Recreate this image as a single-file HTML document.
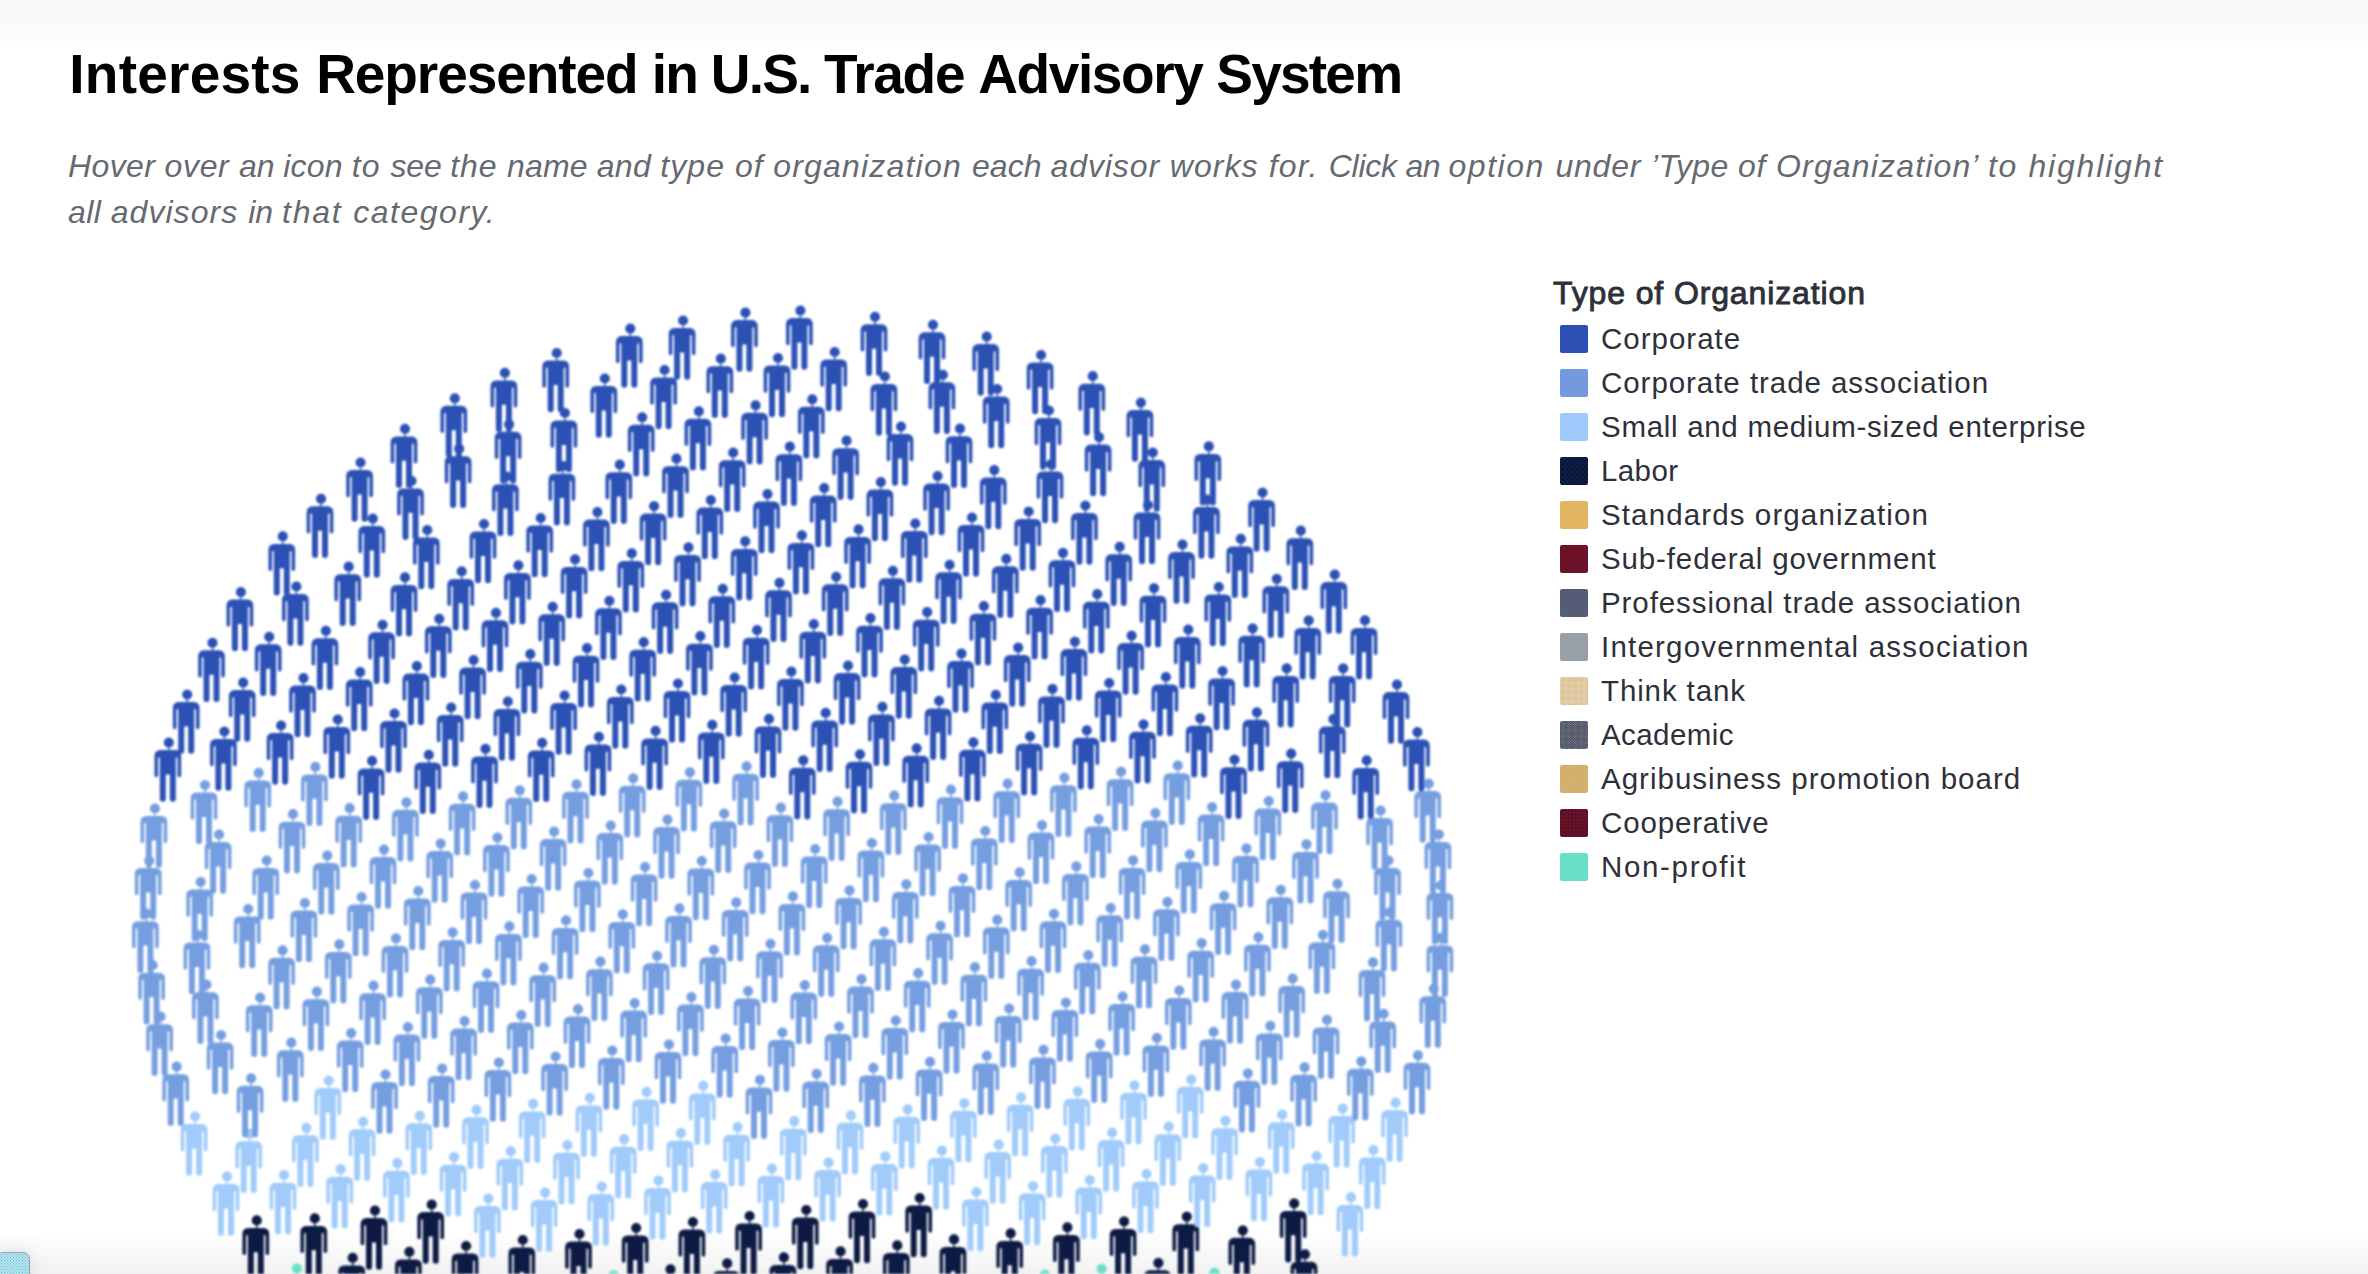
<!DOCTYPE html>
<html><head><meta charset="utf-8"><title>Interests Represented in U.S. Trade Advisory System</title>
<style>
html,body{margin:0;padding:0}
body{width:2368px;height:1274px;overflow:hidden;position:relative;background:#fff;font-family:"Liberation Sans",sans-serif}
.topg{position:absolute;left:0;top:0;width:2368px;height:52px;background:linear-gradient(#f8f8f8 0,#f8f8f8 22%,#fff 100%)}
.botg{position:absolute;left:0;top:1230px;width:2368px;height:44px;background:linear-gradient(#fff,#f2f2f2)}
.corner{position:absolute;left:-4px;top:1252px;width:32px;height:30px;border-radius:7px;background:radial-gradient(circle,#3fd6ae 0.45px,rgba(63,214,174,0) 1px) 0 0/3px 3px,radial-gradient(circle,#3fd6ae 0.45px,rgba(63,214,174,0) 1px) 1.5px 1.5px/3px 3px,#c3defa;border:1px solid #a3a3a3;box-shadow:0 0 16px rgba(150,170,220,0.35)}
h1{position:absolute;left:69.3px;top:39.1px;margin:0;font-size:55px;line-height:70px;font-weight:bold;color:#000;white-space:nowrap}
.sub{position:absolute;left:68px;top:144.2px;margin:0;font-size:32px;line-height:45.6px;font-style:italic;color:#666a70;white-space:nowrap}
.viz{position:absolute;left:0;top:0;filter:blur(0.8px)}
.lt{position:absolute;left:1553px;top:273.5px;font-size:32px;line-height:38px;font-weight:normal;-webkit-text-stroke:0.9px #2e3039;letter-spacing:0.88px;color:#2e3039;white-space:nowrap}
.li{position:absolute;left:1560px;height:28px;white-space:nowrap}
.li i{position:absolute;left:0;top:0;width:28px;height:28px;display:block;border-radius:2px}
.li span{position:absolute;left:41px;top:-5px;font-size:29.5px;line-height:38px;color:#2e3039;letter-spacing:0.9px}
</style></head><body>
<div class="topg"></div><div class="botg"></div>
<h1><span style="letter-spacing:0.23px">Interests </span><span style="letter-spacing:-1.08px">Represented </span><span style="letter-spacing:-1.69px">in </span><span style="letter-spacing:-1.81px">U.S. </span><span style="letter-spacing:-1.30px">Trade </span><span style="letter-spacing:-1.40px">Advisory </span><span style="letter-spacing:-1.77px">System</span></h1>
<p class="sub"><span style="letter-spacing:0.38px">Hover </span><span style="letter-spacing:0.65px">over </span><span style="letter-spacing:-0.09px">an </span><span style="letter-spacing:0.20px">icon </span><span style="letter-spacing:1.04px">to </span><span style="letter-spacing:-0.17px">see </span><span style="letter-spacing:0.86px">the </span><span style="letter-spacing:0.13px">name </span><span style="letter-spacing:0.33px">and </span><span style="letter-spacing:1.08px">type </span><span style="letter-spacing:0.84px">of </span><span style="letter-spacing:1.20px">organization </span><span style="letter-spacing:0.06px">each </span><span style="letter-spacing:0.89px">advisor </span><span style="letter-spacing:1.07px">works </span><span style="letter-spacing:1.21px">for. </span><span style="letter-spacing:-0.25px">Click </span><span style="letter-spacing:-0.46px">an </span><span style="letter-spacing:1.55px">option </span><span style="letter-spacing:0.79px">under </span><span style="letter-spacing:0.37px">’Type </span><span style="letter-spacing:0.84px">of </span><span style="letter-spacing:1.16px">Organization’ </span><span style="letter-spacing:1.64px">to </span><span style="letter-spacing:1.82px">highlight</span><br><span style="letter-spacing:0.45px">all </span><span style="letter-spacing:1.05px">advisors </span><span style="letter-spacing:0.03px">in </span><span style="letter-spacing:1.75px">that </span><span style="letter-spacing:1.53px">category.</span></p>
<svg class="viz" width="2368" height="1274" viewBox="0 0 2368 1274">
<path fill="#6adfc8" d="M297.9,1268.5m-6.1,0a5.1,5.1 0 1,1 10.2,0a5.1,5.1 0 1,1 -10.2,0zm4.4,4h1.4v5h-1.4zm-13.65,9a5.5,5.5 0 0,1 5.5,-5.5h15.7a5.5,5.5 0 0,1 5.5,5.5v19.9a1.8,1.8 0 0,1 -3.6,0v-18.1h-1.75v41.4a3,3 0 0,1 -6,0v-24.3h-4v24.3a3,3 0 0,1 -6,0v-41.4h-1.75v18.1a1.8,1.8 0 0,1 -3.6,0zM614.8,1275.3m-6.1,0a5.1,5.1 0 1,1 10.2,0a5.1,5.1 0 1,1 -10.2,0zm4.4,4h1.4v5h-1.4zm-13.65,9a5.5,5.5 0 0,1 5.5,-5.5h15.7a5.5,5.5 0 0,1 5.5,5.5v19.9a1.8,1.8 0 0,1 -3.6,0v-18.1h-1.75v41.4a3,3 0 0,1 -6,0v-24.3h-4v24.3a3,3 0 0,1 -6,0v-41.4h-1.75v18.1a1.8,1.8 0 0,1 -3.6,0zM1046.0,1274.8m-6.1,0a5.1,5.1 0 1,1 10.2,0a5.1,5.1 0 1,1 -10.2,0zm4.4,4h1.4v5h-1.4zm-13.65,9a5.5,5.5 0 0,1 5.5,-5.5h15.7a5.5,5.5 0 0,1 5.5,5.5v19.9a1.8,1.8 0 0,1 -3.6,0v-18.1h-1.75v41.4a3,3 0 0,1 -6,0v-24.3h-4v24.3a3,3 0 0,1 -6,0v-41.4h-1.75v18.1a1.8,1.8 0 0,1 -3.6,0zM1102.7,1268.8m-6.1,0a5.1,5.1 0 1,1 10.2,0a5.1,5.1 0 1,1 -10.2,0zm4.4,4h1.4v5h-1.4zm-13.65,9a5.5,5.5 0 0,1 5.5,-5.5h15.7a5.5,5.5 0 0,1 5.5,5.5v19.9a1.8,1.8 0 0,1 -3.6,0v-18.1h-1.75v41.4a3,3 0 0,1 -6,0v-24.3h-4v24.3a3,3 0 0,1 -6,0v-41.4h-1.75v18.1a1.8,1.8 0 0,1 -3.6,0zM1215.5,1272.7m-6.1,0a5.1,5.1 0 1,1 10.2,0a5.1,5.1 0 1,1 -10.2,0zm4.4,4h1.4v5h-1.4zm-13.65,9a5.5,5.5 0 0,1 5.5,-5.5h15.7a5.5,5.5 0 0,1 5.5,5.5v19.9a1.8,1.8 0 0,1 -3.6,0v-18.1h-1.75v41.4a3,3 0 0,1 -6,0v-24.3h-4v24.3a3,3 0 0,1 -6,0v-41.4h-1.75v18.1a1.8,1.8 0 0,1 -3.6,0z"/>
<path fill="#0d1b44" d="M257.8,1220.4m-6.1,0a5.1,5.1 0 1,1 10.2,0a5.1,5.1 0 1,1 -10.2,0zm4.4,4h1.4v5h-1.4zm-13.65,9a5.5,5.5 0 0,1 5.5,-5.5h15.7a5.5,5.5 0 0,1 5.5,5.5v19.9a1.8,1.8 0 0,1 -3.6,0v-18.1h-1.75v41.4a3,3 0 0,1 -6,0v-24.3h-4v24.3a3,3 0 0,1 -6,0v-41.4h-1.75v18.1a1.8,1.8 0 0,1 -3.6,0zM315.8,1218.4m-6.1,0a5.1,5.1 0 1,1 10.2,0a5.1,5.1 0 1,1 -10.2,0zm4.4,4h1.4v5h-1.4zm-13.65,9a5.5,5.5 0 0,1 5.5,-5.5h15.7a5.5,5.5 0 0,1 5.5,5.5v19.9a1.8,1.8 0 0,1 -3.6,0v-18.1h-1.75v41.4a3,3 0 0,1 -6,0v-24.3h-4v24.3a3,3 0 0,1 -6,0v-41.4h-1.75v18.1a1.8,1.8 0 0,1 -3.6,0zM376.0,1210.6m-6.1,0a5.1,5.1 0 1,1 10.2,0a5.1,5.1 0 1,1 -10.2,0zm4.4,4h1.4v5h-1.4zm-13.65,9a5.5,5.5 0 0,1 5.5,-5.5h15.7a5.5,5.5 0 0,1 5.5,5.5v19.9a1.8,1.8 0 0,1 -3.6,0v-18.1h-1.75v41.4a3,3 0 0,1 -6,0v-24.3h-4v24.3a3,3 0 0,1 -6,0v-41.4h-1.75v18.1a1.8,1.8 0 0,1 -3.6,0zM432.7,1204.6m-6.1,0a5.1,5.1 0 1,1 10.2,0a5.1,5.1 0 1,1 -10.2,0zm4.4,4h1.4v5h-1.4zm-13.65,9a5.5,5.5 0 0,1 5.5,-5.5h15.7a5.5,5.5 0 0,1 5.5,5.5v19.9a1.8,1.8 0 0,1 -3.6,0v-18.1h-1.75v41.4a3,3 0 0,1 -6,0v-24.3h-4v24.3a3,3 0 0,1 -6,0v-41.4h-1.75v18.1a1.8,1.8 0 0,1 -3.6,0zM353.7,1257.9m-6.1,0a5.1,5.1 0 1,1 10.2,0a5.1,5.1 0 1,1 -10.2,0zm4.4,4h1.4v5h-1.4zm-13.65,9a5.5,5.5 0 0,1 5.5,-5.5h15.7a5.5,5.5 0 0,1 5.5,5.5v19.9a1.8,1.8 0 0,1 -3.6,0v-18.1h-1.75v41.4a3,3 0 0,1 -6,0v-24.3h-4v24.3a3,3 0 0,1 -6,0v-41.4h-1.75v18.1a1.8,1.8 0 0,1 -3.6,0zM410.4,1251.9m-6.1,0a5.1,5.1 0 1,1 10.2,0a5.1,5.1 0 1,1 -10.2,0zm4.4,4h1.4v5h-1.4zm-13.65,9a5.5,5.5 0 0,1 5.5,-5.5h15.7a5.5,5.5 0 0,1 5.5,5.5v19.9a1.8,1.8 0 0,1 -3.6,0v-18.1h-1.75v41.4a3,3 0 0,1 -6,0v-24.3h-4v24.3a3,3 0 0,1 -6,0v-41.4h-1.75v18.1a1.8,1.8 0 0,1 -3.6,0zM467.1,1246.0m-6.1,0a5.1,5.1 0 1,1 10.2,0a5.1,5.1 0 1,1 -10.2,0zm4.4,4h1.4v5h-1.4zm-13.65,9a5.5,5.5 0 0,1 5.5,-5.5h15.7a5.5,5.5 0 0,1 5.5,5.5v19.9a1.8,1.8 0 0,1 -3.6,0v-18.1h-1.75v41.4a3,3 0 0,1 -6,0v-24.3h-4v24.3a3,3 0 0,1 -6,0v-41.4h-1.75v18.1a1.8,1.8 0 0,1 -3.6,0zM523.8,1240.0m-6.1,0a5.1,5.1 0 1,1 10.2,0a5.1,5.1 0 1,1 -10.2,0zm4.4,4h1.4v5h-1.4zm-13.65,9a5.5,5.5 0 0,1 5.5,-5.5h15.7a5.5,5.5 0 0,1 5.5,5.5v19.9a1.8,1.8 0 0,1 -3.6,0v-18.1h-1.75v41.4a3,3 0 0,1 -6,0v-24.3h-4v24.3a3,3 0 0,1 -6,0v-41.4h-1.75v18.1a1.8,1.8 0 0,1 -3.6,0zM580.5,1234.0m-6.1,0a5.1,5.1 0 1,1 10.2,0a5.1,5.1 0 1,1 -10.2,0zm4.4,4h1.4v5h-1.4zm-13.65,9a5.5,5.5 0 0,1 5.5,-5.5h15.7a5.5,5.5 0 0,1 5.5,5.5v19.9a1.8,1.8 0 0,1 -3.6,0v-18.1h-1.75v41.4a3,3 0 0,1 -6,0v-24.3h-4v24.3a3,3 0 0,1 -6,0v-41.4h-1.75v18.1a1.8,1.8 0 0,1 -3.6,0zM637.2,1228.0m-6.1,0a5.1,5.1 0 1,1 10.2,0a5.1,5.1 0 1,1 -10.2,0zm4.4,4h1.4v5h-1.4zm-13.65,9a5.5,5.5 0 0,1 5.5,-5.5h15.7a5.5,5.5 0 0,1 5.5,5.5v19.9a1.8,1.8 0 0,1 -3.6,0v-18.1h-1.75v41.4a3,3 0 0,1 -6,0v-24.3h-4v24.3a3,3 0 0,1 -6,0v-41.4h-1.75v18.1a1.8,1.8 0 0,1 -3.6,0zM693.9,1222.0m-6.1,0a5.1,5.1 0 1,1 10.2,0a5.1,5.1 0 1,1 -10.2,0zm4.4,4h1.4v5h-1.4zm-13.65,9a5.5,5.5 0 0,1 5.5,-5.5h15.7a5.5,5.5 0 0,1 5.5,5.5v19.9a1.8,1.8 0 0,1 -3.6,0v-18.1h-1.75v41.4a3,3 0 0,1 -6,0v-24.3h-4v24.3a3,3 0 0,1 -6,0v-41.4h-1.75v18.1a1.8,1.8 0 0,1 -3.6,0zM750.6,1216.0m-6.1,0a5.1,5.1 0 1,1 10.2,0a5.1,5.1 0 1,1 -10.2,0zm4.4,4h1.4v5h-1.4zm-13.65,9a5.5,5.5 0 0,1 5.5,-5.5h15.7a5.5,5.5 0 0,1 5.5,5.5v19.9a1.8,1.8 0 0,1 -3.6,0v-18.1h-1.75v41.4a3,3 0 0,1 -6,0v-24.3h-4v24.3a3,3 0 0,1 -6,0v-41.4h-1.75v18.1a1.8,1.8 0 0,1 -3.6,0zM671.5,1269.3m-6.1,0a5.1,5.1 0 1,1 10.2,0a5.1,5.1 0 1,1 -10.2,0zm4.4,4h1.4v5h-1.4zm-13.65,9a5.5,5.5 0 0,1 5.5,-5.5h15.7a5.5,5.5 0 0,1 5.5,5.5v19.9a1.8,1.8 0 0,1 -3.6,0v-18.1h-1.75v41.4a3,3 0 0,1 -6,0v-24.3h-4v24.3a3,3 0 0,1 -6,0v-41.4h-1.75v18.1a1.8,1.8 0 0,1 -3.6,0zM728.2,1263.4m-6.1,0a5.1,5.1 0 1,1 10.2,0a5.1,5.1 0 1,1 -10.2,0zm4.4,4h1.4v5h-1.4zm-13.65,9a5.5,5.5 0 0,1 5.5,-5.5h15.7a5.5,5.5 0 0,1 5.5,5.5v19.9a1.8,1.8 0 0,1 -3.6,0v-18.1h-1.75v41.4a3,3 0 0,1 -6,0v-24.3h-4v24.3a3,3 0 0,1 -6,0v-41.4h-1.75v18.1a1.8,1.8 0 0,1 -3.6,0zM784.9,1257.4m-6.1,0a5.1,5.1 0 1,1 10.2,0a5.1,5.1 0 1,1 -10.2,0zm4.4,4h1.4v5h-1.4zm-13.65,9a5.5,5.5 0 0,1 5.5,-5.5h15.7a5.5,5.5 0 0,1 5.5,5.5v19.9a1.8,1.8 0 0,1 -3.6,0v-18.1h-1.75v41.4a3,3 0 0,1 -6,0v-24.3h-4v24.3a3,3 0 0,1 -6,0v-41.4h-1.75v18.1a1.8,1.8 0 0,1 -3.6,0zM807.3,1210.0m-6.1,0a5.1,5.1 0 1,1 10.2,0a5.1,5.1 0 1,1 -10.2,0zm4.4,4h1.4v5h-1.4zm-13.65,9a5.5,5.5 0 0,1 5.5,-5.5h15.7a5.5,5.5 0 0,1 5.5,5.5v19.9a1.8,1.8 0 0,1 -3.6,0v-18.1h-1.75v41.4a3,3 0 0,1 -6,0v-24.3h-4v24.3a3,3 0 0,1 -6,0v-41.4h-1.75v18.1a1.8,1.8 0 0,1 -3.6,0zM864.0,1204.0m-6.1,0a5.1,5.1 0 1,1 10.2,0a5.1,5.1 0 1,1 -10.2,0zm4.4,4h1.4v5h-1.4zm-13.65,9a5.5,5.5 0 0,1 5.5,-5.5h15.7a5.5,5.5 0 0,1 5.5,5.5v19.9a1.8,1.8 0 0,1 -3.6,0v-18.1h-1.75v41.4a3,3 0 0,1 -6,0v-24.3h-4v24.3a3,3 0 0,1 -6,0v-41.4h-1.75v18.1a1.8,1.8 0 0,1 -3.6,0zM920.7,1198.0m-6.1,0a5.1,5.1 0 1,1 10.2,0a5.1,5.1 0 1,1 -10.2,0zm4.4,4h1.4v5h-1.4zm-13.65,9a5.5,5.5 0 0,1 5.5,-5.5h15.7a5.5,5.5 0 0,1 5.5,5.5v19.9a1.8,1.8 0 0,1 -3.6,0v-18.1h-1.75v41.4a3,3 0 0,1 -6,0v-24.3h-4v24.3a3,3 0 0,1 -6,0v-41.4h-1.75v18.1a1.8,1.8 0 0,1 -3.6,0zM841.6,1251.4m-6.1,0a5.1,5.1 0 1,1 10.2,0a5.1,5.1 0 1,1 -10.2,0zm4.4,4h1.4v5h-1.4zm-13.65,9a5.5,5.5 0 0,1 5.5,-5.5h15.7a5.5,5.5 0 0,1 5.5,5.5v19.9a1.8,1.8 0 0,1 -3.6,0v-18.1h-1.75v41.4a3,3 0 0,1 -6,0v-24.3h-4v24.3a3,3 0 0,1 -6,0v-41.4h-1.75v18.1a1.8,1.8 0 0,1 -3.6,0zM898.3,1245.4m-6.1,0a5.1,5.1 0 1,1 10.2,0a5.1,5.1 0 1,1 -10.2,0zm4.4,4h1.4v5h-1.4zm-13.65,9a5.5,5.5 0 0,1 5.5,-5.5h15.7a5.5,5.5 0 0,1 5.5,5.5v19.9a1.8,1.8 0 0,1 -3.6,0v-18.1h-1.75v41.4a3,3 0 0,1 -6,0v-24.3h-4v24.3a3,3 0 0,1 -6,0v-41.4h-1.75v18.1a1.8,1.8 0 0,1 -3.6,0zM955.0,1239.4m-6.1,0a5.1,5.1 0 1,1 10.2,0a5.1,5.1 0 1,1 -10.2,0zm4.4,4h1.4v5h-1.4zm-13.65,9a5.5,5.5 0 0,1 5.5,-5.5h15.7a5.5,5.5 0 0,1 5.5,5.5v19.9a1.8,1.8 0 0,1 -3.6,0v-18.1h-1.75v41.4a3,3 0 0,1 -6,0v-24.3h-4v24.3a3,3 0 0,1 -6,0v-41.4h-1.75v18.1a1.8,1.8 0 0,1 -3.6,0zM1011.7,1233.4m-6.1,0a5.1,5.1 0 1,1 10.2,0a5.1,5.1 0 1,1 -10.2,0zm4.4,4h1.4v5h-1.4zm-13.65,9a5.5,5.5 0 0,1 5.5,-5.5h15.7a5.5,5.5 0 0,1 5.5,5.5v19.9a1.8,1.8 0 0,1 -3.6,0v-18.1h-1.75v41.4a3,3 0 0,1 -6,0v-24.3h-4v24.3a3,3 0 0,1 -6,0v-41.4h-1.75v18.1a1.8,1.8 0 0,1 -3.6,0zM1068.4,1227.4m-6.1,0a5.1,5.1 0 1,1 10.2,0a5.1,5.1 0 1,1 -10.2,0zm4.4,4h1.4v5h-1.4zm-13.65,9a5.5,5.5 0 0,1 5.5,-5.5h15.7a5.5,5.5 0 0,1 5.5,5.5v19.9a1.8,1.8 0 0,1 -3.6,0v-18.1h-1.75v41.4a3,3 0 0,1 -6,0v-24.3h-4v24.3a3,3 0 0,1 -6,0v-41.4h-1.75v18.1a1.8,1.8 0 0,1 -3.6,0zM1125.1,1221.4m-6.1,0a5.1,5.1 0 1,1 10.2,0a5.1,5.1 0 1,1 -10.2,0zm4.4,4h1.4v5h-1.4zm-13.65,9a5.5,5.5 0 0,1 5.5,-5.5h15.7a5.5,5.5 0 0,1 5.5,5.5v19.9a1.8,1.8 0 0,1 -3.6,0v-18.1h-1.75v41.4a3,3 0 0,1 -6,0v-24.3h-4v24.3a3,3 0 0,1 -6,0v-41.4h-1.75v18.1a1.8,1.8 0 0,1 -3.6,0zM1187.8,1216.7m-6.1,0a5.1,5.1 0 1,1 10.2,0a5.1,5.1 0 1,1 -10.2,0zm4.4,4h1.4v5h-1.4zm-13.65,9a5.5,5.5 0 0,1 5.5,-5.5h15.7a5.5,5.5 0 0,1 5.5,5.5v19.9a1.8,1.8 0 0,1 -3.6,0v-18.1h-1.75v41.4a3,3 0 0,1 -6,0v-24.3h-4v24.3a3,3 0 0,1 -6,0v-41.4h-1.75v18.1a1.8,1.8 0 0,1 -3.6,0zM1243.8,1230.3m-6.1,0a5.1,5.1 0 1,1 10.2,0a5.1,5.1 0 1,1 -10.2,0zm4.4,4h1.4v5h-1.4zm-13.65,9a5.5,5.5 0 0,1 5.5,-5.5h15.7a5.5,5.5 0 0,1 5.5,5.5v19.9a1.8,1.8 0 0,1 -3.6,0v-18.1h-1.75v41.4a3,3 0 0,1 -6,0v-24.3h-4v24.3a3,3 0 0,1 -6,0v-41.4h-1.75v18.1a1.8,1.8 0 0,1 -3.6,0zM1295.2,1203.4m-6.1,0a5.1,5.1 0 1,1 10.2,0a5.1,5.1 0 1,1 -10.2,0zm4.4,4h1.4v5h-1.4zm-13.65,9a5.5,5.5 0 0,1 5.5,-5.5h15.7a5.5,5.5 0 0,1 5.5,5.5v19.9a1.8,1.8 0 0,1 -3.6,0v-18.1h-1.75v41.4a3,3 0 0,1 -6,0v-24.3h-4v24.3a3,3 0 0,1 -6,0v-41.4h-1.75v18.1a1.8,1.8 0 0,1 -3.6,0zM1159.4,1262.8m-6.1,0a5.1,5.1 0 1,1 10.2,0a5.1,5.1 0 1,1 -10.2,0zm4.4,4h1.4v5h-1.4zm-13.65,9a5.5,5.5 0 0,1 5.5,-5.5h15.7a5.5,5.5 0 0,1 5.5,5.5v19.9a1.8,1.8 0 0,1 -3.6,0v-18.1h-1.75v41.4a3,3 0 0,1 -6,0v-24.3h-4v24.3a3,3 0 0,1 -6,0v-41.4h-1.75v18.1a1.8,1.8 0 0,1 -3.6,0zM1306.0,1254.3m-6.1,0a5.1,5.1 0 1,1 10.2,0a5.1,5.1 0 1,1 -10.2,0zm4.4,4h1.4v5h-1.4zm-13.65,9a5.5,5.5 0 0,1 5.5,-5.5h15.7a5.5,5.5 0 0,1 5.5,5.5v19.9a1.8,1.8 0 0,1 -3.6,0v-18.1h-1.75v41.4a3,3 0 0,1 -6,0v-24.3h-4v24.3a3,3 0 0,1 -6,0v-41.4h-1.75v18.1a1.8,1.8 0 0,1 -3.6,0z"/>
<path fill="#2b51b4" d="M746.4,312.6m-6.1,0a5.1,5.1 0 1,1 10.2,0a5.1,5.1 0 1,1 -10.2,0zm4.4,4h1.4v5h-1.4zm-13.65,9a5.5,5.5 0 0,1 5.5,-5.5h15.7a5.5,5.5 0 0,1 5.5,5.5v19.9a1.8,1.8 0 0,1 -3.6,0v-18.1h-1.75v41.4a3,3 0 0,1 -6,0v-24.3h-4v24.3a3,3 0 0,1 -6,0v-41.4h-1.75v18.1a1.8,1.8 0 0,1 -3.6,0zM684.1,320.5m-6.1,0a5.1,5.1 0 1,1 10.2,0a5.1,5.1 0 1,1 -10.2,0zm4.4,4h1.4v5h-1.4zm-13.65,9a5.5,5.5 0 0,1 5.5,-5.5h15.7a5.5,5.5 0 0,1 5.5,5.5v19.9a1.8,1.8 0 0,1 -3.6,0v-18.1h-1.75v41.4a3,3 0 0,1 -6,0v-24.3h-4v24.3a3,3 0 0,1 -6,0v-41.4h-1.75v18.1a1.8,1.8 0 0,1 -3.6,0zM631.3,328.6m-6.1,0a5.1,5.1 0 1,1 10.2,0a5.1,5.1 0 1,1 -10.2,0zm4.4,4h1.4v5h-1.4zm-13.65,9a5.5,5.5 0 0,1 5.5,-5.5h15.7a5.5,5.5 0 0,1 5.5,5.5v19.9a1.8,1.8 0 0,1 -3.6,0v-18.1h-1.75v41.4a3,3 0 0,1 -6,0v-24.3h-4v24.3a3,3 0 0,1 -6,0v-41.4h-1.75v18.1a1.8,1.8 0 0,1 -3.6,0zM557.7,353.0m-6.1,0a5.1,5.1 0 1,1 10.2,0a5.1,5.1 0 1,1 -10.2,0zm4.4,4h1.4v5h-1.4zm-13.65,9a5.5,5.5 0 0,1 5.5,-5.5h15.7a5.5,5.5 0 0,1 5.5,5.5v19.9a1.8,1.8 0 0,1 -3.6,0v-18.1h-1.75v41.4a3,3 0 0,1 -6,0v-24.3h-4v24.3a3,3 0 0,1 -6,0v-41.4h-1.75v18.1a1.8,1.8 0 0,1 -3.6,0zM505.9,372.9m-6.1,0a5.1,5.1 0 1,1 10.2,0a5.1,5.1 0 1,1 -10.2,0zm4.4,4h1.4v5h-1.4zm-13.65,9a5.5,5.5 0 0,1 5.5,-5.5h15.7a5.5,5.5 0 0,1 5.5,5.5v19.9a1.8,1.8 0 0,1 -3.6,0v-18.1h-1.75v41.4a3,3 0 0,1 -6,0v-24.3h-4v24.3a3,3 0 0,1 -6,0v-41.4h-1.75v18.1a1.8,1.8 0 0,1 -3.6,0zM455.8,398.3m-6.1,0a5.1,5.1 0 1,1 10.2,0a5.1,5.1 0 1,1 -10.2,0zm4.4,4h1.4v5h-1.4zm-13.65,9a5.5,5.5 0 0,1 5.5,-5.5h15.7a5.5,5.5 0 0,1 5.5,5.5v19.9a1.8,1.8 0 0,1 -3.6,0v-18.1h-1.75v41.4a3,3 0 0,1 -6,0v-24.3h-4v24.3a3,3 0 0,1 -6,0v-41.4h-1.75v18.1a1.8,1.8 0 0,1 -3.6,0zM406.0,428.9m-6.1,0a5.1,5.1 0 1,1 10.2,0a5.1,5.1 0 1,1 -10.2,0zm4.4,4h1.4v5h-1.4zm-13.65,9a5.5,5.5 0 0,1 5.5,-5.5h15.7a5.5,5.5 0 0,1 5.5,5.5v19.9a1.8,1.8 0 0,1 -3.6,0v-18.1h-1.75v41.4a3,3 0 0,1 -6,0v-24.3h-4v24.3a3,3 0 0,1 -6,0v-41.4h-1.75v18.1a1.8,1.8 0 0,1 -3.6,0zM361.6,462.5m-6.1,0a5.1,5.1 0 1,1 10.2,0a5.1,5.1 0 1,1 -10.2,0zm4.4,4h1.4v5h-1.4zm-13.65,9a5.5,5.5 0 0,1 5.5,-5.5h15.7a5.5,5.5 0 0,1 5.5,5.5v19.9a1.8,1.8 0 0,1 -3.6,0v-18.1h-1.75v41.4a3,3 0 0,1 -6,0v-24.3h-4v24.3a3,3 0 0,1 -6,0v-41.4h-1.75v18.1a1.8,1.8 0 0,1 -3.6,0zM322.0,498.8m-6.1,0a5.1,5.1 0 1,1 10.2,0a5.1,5.1 0 1,1 -10.2,0zm4.4,4h1.4v5h-1.4zm-13.65,9a5.5,5.5 0 0,1 5.5,-5.5h15.7a5.5,5.5 0 0,1 5.5,5.5v19.9a1.8,1.8 0 0,1 -3.6,0v-18.1h-1.75v41.4a3,3 0 0,1 -6,0v-24.3h-4v24.3a3,3 0 0,1 -6,0v-41.4h-1.75v18.1a1.8,1.8 0 0,1 -3.6,0zM283.8,536.4m-6.1,0a5.1,5.1 0 1,1 10.2,0a5.1,5.1 0 1,1 -10.2,0zm4.4,4h1.4v5h-1.4zm-13.65,9a5.5,5.5 0 0,1 5.5,-5.5h15.7a5.5,5.5 0 0,1 5.5,5.5v19.9a1.8,1.8 0 0,1 -3.6,0v-18.1h-1.75v41.4a3,3 0 0,1 -6,0v-24.3h-4v24.3a3,3 0 0,1 -6,0v-41.4h-1.75v18.1a1.8,1.8 0 0,1 -3.6,0zM241.9,592.1m-6.1,0a5.1,5.1 0 1,1 10.2,0a5.1,5.1 0 1,1 -10.2,0zm4.4,4h1.4v5h-1.4zm-13.65,9a5.5,5.5 0 0,1 5.5,-5.5h15.7a5.5,5.5 0 0,1 5.5,5.5v19.9a1.8,1.8 0 0,1 -3.6,0v-18.1h-1.75v41.4a3,3 0 0,1 -6,0v-24.3h-4v24.3a3,3 0 0,1 -6,0v-41.4h-1.75v18.1a1.8,1.8 0 0,1 -3.6,0zM213.5,642.8m-6.1,0a5.1,5.1 0 1,1 10.2,0a5.1,5.1 0 1,1 -10.2,0zm4.4,4h1.4v5h-1.4zm-13.65,9a5.5,5.5 0 0,1 5.5,-5.5h15.7a5.5,5.5 0 0,1 5.5,5.5v19.9a1.8,1.8 0 0,1 -3.6,0v-18.1h-1.75v41.4a3,3 0 0,1 -6,0v-24.3h-4v24.3a3,3 0 0,1 -6,0v-41.4h-1.75v18.1a1.8,1.8 0 0,1 -3.6,0zM779.0,358.0m-6.1,0a5.1,5.1 0 1,1 10.2,0a5.1,5.1 0 1,1 -10.2,0zm4.4,4h1.4v5h-1.4zm-13.65,9a5.5,5.5 0 0,1 5.5,-5.5h15.7a5.5,5.5 0 0,1 5.5,5.5v19.9a1.8,1.8 0 0,1 -3.6,0v-18.1h-1.75v41.4a3,3 0 0,1 -6,0v-24.3h-4v24.3a3,3 0 0,1 -6,0v-41.4h-1.75v18.1a1.8,1.8 0 0,1 -3.6,0zM721.8,358.7m-6.1,0a5.1,5.1 0 1,1 10.2,0a5.1,5.1 0 1,1 -10.2,0zm4.4,4h1.4v5h-1.4zm-13.65,9a5.5,5.5 0 0,1 5.5,-5.5h15.7a5.5,5.5 0 0,1 5.5,5.5v19.9a1.8,1.8 0 0,1 -3.6,0v-18.1h-1.75v41.4a3,3 0 0,1 -6,0v-24.3h-4v24.3a3,3 0 0,1 -6,0v-41.4h-1.75v18.1a1.8,1.8 0 0,1 -3.6,0zM665.6,370.0m-6.1,0a5.1,5.1 0 1,1 10.2,0a5.1,5.1 0 1,1 -10.2,0zm4.4,4h1.4v5h-1.4zm-13.65,9a5.5,5.5 0 0,1 5.5,-5.5h15.7a5.5,5.5 0 0,1 5.5,5.5v19.9a1.8,1.8 0 0,1 -3.6,0v-18.1h-1.75v41.4a3,3 0 0,1 -6,0v-24.3h-4v24.3a3,3 0 0,1 -6,0v-41.4h-1.75v18.1a1.8,1.8 0 0,1 -3.6,0zM605.8,378.5m-6.1,0a5.1,5.1 0 1,1 10.2,0a5.1,5.1 0 1,1 -10.2,0zm4.4,4h1.4v5h-1.4zm-13.65,9a5.5,5.5 0 0,1 5.5,-5.5h15.7a5.5,5.5 0 0,1 5.5,5.5v19.9a1.8,1.8 0 0,1 -3.6,0v-18.1h-1.75v41.4a3,3 0 0,1 -6,0v-24.3h-4v24.3a3,3 0 0,1 -6,0v-41.4h-1.75v18.1a1.8,1.8 0 0,1 -3.6,0zM565.9,413.0m-6.1,0a5.1,5.1 0 1,1 10.2,0a5.1,5.1 0 1,1 -10.2,0zm4.4,4h1.4v5h-1.4zm-13.65,9a5.5,5.5 0 0,1 5.5,-5.5h15.7a5.5,5.5 0 0,1 5.5,5.5v19.9a1.8,1.8 0 0,1 -3.6,0v-18.1h-1.75v41.4a3,3 0 0,1 -6,0v-24.3h-4v24.3a3,3 0 0,1 -6,0v-41.4h-1.75v18.1a1.8,1.8 0 0,1 -3.6,0zM510.1,424.3m-6.1,0a5.1,5.1 0 1,1 10.2,0a5.1,5.1 0 1,1 -10.2,0zm4.4,4h1.4v5h-1.4zm-13.65,9a5.5,5.5 0 0,1 5.5,-5.5h15.7a5.5,5.5 0 0,1 5.5,5.5v19.9a1.8,1.8 0 0,1 -3.6,0v-18.1h-1.75v41.4a3,3 0 0,1 -6,0v-24.3h-4v24.3a3,3 0 0,1 -6,0v-41.4h-1.75v18.1a1.8,1.8 0 0,1 -3.6,0zM460.1,448.7m-6.1,0a5.1,5.1 0 1,1 10.2,0a5.1,5.1 0 1,1 -10.2,0zm4.4,4h1.4v5h-1.4zm-13.65,9a5.5,5.5 0 0,1 5.5,-5.5h15.7a5.5,5.5 0 0,1 5.5,5.5v19.9a1.8,1.8 0 0,1 -3.6,0v-18.1h-1.75v41.4a3,3 0 0,1 -6,0v-24.3h-4v24.3a3,3 0 0,1 -6,0v-41.4h-1.75v18.1a1.8,1.8 0 0,1 -3.6,0zM412.5,480.9m-6.1,0a5.1,5.1 0 1,1 10.2,0a5.1,5.1 0 1,1 -10.2,0zm4.4,4h1.4v5h-1.4zm-13.65,9a5.5,5.5 0 0,1 5.5,-5.5h15.7a5.5,5.5 0 0,1 5.5,5.5v19.9a1.8,1.8 0 0,1 -3.6,0v-18.1h-1.75v41.4a3,3 0 0,1 -6,0v-24.3h-4v24.3a3,3 0 0,1 -6,0v-41.4h-1.75v18.1a1.8,1.8 0 0,1 -3.6,0zM373.8,518.6m-6.1,0a5.1,5.1 0 1,1 10.2,0a5.1,5.1 0 1,1 -10.2,0zm4.4,4h1.4v5h-1.4zm-13.65,9a5.5,5.5 0 0,1 5.5,-5.5h15.7a5.5,5.5 0 0,1 5.5,5.5v19.9a1.8,1.8 0 0,1 -3.6,0v-18.1h-1.75v41.4a3,3 0 0,1 -6,0v-24.3h-4v24.3a3,3 0 0,1 -6,0v-41.4h-1.75v18.1a1.8,1.8 0 0,1 -3.6,0zM297.4,586.5m-6.1,0a5.1,5.1 0 1,1 10.2,0a5.1,5.1 0 1,1 -10.2,0zm4.4,4h1.4v5h-1.4zm-13.65,9a5.5,5.5 0 0,1 5.5,-5.5h15.7a5.5,5.5 0 0,1 5.5,5.5v19.9a1.8,1.8 0 0,1 -3.6,0v-18.1h-1.75v41.4a3,3 0 0,1 -6,0v-24.3h-4v24.3a3,3 0 0,1 -6,0v-41.4h-1.75v18.1a1.8,1.8 0 0,1 -3.6,0zM270.2,636.8m-6.1,0a5.1,5.1 0 1,1 10.2,0a5.1,5.1 0 1,1 -10.2,0zm4.4,4h1.4v5h-1.4zm-13.65,9a5.5,5.5 0 0,1 5.5,-5.5h15.7a5.5,5.5 0 0,1 5.5,5.5v19.9a1.8,1.8 0 0,1 -3.6,0v-18.1h-1.75v41.4a3,3 0 0,1 -6,0v-24.3h-4v24.3a3,3 0 0,1 -6,0v-41.4h-1.75v18.1a1.8,1.8 0 0,1 -3.6,0zM756.6,405.3m-6.1,0a5.1,5.1 0 1,1 10.2,0a5.1,5.1 0 1,1 -10.2,0zm4.4,4h1.4v5h-1.4zm-13.65,9a5.5,5.5 0 0,1 5.5,-5.5h15.7a5.5,5.5 0 0,1 5.5,5.5v19.9a1.8,1.8 0 0,1 -3.6,0v-18.1h-1.75v41.4a3,3 0 0,1 -6,0v-24.3h-4v24.3a3,3 0 0,1 -6,0v-41.4h-1.75v18.1a1.8,1.8 0 0,1 -3.6,0zM699.9,411.3m-6.1,0a5.1,5.1 0 1,1 10.2,0a5.1,5.1 0 1,1 -10.2,0zm4.4,4h1.4v5h-1.4zm-13.65,9a5.5,5.5 0 0,1 5.5,-5.5h15.7a5.5,5.5 0 0,1 5.5,5.5v19.9a1.8,1.8 0 0,1 -3.6,0v-18.1h-1.75v41.4a3,3 0 0,1 -6,0v-24.3h-4v24.3a3,3 0 0,1 -6,0v-41.4h-1.75v18.1a1.8,1.8 0 0,1 -3.6,0zM643.2,417.3m-6.1,0a5.1,5.1 0 1,1 10.2,0a5.1,5.1 0 1,1 -10.2,0zm4.4,4h1.4v5h-1.4zm-13.65,9a5.5,5.5 0 0,1 5.5,-5.5h15.7a5.5,5.5 0 0,1 5.5,5.5v19.9a1.8,1.8 0 0,1 -3.6,0v-18.1h-1.75v41.4a3,3 0 0,1 -6,0v-24.3h-4v24.3a3,3 0 0,1 -6,0v-41.4h-1.75v18.1a1.8,1.8 0 0,1 -3.6,0zM563.9,466.2m-6.1,0a5.1,5.1 0 1,1 10.2,0a5.1,5.1 0 1,1 -10.2,0zm4.4,4h1.4v5h-1.4zm-13.65,9a5.5,5.5 0 0,1 5.5,-5.5h15.7a5.5,5.5 0 0,1 5.5,5.5v19.9a1.8,1.8 0 0,1 -3.6,0v-18.1h-1.75v41.4a3,3 0 0,1 -6,0v-24.3h-4v24.3a3,3 0 0,1 -6,0v-41.4h-1.75v18.1a1.8,1.8 0 0,1 -3.6,0zM507.4,476.7m-6.1,0a5.1,5.1 0 1,1 10.2,0a5.1,5.1 0 1,1 -10.2,0zm4.4,4h1.4v5h-1.4zm-13.65,9a5.5,5.5 0 0,1 5.5,-5.5h15.7a5.5,5.5 0 0,1 5.5,5.5v19.9a1.8,1.8 0 0,1 -3.6,0v-18.1h-1.75v41.4a3,3 0 0,1 -6,0v-24.3h-4v24.3a3,3 0 0,1 -6,0v-41.4h-1.75v18.1a1.8,1.8 0 0,1 -3.6,0zM428.3,530.0m-6.1,0a5.1,5.1 0 1,1 10.2,0a5.1,5.1 0 1,1 -10.2,0zm4.4,4h1.4v5h-1.4zm-13.65,9a5.5,5.5 0 0,1 5.5,-5.5h15.7a5.5,5.5 0 0,1 5.5,5.5v19.9a1.8,1.8 0 0,1 -3.6,0v-18.1h-1.75v41.4a3,3 0 0,1 -6,0v-24.3h-4v24.3a3,3 0 0,1 -6,0v-41.4h-1.75v18.1a1.8,1.8 0 0,1 -3.6,0zM349.7,566.7m-6.1,0a5.1,5.1 0 1,1 10.2,0a5.1,5.1 0 1,1 -10.2,0zm4.4,4h1.4v5h-1.4zm-13.65,9a5.5,5.5 0 0,1 5.5,-5.5h15.7a5.5,5.5 0 0,1 5.5,5.5v19.9a1.8,1.8 0 0,1 -3.6,0v-18.1h-1.75v41.4a3,3 0 0,1 -6,0v-24.3h-4v24.3a3,3 0 0,1 -6,0v-41.4h-1.75v18.1a1.8,1.8 0 0,1 -3.6,0zM326.9,630.8m-6.1,0a5.1,5.1 0 1,1 10.2,0a5.1,5.1 0 1,1 -10.2,0zm4.4,4h1.4v5h-1.4zm-13.65,9a5.5,5.5 0 0,1 5.5,-5.5h15.7a5.5,5.5 0 0,1 5.5,5.5v19.9a1.8,1.8 0 0,1 -3.6,0v-18.1h-1.75v41.4a3,3 0 0,1 -6,0v-24.3h-4v24.3a3,3 0 0,1 -6,0v-41.4h-1.75v18.1a1.8,1.8 0 0,1 -3.6,0zM790.9,446.7m-6.1,0a5.1,5.1 0 1,1 10.2,0a5.1,5.1 0 1,1 -10.2,0zm4.4,4h1.4v5h-1.4zm-13.65,9a5.5,5.5 0 0,1 5.5,-5.5h15.7a5.5,5.5 0 0,1 5.5,5.5v19.9a1.8,1.8 0 0,1 -3.6,0v-18.1h-1.75v41.4a3,3 0 0,1 -6,0v-24.3h-4v24.3a3,3 0 0,1 -6,0v-41.4h-1.75v18.1a1.8,1.8 0 0,1 -3.6,0zM734.2,452.7m-6.1,0a5.1,5.1 0 1,1 10.2,0a5.1,5.1 0 1,1 -10.2,0zm4.4,4h1.4v5h-1.4zm-13.65,9a5.5,5.5 0 0,1 5.5,-5.5h15.7a5.5,5.5 0 0,1 5.5,5.5v19.9a1.8,1.8 0 0,1 -3.6,0v-18.1h-1.75v41.4a3,3 0 0,1 -6,0v-24.3h-4v24.3a3,3 0 0,1 -6,0v-41.4h-1.75v18.1a1.8,1.8 0 0,1 -3.6,0zM677.5,458.7m-6.1,0a5.1,5.1 0 1,1 10.2,0a5.1,5.1 0 1,1 -10.2,0zm4.4,4h1.4v5h-1.4zm-13.65,9a5.5,5.5 0 0,1 5.5,-5.5h15.7a5.5,5.5 0 0,1 5.5,5.5v19.9a1.8,1.8 0 0,1 -3.6,0v-18.1h-1.75v41.4a3,3 0 0,1 -6,0v-24.3h-4v24.3a3,3 0 0,1 -6,0v-41.4h-1.75v18.1a1.8,1.8 0 0,1 -3.6,0zM620.8,464.7m-6.1,0a5.1,5.1 0 1,1 10.2,0a5.1,5.1 0 1,1 -10.2,0zm4.4,4h1.4v5h-1.4zm-13.65,9a5.5,5.5 0 0,1 5.5,-5.5h15.7a5.5,5.5 0 0,1 5.5,5.5v19.9a1.8,1.8 0 0,1 -3.6,0v-18.1h-1.75v41.4a3,3 0 0,1 -6,0v-24.3h-4v24.3a3,3 0 0,1 -6,0v-41.4h-1.75v18.1a1.8,1.8 0 0,1 -3.6,0zM485.0,524.0m-6.1,0a5.1,5.1 0 1,1 10.2,0a5.1,5.1 0 1,1 -10.2,0zm4.4,4h1.4v5h-1.4zm-13.65,9a5.5,5.5 0 0,1 5.5,-5.5h15.7a5.5,5.5 0 0,1 5.5,5.5v19.9a1.8,1.8 0 0,1 -3.6,0v-18.1h-1.75v41.4a3,3 0 0,1 -6,0v-24.3h-4v24.3a3,3 0 0,1 -6,0v-41.4h-1.75v18.1a1.8,1.8 0 0,1 -3.6,0zM406.0,577.4m-6.1,0a5.1,5.1 0 1,1 10.2,0a5.1,5.1 0 1,1 -10.2,0zm4.4,4h1.4v5h-1.4zm-13.65,9a5.5,5.5 0 0,1 5.5,-5.5h15.7a5.5,5.5 0 0,1 5.5,5.5v19.9a1.8,1.8 0 0,1 -3.6,0v-18.1h-1.75v41.4a3,3 0 0,1 -6,0v-24.3h-4v24.3a3,3 0 0,1 -6,0v-41.4h-1.75v18.1a1.8,1.8 0 0,1 -3.6,0zM383.6,624.8m-6.1,0a5.1,5.1 0 1,1 10.2,0a5.1,5.1 0 1,1 -10.2,0zm4.4,4h1.4v5h-1.4zm-13.65,9a5.5,5.5 0 0,1 5.5,-5.5h15.7a5.5,5.5 0 0,1 5.5,5.5v19.9a1.8,1.8 0 0,1 -3.6,0v-18.1h-1.75v41.4a3,3 0 0,1 -6,0v-24.3h-4v24.3a3,3 0 0,1 -6,0v-41.4h-1.75v18.1a1.8,1.8 0 0,1 -3.6,0zM768.5,494.1m-6.1,0a5.1,5.1 0 1,1 10.2,0a5.1,5.1 0 1,1 -10.2,0zm4.4,4h1.4v5h-1.4zm-13.65,9a5.5,5.5 0 0,1 5.5,-5.5h15.7a5.5,5.5 0 0,1 5.5,5.5v19.9a1.8,1.8 0 0,1 -3.6,0v-18.1h-1.75v41.4a3,3 0 0,1 -6,0v-24.3h-4v24.3a3,3 0 0,1 -6,0v-41.4h-1.75v18.1a1.8,1.8 0 0,1 -3.6,0zM711.8,500.1m-6.1,0a5.1,5.1 0 1,1 10.2,0a5.1,5.1 0 1,1 -10.2,0zm4.4,4h1.4v5h-1.4zm-13.65,9a5.5,5.5 0 0,1 5.5,-5.5h15.7a5.5,5.5 0 0,1 5.5,5.5v19.9a1.8,1.8 0 0,1 -3.6,0v-18.1h-1.75v41.4a3,3 0 0,1 -6,0v-24.3h-4v24.3a3,3 0 0,1 -6,0v-41.4h-1.75v18.1a1.8,1.8 0 0,1 -3.6,0zM655.1,506.1m-6.1,0a5.1,5.1 0 1,1 10.2,0a5.1,5.1 0 1,1 -10.2,0zm4.4,4h1.4v5h-1.4zm-13.65,9a5.5,5.5 0 0,1 5.5,-5.5h15.7a5.5,5.5 0 0,1 5.5,5.5v19.9a1.8,1.8 0 0,1 -3.6,0v-18.1h-1.75v41.4a3,3 0 0,1 -6,0v-24.3h-4v24.3a3,3 0 0,1 -6,0v-41.4h-1.75v18.1a1.8,1.8 0 0,1 -3.6,0zM598.4,512.1m-6.1,0a5.1,5.1 0 1,1 10.2,0a5.1,5.1 0 1,1 -10.2,0zm4.4,4h1.4v5h-1.4zm-13.65,9a5.5,5.5 0 0,1 5.5,-5.5h15.7a5.5,5.5 0 0,1 5.5,5.5v19.9a1.8,1.8 0 0,1 -3.6,0v-18.1h-1.75v41.4a3,3 0 0,1 -6,0v-24.3h-4v24.3a3,3 0 0,1 -6,0v-41.4h-1.75v18.1a1.8,1.8 0 0,1 -3.6,0zM541.7,518.0m-6.1,0a5.1,5.1 0 1,1 10.2,0a5.1,5.1 0 1,1 -10.2,0zm4.4,4h1.4v5h-1.4zm-13.65,9a5.5,5.5 0 0,1 5.5,-5.5h15.7a5.5,5.5 0 0,1 5.5,5.5v19.9a1.8,1.8 0 0,1 -3.6,0v-18.1h-1.75v41.4a3,3 0 0,1 -6,0v-24.3h-4v24.3a3,3 0 0,1 -6,0v-41.4h-1.75v18.1a1.8,1.8 0 0,1 -3.6,0zM462.7,571.4m-6.1,0a5.1,5.1 0 1,1 10.2,0a5.1,5.1 0 1,1 -10.2,0zm4.4,4h1.4v5h-1.4zm-13.65,9a5.5,5.5 0 0,1 5.5,-5.5h15.7a5.5,5.5 0 0,1 5.5,5.5v19.9a1.8,1.8 0 0,1 -3.6,0v-18.1h-1.75v41.4a3,3 0 0,1 -6,0v-24.3h-4v24.3a3,3 0 0,1 -6,0v-41.4h-1.75v18.1a1.8,1.8 0 0,1 -3.6,0zM440.3,618.8m-6.1,0a5.1,5.1 0 1,1 10.2,0a5.1,5.1 0 1,1 -10.2,0zm4.4,4h1.4v5h-1.4zm-13.65,9a5.5,5.5 0 0,1 5.5,-5.5h15.7a5.5,5.5 0 0,1 5.5,5.5v19.9a1.8,1.8 0 0,1 -3.6,0v-18.1h-1.75v41.4a3,3 0 0,1 -6,0v-24.3h-4v24.3a3,3 0 0,1 -6,0v-41.4h-1.75v18.1a1.8,1.8 0 0,1 -3.6,0zM746.2,541.4m-6.1,0a5.1,5.1 0 1,1 10.2,0a5.1,5.1 0 1,1 -10.2,0zm4.4,4h1.4v5h-1.4zm-13.65,9a5.5,5.5 0 0,1 5.5,-5.5h15.7a5.5,5.5 0 0,1 5.5,5.5v19.9a1.8,1.8 0 0,1 -3.6,0v-18.1h-1.75v41.4a3,3 0 0,1 -6,0v-24.3h-4v24.3a3,3 0 0,1 -6,0v-41.4h-1.75v18.1a1.8,1.8 0 0,1 -3.6,0zM689.5,547.4m-6.1,0a5.1,5.1 0 1,1 10.2,0a5.1,5.1 0 1,1 -10.2,0zm4.4,4h1.4v5h-1.4zm-13.65,9a5.5,5.5 0 0,1 5.5,-5.5h15.7a5.5,5.5 0 0,1 5.5,5.5v19.9a1.8,1.8 0 0,1 -3.6,0v-18.1h-1.75v41.4a3,3 0 0,1 -6,0v-24.3h-4v24.3a3,3 0 0,1 -6,0v-41.4h-1.75v18.1a1.8,1.8 0 0,1 -3.6,0zM632.8,553.4m-6.1,0a5.1,5.1 0 1,1 10.2,0a5.1,5.1 0 1,1 -10.2,0zm4.4,4h1.4v5h-1.4zm-13.65,9a5.5,5.5 0 0,1 5.5,-5.5h15.7a5.5,5.5 0 0,1 5.5,5.5v19.9a1.8,1.8 0 0,1 -3.6,0v-18.1h-1.75v41.4a3,3 0 0,1 -6,0v-24.3h-4v24.3a3,3 0 0,1 -6,0v-41.4h-1.75v18.1a1.8,1.8 0 0,1 -3.6,0zM576.1,559.4m-6.1,0a5.1,5.1 0 1,1 10.2,0a5.1,5.1 0 1,1 -10.2,0zm4.4,4h1.4v5h-1.4zm-13.65,9a5.5,5.5 0 0,1 5.5,-5.5h15.7a5.5,5.5 0 0,1 5.5,5.5v19.9a1.8,1.8 0 0,1 -3.6,0v-18.1h-1.75v41.4a3,3 0 0,1 -6,0v-24.3h-4v24.3a3,3 0 0,1 -6,0v-41.4h-1.75v18.1a1.8,1.8 0 0,1 -3.6,0zM519.4,565.4m-6.1,0a5.1,5.1 0 1,1 10.2,0a5.1,5.1 0 1,1 -10.2,0zm4.4,4h1.4v5h-1.4zm-13.65,9a5.5,5.5 0 0,1 5.5,-5.5h15.7a5.5,5.5 0 0,1 5.5,5.5v19.9a1.8,1.8 0 0,1 -3.6,0v-18.1h-1.75v41.4a3,3 0 0,1 -6,0v-24.3h-4v24.3a3,3 0 0,1 -6,0v-41.4h-1.75v18.1a1.8,1.8 0 0,1 -3.6,0zM497.0,612.8m-6.1,0a5.1,5.1 0 1,1 10.2,0a5.1,5.1 0 1,1 -10.2,0zm4.4,4h1.4v5h-1.4zm-13.65,9a5.5,5.5 0 0,1 5.5,-5.5h15.7a5.5,5.5 0 0,1 5.5,5.5v19.9a1.8,1.8 0 0,1 -3.6,0v-18.1h-1.75v41.4a3,3 0 0,1 -6,0v-24.3h-4v24.3a3,3 0 0,1 -6,0v-41.4h-1.75v18.1a1.8,1.8 0 0,1 -3.6,0zM780.5,582.8m-6.1,0a5.1,5.1 0 1,1 10.2,0a5.1,5.1 0 1,1 -10.2,0zm4.4,4h1.4v5h-1.4zm-13.65,9a5.5,5.5 0 0,1 5.5,-5.5h15.7a5.5,5.5 0 0,1 5.5,5.5v19.9a1.8,1.8 0 0,1 -3.6,0v-18.1h-1.75v41.4a3,3 0 0,1 -6,0v-24.3h-4v24.3a3,3 0 0,1 -6,0v-41.4h-1.75v18.1a1.8,1.8 0 0,1 -3.6,0zM723.8,588.8m-6.1,0a5.1,5.1 0 1,1 10.2,0a5.1,5.1 0 1,1 -10.2,0zm4.4,4h1.4v5h-1.4zm-13.65,9a5.5,5.5 0 0,1 5.5,-5.5h15.7a5.5,5.5 0 0,1 5.5,5.5v19.9a1.8,1.8 0 0,1 -3.6,0v-18.1h-1.75v41.4a3,3 0 0,1 -6,0v-24.3h-4v24.3a3,3 0 0,1 -6,0v-41.4h-1.75v18.1a1.8,1.8 0 0,1 -3.6,0zM667.1,594.8m-6.1,0a5.1,5.1 0 1,1 10.2,0a5.1,5.1 0 1,1 -10.2,0zm4.4,4h1.4v5h-1.4zm-13.65,9a5.5,5.5 0 0,1 5.5,-5.5h15.7a5.5,5.5 0 0,1 5.5,5.5v19.9a1.8,1.8 0 0,1 -3.6,0v-18.1h-1.75v41.4a3,3 0 0,1 -6,0v-24.3h-4v24.3a3,3 0 0,1 -6,0v-41.4h-1.75v18.1a1.8,1.8 0 0,1 -3.6,0zM610.4,600.8m-6.1,0a5.1,5.1 0 1,1 10.2,0a5.1,5.1 0 1,1 -10.2,0zm4.4,4h1.4v5h-1.4zm-13.65,9a5.5,5.5 0 0,1 5.5,-5.5h15.7a5.5,5.5 0 0,1 5.5,5.5v19.9a1.8,1.8 0 0,1 -3.6,0v-18.1h-1.75v41.4a3,3 0 0,1 -6,0v-24.3h-4v24.3a3,3 0 0,1 -6,0v-41.4h-1.75v18.1a1.8,1.8 0 0,1 -3.6,0zM553.7,606.8m-6.1,0a5.1,5.1 0 1,1 10.2,0a5.1,5.1 0 1,1 -10.2,0zm4.4,4h1.4v5h-1.4zm-13.65,9a5.5,5.5 0 0,1 5.5,-5.5h15.7a5.5,5.5 0 0,1 5.5,5.5v19.9a1.8,1.8 0 0,1 -3.6,0v-18.1h-1.75v41.4a3,3 0 0,1 -6,0v-24.3h-4v24.3a3,3 0 0,1 -6,0v-41.4h-1.75v18.1a1.8,1.8 0 0,1 -3.6,0zM758.1,630.2m-6.1,0a5.1,5.1 0 1,1 10.2,0a5.1,5.1 0 1,1 -10.2,0zm4.4,4h1.4v5h-1.4zm-13.65,9a5.5,5.5 0 0,1 5.5,-5.5h15.7a5.5,5.5 0 0,1 5.5,5.5v19.9a1.8,1.8 0 0,1 -3.6,0v-18.1h-1.75v41.4a3,3 0 0,1 -6,0v-24.3h-4v24.3a3,3 0 0,1 -6,0v-41.4h-1.75v18.1a1.8,1.8 0 0,1 -3.6,0zM701.4,636.2m-6.1,0a5.1,5.1 0 1,1 10.2,0a5.1,5.1 0 1,1 -10.2,0zm4.4,4h1.4v5h-1.4zm-13.65,9a5.5,5.5 0 0,1 5.5,-5.5h15.7a5.5,5.5 0 0,1 5.5,5.5v19.9a1.8,1.8 0 0,1 -3.6,0v-18.1h-1.75v41.4a3,3 0 0,1 -6,0v-24.3h-4v24.3a3,3 0 0,1 -6,0v-41.4h-1.75v18.1a1.8,1.8 0 0,1 -3.6,0zM644.7,642.2m-6.1,0a5.1,5.1 0 1,1 10.2,0a5.1,5.1 0 1,1 -10.2,0zm4.4,4h1.4v5h-1.4zm-13.65,9a5.5,5.5 0 0,1 5.5,-5.5h15.7a5.5,5.5 0 0,1 5.5,5.5v19.9a1.8,1.8 0 0,1 -3.6,0v-18.1h-1.75v41.4a3,3 0 0,1 -6,0v-24.3h-4v24.3a3,3 0 0,1 -6,0v-41.4h-1.75v18.1a1.8,1.8 0 0,1 -3.6,0zM588.0,648.2m-6.1,0a5.1,5.1 0 1,1 10.2,0a5.1,5.1 0 1,1 -10.2,0zm4.4,4h1.4v5h-1.4zm-13.65,9a5.5,5.5 0 0,1 5.5,-5.5h15.7a5.5,5.5 0 0,1 5.5,5.5v19.9a1.8,1.8 0 0,1 -3.6,0v-18.1h-1.75v41.4a3,3 0 0,1 -6,0v-24.3h-4v24.3a3,3 0 0,1 -6,0v-41.4h-1.75v18.1a1.8,1.8 0 0,1 -3.6,0zM801.4,310.6m-6.1,0a5.1,5.1 0 1,1 10.2,0a5.1,5.1 0 1,1 -10.2,0zm4.4,4h1.4v5h-1.4zm-13.65,9a5.5,5.5 0 0,1 5.5,-5.5h15.7a5.5,5.5 0 0,1 5.5,5.5v19.9a1.8,1.8 0 0,1 -3.6,0v-18.1h-1.75v41.4a3,3 0 0,1 -6,0v-24.3h-4v24.3a3,3 0 0,1 -6,0v-41.4h-1.75v18.1a1.8,1.8 0 0,1 -3.6,0zM876.0,316.8m-6.1,0a5.1,5.1 0 1,1 10.2,0a5.1,5.1 0 1,1 -10.2,0zm4.4,4h1.4v5h-1.4zm-13.65,9a5.5,5.5 0 0,1 5.5,-5.5h15.7a5.5,5.5 0 0,1 5.5,5.5v19.9a1.8,1.8 0 0,1 -3.6,0v-18.1h-1.75v41.4a3,3 0 0,1 -6,0v-24.3h-4v24.3a3,3 0 0,1 -6,0v-41.4h-1.75v18.1a1.8,1.8 0 0,1 -3.6,0zM934.0,324.8m-6.1,0a5.1,5.1 0 1,1 10.2,0a5.1,5.1 0 1,1 -10.2,0zm4.4,4h1.4v5h-1.4zm-13.65,9a5.5,5.5 0 0,1 5.5,-5.5h15.7a5.5,5.5 0 0,1 5.5,5.5v19.9a1.8,1.8 0 0,1 -3.6,0v-18.1h-1.75v41.4a3,3 0 0,1 -6,0v-24.3h-4v24.3a3,3 0 0,1 -6,0v-41.4h-1.75v18.1a1.8,1.8 0 0,1 -3.6,0zM987.7,336.6m-6.1,0a5.1,5.1 0 1,1 10.2,0a5.1,5.1 0 1,1 -10.2,0zm4.4,4h1.4v5h-1.4zm-13.65,9a5.5,5.5 0 0,1 5.5,-5.5h15.7a5.5,5.5 0 0,1 5.5,5.5v19.9a1.8,1.8 0 0,1 -3.6,0v-18.1h-1.75v41.4a3,3 0 0,1 -6,0v-24.3h-4v24.3a3,3 0 0,1 -6,0v-41.4h-1.75v18.1a1.8,1.8 0 0,1 -3.6,0zM1042.1,355.0m-6.1,0a5.1,5.1 0 1,1 10.2,0a5.1,5.1 0 1,1 -10.2,0zm4.4,4h1.4v5h-1.4zm-13.65,9a5.5,5.5 0 0,1 5.5,-5.5h15.7a5.5,5.5 0 0,1 5.5,5.5v19.9a1.8,1.8 0 0,1 -3.6,0v-18.1h-1.75v41.4a3,3 0 0,1 -6,0v-24.3h-4v24.3a3,3 0 0,1 -6,0v-41.4h-1.75v18.1a1.8,1.8 0 0,1 -3.6,0zM1093.8,376.2m-6.1,0a5.1,5.1 0 1,1 10.2,0a5.1,5.1 0 1,1 -10.2,0zm4.4,4h1.4v5h-1.4zm-13.65,9a5.5,5.5 0 0,1 5.5,-5.5h15.7a5.5,5.5 0 0,1 5.5,5.5v19.9a1.8,1.8 0 0,1 -3.6,0v-18.1h-1.75v41.4a3,3 0 0,1 -6,0v-24.3h-4v24.3a3,3 0 0,1 -6,0v-41.4h-1.75v18.1a1.8,1.8 0 0,1 -3.6,0zM1141.9,402.6m-6.1,0a5.1,5.1 0 1,1 10.2,0a5.1,5.1 0 1,1 -10.2,0zm4.4,4h1.4v5h-1.4zm-13.65,9a5.5,5.5 0 0,1 5.5,-5.5h15.7a5.5,5.5 0 0,1 5.5,5.5v19.9a1.8,1.8 0 0,1 -3.6,0v-18.1h-1.75v41.4a3,3 0 0,1 -6,0v-24.3h-4v24.3a3,3 0 0,1 -6,0v-41.4h-1.75v18.1a1.8,1.8 0 0,1 -3.6,0zM1209.8,446.4m-6.1,0a5.1,5.1 0 1,1 10.2,0a5.1,5.1 0 1,1 -10.2,0zm4.4,4h1.4v5h-1.4zm-13.65,9a5.5,5.5 0 0,1 5.5,-5.5h15.7a5.5,5.5 0 0,1 5.5,5.5v19.9a1.8,1.8 0 0,1 -3.6,0v-18.1h-1.75v41.4a3,3 0 0,1 -6,0v-24.3h-4v24.3a3,3 0 0,1 -6,0v-41.4h-1.75v18.1a1.8,1.8 0 0,1 -3.6,0zM1263.6,492.5m-6.1,0a5.1,5.1 0 1,1 10.2,0a5.1,5.1 0 1,1 -10.2,0zm4.4,4h1.4v5h-1.4zm-13.65,9a5.5,5.5 0 0,1 5.5,-5.5h15.7a5.5,5.5 0 0,1 5.5,5.5v19.9a1.8,1.8 0 0,1 -3.6,0v-18.1h-1.75v41.4a3,3 0 0,1 -6,0v-24.3h-4v24.3a3,3 0 0,1 -6,0v-41.4h-1.75v18.1a1.8,1.8 0 0,1 -3.6,0zM1301.8,530.7m-6.1,0a5.1,5.1 0 1,1 10.2,0a5.1,5.1 0 1,1 -10.2,0zm4.4,4h1.4v5h-1.4zm-13.65,9a5.5,5.5 0 0,1 5.5,-5.5h15.7a5.5,5.5 0 0,1 5.5,5.5v19.9a1.8,1.8 0 0,1 -3.6,0v-18.1h-1.75v41.4a3,3 0 0,1 -6,0v-24.3h-4v24.3a3,3 0 0,1 -6,0v-41.4h-1.75v18.1a1.8,1.8 0 0,1 -3.6,0zM1335.8,574.6m-6.1,0a5.1,5.1 0 1,1 10.2,0a5.1,5.1 0 1,1 -10.2,0zm4.4,4h1.4v5h-1.4zm-13.65,9a5.5,5.5 0 0,1 5.5,-5.5h15.7a5.5,5.5 0 0,1 5.5,5.5v19.9a1.8,1.8 0 0,1 -3.6,0v-18.1h-1.75v41.4a3,3 0 0,1 -6,0v-24.3h-4v24.3a3,3 0 0,1 -6,0v-41.4h-1.75v18.1a1.8,1.8 0 0,1 -3.6,0zM1366.0,620.4m-6.1,0a5.1,5.1 0 1,1 10.2,0a5.1,5.1 0 1,1 -10.2,0zm4.4,4h1.4v5h-1.4zm-13.65,9a5.5,5.5 0 0,1 5.5,-5.5h15.7a5.5,5.5 0 0,1 5.5,5.5v19.9a1.8,1.8 0 0,1 -3.6,0v-18.1h-1.75v41.4a3,3 0 0,1 -6,0v-24.3h-4v24.3a3,3 0 0,1 -6,0v-41.4h-1.75v18.1a1.8,1.8 0 0,1 -3.6,0zM835.7,352.0m-6.1,0a5.1,5.1 0 1,1 10.2,0a5.1,5.1 0 1,1 -10.2,0zm4.4,4h1.4v5h-1.4zm-13.65,9a5.5,5.5 0 0,1 5.5,-5.5h15.7a5.5,5.5 0 0,1 5.5,5.5v19.9a1.8,1.8 0 0,1 -3.6,0v-18.1h-1.75v41.4a3,3 0 0,1 -6,0v-24.3h-4v24.3a3,3 0 0,1 -6,0v-41.4h-1.75v18.1a1.8,1.8 0 0,1 -3.6,0zM885.9,376.5m-6.1,0a5.1,5.1 0 1,1 10.2,0a5.1,5.1 0 1,1 -10.2,0zm4.4,4h1.4v5h-1.4zm-13.65,9a5.5,5.5 0 0,1 5.5,-5.5h15.7a5.5,5.5 0 0,1 5.5,5.5v19.9a1.8,1.8 0 0,1 -3.6,0v-18.1h-1.75v41.4a3,3 0 0,1 -6,0v-24.3h-4v24.3a3,3 0 0,1 -6,0v-41.4h-1.75v18.1a1.8,1.8 0 0,1 -3.6,0zM943.9,374.8m-6.1,0a5.1,5.1 0 1,1 10.2,0a5.1,5.1 0 1,1 -10.2,0zm4.4,4h1.4v5h-1.4zm-13.65,9a5.5,5.5 0 0,1 5.5,-5.5h15.7a5.5,5.5 0 0,1 5.5,5.5v19.9a1.8,1.8 0 0,1 -3.6,0v-18.1h-1.75v41.4a3,3 0 0,1 -6,0v-24.3h-4v24.3a3,3 0 0,1 -6,0v-41.4h-1.75v18.1a1.8,1.8 0 0,1 -3.6,0zM998.2,389.0m-6.1,0a5.1,5.1 0 1,1 10.2,0a5.1,5.1 0 1,1 -10.2,0zm4.4,4h1.4v5h-1.4zm-13.65,9a5.5,5.5 0 0,1 5.5,-5.5h15.7a5.5,5.5 0 0,1 5.5,5.5v19.9a1.8,1.8 0 0,1 -3.6,0v-18.1h-1.75v41.4a3,3 0 0,1 -6,0v-24.3h-4v24.3a3,3 0 0,1 -6,0v-41.4h-1.75v18.1a1.8,1.8 0 0,1 -3.6,0zM1050.0,410.5m-6.1,0a5.1,5.1 0 1,1 10.2,0a5.1,5.1 0 1,1 -10.2,0zm4.4,4h1.4v5h-1.4zm-13.65,9a5.5,5.5 0 0,1 5.5,-5.5h15.7a5.5,5.5 0 0,1 5.5,5.5v19.9a1.8,1.8 0 0,1 -3.6,0v-18.1h-1.75v41.4a3,3 0 0,1 -6,0v-24.3h-4v24.3a3,3 0 0,1 -6,0v-41.4h-1.75v18.1a1.8,1.8 0 0,1 -3.6,0zM1100.1,437.1m-6.1,0a5.1,5.1 0 1,1 10.2,0a5.1,5.1 0 1,1 -10.2,0zm4.4,4h1.4v5h-1.4zm-13.65,9a5.5,5.5 0 0,1 5.5,-5.5h15.7a5.5,5.5 0 0,1 5.5,5.5v19.9a1.8,1.8 0 0,1 -3.6,0v-18.1h-1.75v41.4a3,3 0 0,1 -6,0v-24.3h-4v24.3a3,3 0 0,1 -6,0v-41.4h-1.75v18.1a1.8,1.8 0 0,1 -3.6,0zM1153.8,452.6m-6.1,0a5.1,5.1 0 1,1 10.2,0a5.1,5.1 0 1,1 -10.2,0zm4.4,4h1.4v5h-1.4zm-13.65,9a5.5,5.5 0 0,1 5.5,-5.5h15.7a5.5,5.5 0 0,1 5.5,5.5v19.9a1.8,1.8 0 0,1 -3.6,0v-18.1h-1.75v41.4a3,3 0 0,1 -6,0v-24.3h-4v24.3a3,3 0 0,1 -6,0v-41.4h-1.75v18.1a1.8,1.8 0 0,1 -3.6,0zM1208.4,499.6m-6.1,0a5.1,5.1 0 1,1 10.2,0a5.1,5.1 0 1,1 -10.2,0zm4.4,4h1.4v5h-1.4zm-13.65,9a5.5,5.5 0 0,1 5.5,-5.5h15.7a5.5,5.5 0 0,1 5.5,5.5v19.9a1.8,1.8 0 0,1 -3.6,0v-18.1h-1.75v41.4a3,3 0 0,1 -6,0v-24.3h-4v24.3a3,3 0 0,1 -6,0v-41.4h-1.75v18.1a1.8,1.8 0 0,1 -3.6,0zM1241.8,538.9m-6.1,0a5.1,5.1 0 1,1 10.2,0a5.1,5.1 0 1,1 -10.2,0zm4.4,4h1.4v5h-1.4zm-13.65,9a5.5,5.5 0 0,1 5.5,-5.5h15.7a5.5,5.5 0 0,1 5.5,5.5v19.9a1.8,1.8 0 0,1 -3.6,0v-18.1h-1.75v41.4a3,3 0 0,1 -6,0v-24.3h-4v24.3a3,3 0 0,1 -6,0v-41.4h-1.75v18.1a1.8,1.8 0 0,1 -3.6,0zM1277.8,578.8m-6.1,0a5.1,5.1 0 1,1 10.2,0a5.1,5.1 0 1,1 -10.2,0zm4.4,4h1.4v5h-1.4zm-13.65,9a5.5,5.5 0 0,1 5.5,-5.5h15.7a5.5,5.5 0 0,1 5.5,5.5v19.9a1.8,1.8 0 0,1 -3.6,0v-18.1h-1.75v41.4a3,3 0 0,1 -6,0v-24.3h-4v24.3a3,3 0 0,1 -6,0v-41.4h-1.75v18.1a1.8,1.8 0 0,1 -3.6,0zM1309.7,620.4m-6.1,0a5.1,5.1 0 1,1 10.2,0a5.1,5.1 0 1,1 -10.2,0zm4.4,4h1.4v5h-1.4zm-13.65,9a5.5,5.5 0 0,1 5.5,-5.5h15.7a5.5,5.5 0 0,1 5.5,5.5v19.9a1.8,1.8 0 0,1 -3.6,0v-18.1h-1.75v41.4a3,3 0 0,1 -6,0v-24.3h-4v24.3a3,3 0 0,1 -6,0v-41.4h-1.75v18.1a1.8,1.8 0 0,1 -3.6,0zM813.3,399.3m-6.1,0a5.1,5.1 0 1,1 10.2,0a5.1,5.1 0 1,1 -10.2,0zm4.4,4h1.4v5h-1.4zm-13.65,9a5.5,5.5 0 0,1 5.5,-5.5h15.7a5.5,5.5 0 0,1 5.5,5.5v19.9a1.8,1.8 0 0,1 -3.6,0v-18.1h-1.75v41.4a3,3 0 0,1 -6,0v-24.3h-4v24.3a3,3 0 0,1 -6,0v-41.4h-1.75v18.1a1.8,1.8 0 0,1 -3.6,0zM902.0,426.6m-6.1,0a5.1,5.1 0 1,1 10.2,0a5.1,5.1 0 1,1 -10.2,0zm4.4,4h1.4v5h-1.4zm-13.65,9a5.5,5.5 0 0,1 5.5,-5.5h15.7a5.5,5.5 0 0,1 5.5,5.5v19.9a1.8,1.8 0 0,1 -3.6,0v-18.1h-1.75v41.4a3,3 0 0,1 -6,0v-24.3h-4v24.3a3,3 0 0,1 -6,0v-41.4h-1.75v18.1a1.8,1.8 0 0,1 -3.6,0zM961.0,428.7m-6.1,0a5.1,5.1 0 1,1 10.2,0a5.1,5.1 0 1,1 -10.2,0zm4.4,4h1.4v5h-1.4zm-13.65,9a5.5,5.5 0 0,1 5.5,-5.5h15.7a5.5,5.5 0 0,1 5.5,5.5v19.9a1.8,1.8 0 0,1 -3.6,0v-18.1h-1.75v41.4a3,3 0 0,1 -6,0v-24.3h-4v24.3a3,3 0 0,1 -6,0v-41.4h-1.75v18.1a1.8,1.8 0 0,1 -3.6,0zM1052.0,464.1m-6.1,0a5.1,5.1 0 1,1 10.2,0a5.1,5.1 0 1,1 -10.2,0zm4.4,4h1.4v5h-1.4zm-13.65,9a5.5,5.5 0 0,1 5.5,-5.5h15.7a5.5,5.5 0 0,1 5.5,5.5v19.9a1.8,1.8 0 0,1 -3.6,0v-18.1h-1.75v41.4a3,3 0 0,1 -6,0v-24.3h-4v24.3a3,3 0 0,1 -6,0v-41.4h-1.75v18.1a1.8,1.8 0 0,1 -3.6,0zM1149.0,505.0m-6.1,0a5.1,5.1 0 1,1 10.2,0a5.1,5.1 0 1,1 -10.2,0zm4.4,4h1.4v5h-1.4zm-13.65,9a5.5,5.5 0 0,1 5.5,-5.5h15.7a5.5,5.5 0 0,1 5.5,5.5v19.9a1.8,1.8 0 0,1 -3.6,0v-18.1h-1.75v41.4a3,3 0 0,1 -6,0v-24.3h-4v24.3a3,3 0 0,1 -6,0v-41.4h-1.75v18.1a1.8,1.8 0 0,1 -3.6,0zM1183.5,544.6m-6.1,0a5.1,5.1 0 1,1 10.2,0a5.1,5.1 0 1,1 -10.2,0zm4.4,4h1.4v5h-1.4zm-13.65,9a5.5,5.5 0 0,1 5.5,-5.5h15.7a5.5,5.5 0 0,1 5.5,5.5v19.9a1.8,1.8 0 0,1 -3.6,0v-18.1h-1.75v41.4a3,3 0 0,1 -6,0v-24.3h-4v24.3a3,3 0 0,1 -6,0v-41.4h-1.75v18.1a1.8,1.8 0 0,1 -3.6,0zM1219.8,587.0m-6.1,0a5.1,5.1 0 1,1 10.2,0a5.1,5.1 0 1,1 -10.2,0zm4.4,4h1.4v5h-1.4zm-13.65,9a5.5,5.5 0 0,1 5.5,-5.5h15.7a5.5,5.5 0 0,1 5.5,5.5v19.9a1.8,1.8 0 0,1 -3.6,0v-18.1h-1.75v41.4a3,3 0 0,1 -6,0v-24.3h-4v24.3a3,3 0 0,1 -6,0v-41.4h-1.75v18.1a1.8,1.8 0 0,1 -3.6,0zM1253.7,628.3m-6.1,0a5.1,5.1 0 1,1 10.2,0a5.1,5.1 0 1,1 -10.2,0zm4.4,4h1.4v5h-1.4zm-13.65,9a5.5,5.5 0 0,1 5.5,-5.5h15.7a5.5,5.5 0 0,1 5.5,5.5v19.9a1.8,1.8 0 0,1 -3.6,0v-18.1h-1.75v41.4a3,3 0 0,1 -6,0v-24.3h-4v24.3a3,3 0 0,1 -6,0v-41.4h-1.75v18.1a1.8,1.8 0 0,1 -3.6,0zM847.6,440.7m-6.1,0a5.1,5.1 0 1,1 10.2,0a5.1,5.1 0 1,1 -10.2,0zm4.4,4h1.4v5h-1.4zm-13.65,9a5.5,5.5 0 0,1 5.5,-5.5h15.7a5.5,5.5 0 0,1 5.5,5.5v19.9a1.8,1.8 0 0,1 -3.6,0v-18.1h-1.75v41.4a3,3 0 0,1 -6,0v-24.3h-4v24.3a3,3 0 0,1 -6,0v-41.4h-1.75v18.1a1.8,1.8 0 0,1 -3.6,0zM938.6,476.1m-6.1,0a5.1,5.1 0 1,1 10.2,0a5.1,5.1 0 1,1 -10.2,0zm4.4,4h1.4v5h-1.4zm-13.65,9a5.5,5.5 0 0,1 5.5,-5.5h15.7a5.5,5.5 0 0,1 5.5,5.5v19.9a1.8,1.8 0 0,1 -3.6,0v-18.1h-1.75v41.4a3,3 0 0,1 -6,0v-24.3h-4v24.3a3,3 0 0,1 -6,0v-41.4h-1.75v18.1a1.8,1.8 0 0,1 -3.6,0zM995.3,470.1m-6.1,0a5.1,5.1 0 1,1 10.2,0a5.1,5.1 0 1,1 -10.2,0zm4.4,4h1.4v5h-1.4zm-13.65,9a5.5,5.5 0 0,1 5.5,-5.5h15.7a5.5,5.5 0 0,1 5.5,5.5v19.9a1.8,1.8 0 0,1 -3.6,0v-18.1h-1.75v41.4a3,3 0 0,1 -6,0v-24.3h-4v24.3a3,3 0 0,1 -6,0v-41.4h-1.75v18.1a1.8,1.8 0 0,1 -3.6,0zM1086.4,505.5m-6.1,0a5.1,5.1 0 1,1 10.2,0a5.1,5.1 0 1,1 -10.2,0zm4.4,4h1.4v5h-1.4zm-13.65,9a5.5,5.5 0 0,1 5.5,-5.5h15.7a5.5,5.5 0 0,1 5.5,5.5v19.9a1.8,1.8 0 0,1 -3.6,0v-18.1h-1.75v41.4a3,3 0 0,1 -6,0v-24.3h-4v24.3a3,3 0 0,1 -6,0v-41.4h-1.75v18.1a1.8,1.8 0 0,1 -3.6,0zM1120.7,546.8m-6.1,0a5.1,5.1 0 1,1 10.2,0a5.1,5.1 0 1,1 -10.2,0zm4.4,4h1.4v5h-1.4zm-13.65,9a5.5,5.5 0 0,1 5.5,-5.5h15.7a5.5,5.5 0 0,1 5.5,5.5v19.9a1.8,1.8 0 0,1 -3.6,0v-18.1h-1.75v41.4a3,3 0 0,1 -6,0v-24.3h-4v24.3a3,3 0 0,1 -6,0v-41.4h-1.75v18.1a1.8,1.8 0 0,1 -3.6,0zM1155.0,588.2m-6.1,0a5.1,5.1 0 1,1 10.2,0a5.1,5.1 0 1,1 -10.2,0zm4.4,4h1.4v5h-1.4zm-13.65,9a5.5,5.5 0 0,1 5.5,-5.5h15.7a5.5,5.5 0 0,1 5.5,5.5v19.9a1.8,1.8 0 0,1 -3.6,0v-18.1h-1.75v41.4a3,3 0 0,1 -6,0v-24.3h-4v24.3a3,3 0 0,1 -6,0v-41.4h-1.75v18.1a1.8,1.8 0 0,1 -3.6,0zM1189.3,629.6m-6.1,0a5.1,5.1 0 1,1 10.2,0a5.1,5.1 0 1,1 -10.2,0zm4.4,4h1.4v5h-1.4zm-13.65,9a5.5,5.5 0 0,1 5.5,-5.5h15.7a5.5,5.5 0 0,1 5.5,5.5v19.9a1.8,1.8 0 0,1 -3.6,0v-18.1h-1.75v41.4a3,3 0 0,1 -6,0v-24.3h-4v24.3a3,3 0 0,1 -6,0v-41.4h-1.75v18.1a1.8,1.8 0 0,1 -3.6,0zM825.2,488.1m-6.1,0a5.1,5.1 0 1,1 10.2,0a5.1,5.1 0 1,1 -10.2,0zm4.4,4h1.4v5h-1.4zm-13.65,9a5.5,5.5 0 0,1 5.5,-5.5h15.7a5.5,5.5 0 0,1 5.5,5.5v19.9a1.8,1.8 0 0,1 -3.6,0v-18.1h-1.75v41.4a3,3 0 0,1 -6,0v-24.3h-4v24.3a3,3 0 0,1 -6,0v-41.4h-1.75v18.1a1.8,1.8 0 0,1 -3.6,0zM881.9,482.1m-6.1,0a5.1,5.1 0 1,1 10.2,0a5.1,5.1 0 1,1 -10.2,0zm4.4,4h1.4v5h-1.4zm-13.65,9a5.5,5.5 0 0,1 5.5,-5.5h15.7a5.5,5.5 0 0,1 5.5,5.5v19.9a1.8,1.8 0 0,1 -3.6,0v-18.1h-1.75v41.4a3,3 0 0,1 -6,0v-24.3h-4v24.3a3,3 0 0,1 -6,0v-41.4h-1.75v18.1a1.8,1.8 0 0,1 -3.6,0zM973.0,517.5m-6.1,0a5.1,5.1 0 1,1 10.2,0a5.1,5.1 0 1,1 -10.2,0zm4.4,4h1.4v5h-1.4zm-13.65,9a5.5,5.5 0 0,1 5.5,-5.5h15.7a5.5,5.5 0 0,1 5.5,5.5v19.9a1.8,1.8 0 0,1 -3.6,0v-18.1h-1.75v41.4a3,3 0 0,1 -6,0v-24.3h-4v24.3a3,3 0 0,1 -6,0v-41.4h-1.75v18.1a1.8,1.8 0 0,1 -3.6,0zM1029.7,511.5m-6.1,0a5.1,5.1 0 1,1 10.2,0a5.1,5.1 0 1,1 -10.2,0zm4.4,4h1.4v5h-1.4zm-13.65,9a5.5,5.5 0 0,1 5.5,-5.5h15.7a5.5,5.5 0 0,1 5.5,5.5v19.9a1.8,1.8 0 0,1 -3.6,0v-18.1h-1.75v41.4a3,3 0 0,1 -6,0v-24.3h-4v24.3a3,3 0 0,1 -6,0v-41.4h-1.75v18.1a1.8,1.8 0 0,1 -3.6,0zM1064.0,552.8m-6.1,0a5.1,5.1 0 1,1 10.2,0a5.1,5.1 0 1,1 -10.2,0zm4.4,4h1.4v5h-1.4zm-13.65,9a5.5,5.5 0 0,1 5.5,-5.5h15.7a5.5,5.5 0 0,1 5.5,5.5v19.9a1.8,1.8 0 0,1 -3.6,0v-18.1h-1.75v41.4a3,3 0 0,1 -6,0v-24.3h-4v24.3a3,3 0 0,1 -6,0v-41.4h-1.75v18.1a1.8,1.8 0 0,1 -3.6,0zM1098.3,594.2m-6.1,0a5.1,5.1 0 1,1 10.2,0a5.1,5.1 0 1,1 -10.2,0zm4.4,4h1.4v5h-1.4zm-13.65,9a5.5,5.5 0 0,1 5.5,-5.5h15.7a5.5,5.5 0 0,1 5.5,5.5v19.9a1.8,1.8 0 0,1 -3.6,0v-18.1h-1.75v41.4a3,3 0 0,1 -6,0v-24.3h-4v24.3a3,3 0 0,1 -6,0v-41.4h-1.75v18.1a1.8,1.8 0 0,1 -3.6,0zM1132.6,635.6m-6.1,0a5.1,5.1 0 1,1 10.2,0a5.1,5.1 0 1,1 -10.2,0zm4.4,4h1.4v5h-1.4zm-13.65,9a5.5,5.5 0 0,1 5.5,-5.5h15.7a5.5,5.5 0 0,1 5.5,5.5v19.9a1.8,1.8 0 0,1 -3.6,0v-18.1h-1.75v41.4a3,3 0 0,1 -6,0v-24.3h-4v24.3a3,3 0 0,1 -6,0v-41.4h-1.75v18.1a1.8,1.8 0 0,1 -3.6,0zM802.9,535.4m-6.1,0a5.1,5.1 0 1,1 10.2,0a5.1,5.1 0 1,1 -10.2,0zm4.4,4h1.4v5h-1.4zm-13.65,9a5.5,5.5 0 0,1 5.5,-5.5h15.7a5.5,5.5 0 0,1 5.5,5.5v19.9a1.8,1.8 0 0,1 -3.6,0v-18.1h-1.75v41.4a3,3 0 0,1 -6,0v-24.3h-4v24.3a3,3 0 0,1 -6,0v-41.4h-1.75v18.1a1.8,1.8 0 0,1 -3.6,0zM859.6,529.4m-6.1,0a5.1,5.1 0 1,1 10.2,0a5.1,5.1 0 1,1 -10.2,0zm4.4,4h1.4v5h-1.4zm-13.65,9a5.5,5.5 0 0,1 5.5,-5.5h15.7a5.5,5.5 0 0,1 5.5,5.5v19.9a1.8,1.8 0 0,1 -3.6,0v-18.1h-1.75v41.4a3,3 0 0,1 -6,0v-24.3h-4v24.3a3,3 0 0,1 -6,0v-41.4h-1.75v18.1a1.8,1.8 0 0,1 -3.6,0zM916.3,523.5m-6.1,0a5.1,5.1 0 1,1 10.2,0a5.1,5.1 0 1,1 -10.2,0zm4.4,4h1.4v5h-1.4zm-13.65,9a5.5,5.5 0 0,1 5.5,-5.5h15.7a5.5,5.5 0 0,1 5.5,5.5v19.9a1.8,1.8 0 0,1 -3.6,0v-18.1h-1.75v41.4a3,3 0 0,1 -6,0v-24.3h-4v24.3a3,3 0 0,1 -6,0v-41.4h-1.75v18.1a1.8,1.8 0 0,1 -3.6,0zM1007.3,558.8m-6.1,0a5.1,5.1 0 1,1 10.2,0a5.1,5.1 0 1,1 -10.2,0zm4.4,4h1.4v5h-1.4zm-13.65,9a5.5,5.5 0 0,1 5.5,-5.5h15.7a5.5,5.5 0 0,1 5.5,5.5v19.9a1.8,1.8 0 0,1 -3.6,0v-18.1h-1.75v41.4a3,3 0 0,1 -6,0v-24.3h-4v24.3a3,3 0 0,1 -6,0v-41.4h-1.75v18.1a1.8,1.8 0 0,1 -3.6,0zM1041.6,600.2m-6.1,0a5.1,5.1 0 1,1 10.2,0a5.1,5.1 0 1,1 -10.2,0zm4.4,4h1.4v5h-1.4zm-13.65,9a5.5,5.5 0 0,1 5.5,-5.5h15.7a5.5,5.5 0 0,1 5.5,5.5v19.9a1.8,1.8 0 0,1 -3.6,0v-18.1h-1.75v41.4a3,3 0 0,1 -6,0v-24.3h-4v24.3a3,3 0 0,1 -6,0v-41.4h-1.75v18.1a1.8,1.8 0 0,1 -3.6,0zM1075.9,641.6m-6.1,0a5.1,5.1 0 1,1 10.2,0a5.1,5.1 0 1,1 -10.2,0zm4.4,4h1.4v5h-1.4zm-13.65,9a5.5,5.5 0 0,1 5.5,-5.5h15.7a5.5,5.5 0 0,1 5.5,5.5v19.9a1.8,1.8 0 0,1 -3.6,0v-18.1h-1.75v41.4a3,3 0 0,1 -6,0v-24.3h-4v24.3a3,3 0 0,1 -6,0v-41.4h-1.75v18.1a1.8,1.8 0 0,1 -3.6,0zM837.2,576.8m-6.1,0a5.1,5.1 0 1,1 10.2,0a5.1,5.1 0 1,1 -10.2,0zm4.4,4h1.4v5h-1.4zm-13.65,9a5.5,5.5 0 0,1 5.5,-5.5h15.7a5.5,5.5 0 0,1 5.5,5.5v19.9a1.8,1.8 0 0,1 -3.6,0v-18.1h-1.75v41.4a3,3 0 0,1 -6,0v-24.3h-4v24.3a3,3 0 0,1 -6,0v-41.4h-1.75v18.1a1.8,1.8 0 0,1 -3.6,0zM893.9,570.8m-6.1,0a5.1,5.1 0 1,1 10.2,0a5.1,5.1 0 1,1 -10.2,0zm4.4,4h1.4v5h-1.4zm-13.65,9a5.5,5.5 0 0,1 5.5,-5.5h15.7a5.5,5.5 0 0,1 5.5,5.5v19.9a1.8,1.8 0 0,1 -3.6,0v-18.1h-1.75v41.4a3,3 0 0,1 -6,0v-24.3h-4v24.3a3,3 0 0,1 -6,0v-41.4h-1.75v18.1a1.8,1.8 0 0,1 -3.6,0zM950.6,564.8m-6.1,0a5.1,5.1 0 1,1 10.2,0a5.1,5.1 0 1,1 -10.2,0zm4.4,4h1.4v5h-1.4zm-13.65,9a5.5,5.5 0 0,1 5.5,-5.5h15.7a5.5,5.5 0 0,1 5.5,5.5v19.9a1.8,1.8 0 0,1 -3.6,0v-18.1h-1.75v41.4a3,3 0 0,1 -6,0v-24.3h-4v24.3a3,3 0 0,1 -6,0v-41.4h-1.75v18.1a1.8,1.8 0 0,1 -3.6,0zM984.9,606.2m-6.1,0a5.1,5.1 0 1,1 10.2,0a5.1,5.1 0 1,1 -10.2,0zm4.4,4h1.4v5h-1.4zm-13.65,9a5.5,5.5 0 0,1 5.5,-5.5h15.7a5.5,5.5 0 0,1 5.5,5.5v19.9a1.8,1.8 0 0,1 -3.6,0v-18.1h-1.75v41.4a3,3 0 0,1 -6,0v-24.3h-4v24.3a3,3 0 0,1 -6,0v-41.4h-1.75v18.1a1.8,1.8 0 0,1 -3.6,0zM1019.2,647.6m-6.1,0a5.1,5.1 0 1,1 10.2,0a5.1,5.1 0 1,1 -10.2,0zm4.4,4h1.4v5h-1.4zm-13.65,9a5.5,5.5 0 0,1 5.5,-5.5h15.7a5.5,5.5 0 0,1 5.5,5.5v19.9a1.8,1.8 0 0,1 -3.6,0v-18.1h-1.75v41.4a3,3 0 0,1 -6,0v-24.3h-4v24.3a3,3 0 0,1 -6,0v-41.4h-1.75v18.1a1.8,1.8 0 0,1 -3.6,0zM814.8,624.2m-6.1,0a5.1,5.1 0 1,1 10.2,0a5.1,5.1 0 1,1 -10.2,0zm4.4,4h1.4v5h-1.4zm-13.65,9a5.5,5.5 0 0,1 5.5,-5.5h15.7a5.5,5.5 0 0,1 5.5,5.5v19.9a1.8,1.8 0 0,1 -3.6,0v-18.1h-1.75v41.4a3,3 0 0,1 -6,0v-24.3h-4v24.3a3,3 0 0,1 -6,0v-41.4h-1.75v18.1a1.8,1.8 0 0,1 -3.6,0zM871.5,618.2m-6.1,0a5.1,5.1 0 1,1 10.2,0a5.1,5.1 0 1,1 -10.2,0zm4.4,4h1.4v5h-1.4zm-13.65,9a5.5,5.5 0 0,1 5.5,-5.5h15.7a5.5,5.5 0 0,1 5.5,5.5v19.9a1.8,1.8 0 0,1 -3.6,0v-18.1h-1.75v41.4a3,3 0 0,1 -6,0v-24.3h-4v24.3a3,3 0 0,1 -6,0v-41.4h-1.75v18.1a1.8,1.8 0 0,1 -3.6,0zM928.2,612.2m-6.1,0a5.1,5.1 0 1,1 10.2,0a5.1,5.1 0 1,1 -10.2,0zm4.4,4h1.4v5h-1.4zm-13.65,9a5.5,5.5 0 0,1 5.5,-5.5h15.7a5.5,5.5 0 0,1 5.5,5.5v19.9a1.8,1.8 0 0,1 -3.6,0v-18.1h-1.75v41.4a3,3 0 0,1 -6,0v-24.3h-4v24.3a3,3 0 0,1 -6,0v-41.4h-1.75v18.1a1.8,1.8 0 0,1 -3.6,0zM962.5,653.6m-6.1,0a5.1,5.1 0 1,1 10.2,0a5.1,5.1 0 1,1 -10.2,0zm4.4,4h1.4v5h-1.4zm-13.65,9a5.5,5.5 0 0,1 5.5,-5.5h15.7a5.5,5.5 0 0,1 5.5,5.5v19.9a1.8,1.8 0 0,1 -3.6,0v-18.1h-1.75v41.4a3,3 0 0,1 -6,0v-24.3h-4v24.3a3,3 0 0,1 -6,0v-41.4h-1.75v18.1a1.8,1.8 0 0,1 -3.6,0zM188.2,694.5m-6.1,0a5.1,5.1 0 1,1 10.2,0a5.1,5.1 0 1,1 -10.2,0zm4.4,4h1.4v5h-1.4zm-13.65,9a5.5,5.5 0 0,1 5.5,-5.5h15.7a5.5,5.5 0 0,1 5.5,5.5v19.9a1.8,1.8 0 0,1 -3.6,0v-18.1h-1.75v41.4a3,3 0 0,1 -6,0v-24.3h-4v24.3a3,3 0 0,1 -6,0v-41.4h-1.75v18.1a1.8,1.8 0 0,1 -3.6,0zM244.2,682.6m-6.1,0a5.1,5.1 0 1,1 10.2,0a5.1,5.1 0 1,1 -10.2,0zm4.4,4h1.4v5h-1.4zm-13.65,9a5.5,5.5 0 0,1 5.5,-5.5h15.7a5.5,5.5 0 0,1 5.5,5.5v19.9a1.8,1.8 0 0,1 -3.6,0v-18.1h-1.75v41.4a3,3 0 0,1 -6,0v-24.3h-4v24.3a3,3 0 0,1 -6,0v-41.4h-1.75v18.1a1.8,1.8 0 0,1 -3.6,0zM304.5,678.1m-6.1,0a5.1,5.1 0 1,1 10.2,0a5.1,5.1 0 1,1 -10.2,0zm4.4,4h1.4v5h-1.4zm-13.65,9a5.5,5.5 0 0,1 5.5,-5.5h15.7a5.5,5.5 0 0,1 5.5,5.5v19.9a1.8,1.8 0 0,1 -3.6,0v-18.1h-1.75v41.4a3,3 0 0,1 -6,0v-24.3h-4v24.3a3,3 0 0,1 -6,0v-41.4h-1.75v18.1a1.8,1.8 0 0,1 -3.6,0zM361.2,672.1m-6.1,0a5.1,5.1 0 1,1 10.2,0a5.1,5.1 0 1,1 -10.2,0zm4.4,4h1.4v5h-1.4zm-13.65,9a5.5,5.5 0 0,1 5.5,-5.5h15.7a5.5,5.5 0 0,1 5.5,5.5v19.9a1.8,1.8 0 0,1 -3.6,0v-18.1h-1.75v41.4a3,3 0 0,1 -6,0v-24.3h-4v24.3a3,3 0 0,1 -6,0v-41.4h-1.75v18.1a1.8,1.8 0 0,1 -3.6,0zM417.9,666.1m-6.1,0a5.1,5.1 0 1,1 10.2,0a5.1,5.1 0 1,1 -10.2,0zm4.4,4h1.4v5h-1.4zm-13.65,9a5.5,5.5 0 0,1 5.5,-5.5h15.7a5.5,5.5 0 0,1 5.5,5.5v19.9a1.8,1.8 0 0,1 -3.6,0v-18.1h-1.75v41.4a3,3 0 0,1 -6,0v-24.3h-4v24.3a3,3 0 0,1 -6,0v-41.4h-1.75v18.1a1.8,1.8 0 0,1 -3.6,0zM474.6,660.1m-6.1,0a5.1,5.1 0 1,1 10.2,0a5.1,5.1 0 1,1 -10.2,0zm4.4,4h1.4v5h-1.4zm-13.65,9a5.5,5.5 0 0,1 5.5,-5.5h15.7a5.5,5.5 0 0,1 5.5,5.5v19.9a1.8,1.8 0 0,1 -3.6,0v-18.1h-1.75v41.4a3,3 0 0,1 -6,0v-24.3h-4v24.3a3,3 0 0,1 -6,0v-41.4h-1.75v18.1a1.8,1.8 0 0,1 -3.6,0zM531.3,654.2m-6.1,0a5.1,5.1 0 1,1 10.2,0a5.1,5.1 0 1,1 -10.2,0zm4.4,4h1.4v5h-1.4zm-13.65,9a5.5,5.5 0 0,1 5.5,-5.5h15.7a5.5,5.5 0 0,1 5.5,5.5v19.9a1.8,1.8 0 0,1 -3.6,0v-18.1h-1.75v41.4a3,3 0 0,1 -6,0v-24.3h-4v24.3a3,3 0 0,1 -6,0v-41.4h-1.75v18.1a1.8,1.8 0 0,1 -3.6,0zM169.8,742.6m-6.1,0a5.1,5.1 0 1,1 10.2,0a5.1,5.1 0 1,1 -10.2,0zm4.4,4h1.4v5h-1.4zm-13.65,9a5.5,5.5 0 0,1 5.5,-5.5h15.7a5.5,5.5 0 0,1 5.5,5.5v19.9a1.8,1.8 0 0,1 -3.6,0v-18.1h-1.75v41.4a3,3 0 0,1 -6,0v-24.3h-4v24.3a3,3 0 0,1 -6,0v-41.4h-1.75v18.1a1.8,1.8 0 0,1 -3.6,0zM225.4,731.5m-6.1,0a5.1,5.1 0 1,1 10.2,0a5.1,5.1 0 1,1 -10.2,0zm4.4,4h1.4v5h-1.4zm-13.65,9a5.5,5.5 0 0,1 5.5,-5.5h15.7a5.5,5.5 0 0,1 5.5,5.5v19.9a1.8,1.8 0 0,1 -3.6,0v-18.1h-1.75v41.4a3,3 0 0,1 -6,0v-24.3h-4v24.3a3,3 0 0,1 -6,0v-41.4h-1.75v18.1a1.8,1.8 0 0,1 -3.6,0zM282.1,725.5m-6.1,0a5.1,5.1 0 1,1 10.2,0a5.1,5.1 0 1,1 -10.2,0zm4.4,4h1.4v5h-1.4zm-13.65,9a5.5,5.5 0 0,1 5.5,-5.5h15.7a5.5,5.5 0 0,1 5.5,5.5v19.9a1.8,1.8 0 0,1 -3.6,0v-18.1h-1.75v41.4a3,3 0 0,1 -6,0v-24.3h-4v24.3a3,3 0 0,1 -6,0v-41.4h-1.75v18.1a1.8,1.8 0 0,1 -3.6,0zM338.8,719.5m-6.1,0a5.1,5.1 0 1,1 10.2,0a5.1,5.1 0 1,1 -10.2,0zm4.4,4h1.4v5h-1.4zm-13.65,9a5.5,5.5 0 0,1 5.5,-5.5h15.7a5.5,5.5 0 0,1 5.5,5.5v19.9a1.8,1.8 0 0,1 -3.6,0v-18.1h-1.75v41.4a3,3 0 0,1 -6,0v-24.3h-4v24.3a3,3 0 0,1 -6,0v-41.4h-1.75v18.1a1.8,1.8 0 0,1 -3.6,0zM395.5,713.5m-6.1,0a5.1,5.1 0 1,1 10.2,0a5.1,5.1 0 1,1 -10.2,0zm4.4,4h1.4v5h-1.4zm-13.65,9a5.5,5.5 0 0,1 5.5,-5.5h15.7a5.5,5.5 0 0,1 5.5,5.5v19.9a1.8,1.8 0 0,1 -3.6,0v-18.1h-1.75v41.4a3,3 0 0,1 -6,0v-24.3h-4v24.3a3,3 0 0,1 -6,0v-41.4h-1.75v18.1a1.8,1.8 0 0,1 -3.6,0zM452.2,707.5m-6.1,0a5.1,5.1 0 1,1 10.2,0a5.1,5.1 0 1,1 -10.2,0zm4.4,4h1.4v5h-1.4zm-13.65,9a5.5,5.5 0 0,1 5.5,-5.5h15.7a5.5,5.5 0 0,1 5.5,5.5v19.9a1.8,1.8 0 0,1 -3.6,0v-18.1h-1.75v41.4a3,3 0 0,1 -6,0v-24.3h-4v24.3a3,3 0 0,1 -6,0v-41.4h-1.75v18.1a1.8,1.8 0 0,1 -3.6,0zM508.9,701.5m-6.1,0a5.1,5.1 0 1,1 10.2,0a5.1,5.1 0 1,1 -10.2,0zm4.4,4h1.4v5h-1.4zm-13.65,9a5.5,5.5 0 0,1 5.5,-5.5h15.7a5.5,5.5 0 0,1 5.5,5.5v19.9a1.8,1.8 0 0,1 -3.6,0v-18.1h-1.75v41.4a3,3 0 0,1 -6,0v-24.3h-4v24.3a3,3 0 0,1 -6,0v-41.4h-1.75v18.1a1.8,1.8 0 0,1 -3.6,0zM565.6,695.5m-6.1,0a5.1,5.1 0 1,1 10.2,0a5.1,5.1 0 1,1 -10.2,0zm4.4,4h1.4v5h-1.4zm-13.65,9a5.5,5.5 0 0,1 5.5,-5.5h15.7a5.5,5.5 0 0,1 5.5,5.5v19.9a1.8,1.8 0 0,1 -3.6,0v-18.1h-1.75v41.4a3,3 0 0,1 -6,0v-24.3h-4v24.3a3,3 0 0,1 -6,0v-41.4h-1.75v18.1a1.8,1.8 0 0,1 -3.6,0zM622.3,689.5m-6.1,0a5.1,5.1 0 1,1 10.2,0a5.1,5.1 0 1,1 -10.2,0zm4.4,4h1.4v5h-1.4zm-13.65,9a5.5,5.5 0 0,1 5.5,-5.5h15.7a5.5,5.5 0 0,1 5.5,5.5v19.9a1.8,1.8 0 0,1 -3.6,0v-18.1h-1.75v41.4a3,3 0 0,1 -6,0v-24.3h-4v24.3a3,3 0 0,1 -6,0v-41.4h-1.75v18.1a1.8,1.8 0 0,1 -3.6,0zM679.0,683.5m-6.1,0a5.1,5.1 0 1,1 10.2,0a5.1,5.1 0 1,1 -10.2,0zm4.4,4h1.4v5h-1.4zm-13.65,9a5.5,5.5 0 0,1 5.5,-5.5h15.7a5.5,5.5 0 0,1 5.5,5.5v19.9a1.8,1.8 0 0,1 -3.6,0v-18.1h-1.75v41.4a3,3 0 0,1 -6,0v-24.3h-4v24.3a3,3 0 0,1 -6,0v-41.4h-1.75v18.1a1.8,1.8 0 0,1 -3.6,0zM735.7,677.5m-6.1,0a5.1,5.1 0 1,1 10.2,0a5.1,5.1 0 1,1 -10.2,0zm4.4,4h1.4v5h-1.4zm-13.65,9a5.5,5.5 0 0,1 5.5,-5.5h15.7a5.5,5.5 0 0,1 5.5,5.5v19.9a1.8,1.8 0 0,1 -3.6,0v-18.1h-1.75v41.4a3,3 0 0,1 -6,0v-24.3h-4v24.3a3,3 0 0,1 -6,0v-41.4h-1.75v18.1a1.8,1.8 0 0,1 -3.6,0zM792.4,671.6m-6.1,0a5.1,5.1 0 1,1 10.2,0a5.1,5.1 0 1,1 -10.2,0zm4.4,4h1.4v5h-1.4zm-13.65,9a5.5,5.5 0 0,1 5.5,-5.5h15.7a5.5,5.5 0 0,1 5.5,5.5v19.9a1.8,1.8 0 0,1 -3.6,0v-18.1h-1.75v41.4a3,3 0 0,1 -6,0v-24.3h-4v24.3a3,3 0 0,1 -6,0v-41.4h-1.75v18.1a1.8,1.8 0 0,1 -3.6,0zM373.1,760.9m-6.1,0a5.1,5.1 0 1,1 10.2,0a5.1,5.1 0 1,1 -10.2,0zm4.4,4h1.4v5h-1.4zm-13.65,9a5.5,5.5 0 0,1 5.5,-5.5h15.7a5.5,5.5 0 0,1 5.5,5.5v19.9a1.8,1.8 0 0,1 -3.6,0v-18.1h-1.75v41.4a3,3 0 0,1 -6,0v-24.3h-4v24.3a3,3 0 0,1 -6,0v-41.4h-1.75v18.1a1.8,1.8 0 0,1 -3.6,0zM429.8,754.9m-6.1,0a5.1,5.1 0 1,1 10.2,0a5.1,5.1 0 1,1 -10.2,0zm4.4,4h1.4v5h-1.4zm-13.65,9a5.5,5.5 0 0,1 5.5,-5.5h15.7a5.5,5.5 0 0,1 5.5,5.5v19.9a1.8,1.8 0 0,1 -3.6,0v-18.1h-1.75v41.4a3,3 0 0,1 -6,0v-24.3h-4v24.3a3,3 0 0,1 -6,0v-41.4h-1.75v18.1a1.8,1.8 0 0,1 -3.6,0zM486.5,748.9m-6.1,0a5.1,5.1 0 1,1 10.2,0a5.1,5.1 0 1,1 -10.2,0zm4.4,4h1.4v5h-1.4zm-13.65,9a5.5,5.5 0 0,1 5.5,-5.5h15.7a5.5,5.5 0 0,1 5.5,5.5v19.9a1.8,1.8 0 0,1 -3.6,0v-18.1h-1.75v41.4a3,3 0 0,1 -6,0v-24.3h-4v24.3a3,3 0 0,1 -6,0v-41.4h-1.75v18.1a1.8,1.8 0 0,1 -3.6,0zM543.2,742.9m-6.1,0a5.1,5.1 0 1,1 10.2,0a5.1,5.1 0 1,1 -10.2,0zm4.4,4h1.4v5h-1.4zm-13.65,9a5.5,5.5 0 0,1 5.5,-5.5h15.7a5.5,5.5 0 0,1 5.5,5.5v19.9a1.8,1.8 0 0,1 -3.6,0v-18.1h-1.75v41.4a3,3 0 0,1 -6,0v-24.3h-4v24.3a3,3 0 0,1 -6,0v-41.4h-1.75v18.1a1.8,1.8 0 0,1 -3.6,0zM599.9,736.9m-6.1,0a5.1,5.1 0 1,1 10.2,0a5.1,5.1 0 1,1 -10.2,0zm4.4,4h1.4v5h-1.4zm-13.65,9a5.5,5.5 0 0,1 5.5,-5.5h15.7a5.5,5.5 0 0,1 5.5,5.5v19.9a1.8,1.8 0 0,1 -3.6,0v-18.1h-1.75v41.4a3,3 0 0,1 -6,0v-24.3h-4v24.3a3,3 0 0,1 -6,0v-41.4h-1.75v18.1a1.8,1.8 0 0,1 -3.6,0zM656.6,730.9m-6.1,0a5.1,5.1 0 1,1 10.2,0a5.1,5.1 0 1,1 -10.2,0zm4.4,4h1.4v5h-1.4zm-13.65,9a5.5,5.5 0 0,1 5.5,-5.5h15.7a5.5,5.5 0 0,1 5.5,5.5v19.9a1.8,1.8 0 0,1 -3.6,0v-18.1h-1.75v41.4a3,3 0 0,1 -6,0v-24.3h-4v24.3a3,3 0 0,1 -6,0v-41.4h-1.75v18.1a1.8,1.8 0 0,1 -3.6,0zM713.3,724.9m-6.1,0a5.1,5.1 0 1,1 10.2,0a5.1,5.1 0 1,1 -10.2,0zm4.4,4h1.4v5h-1.4zm-13.65,9a5.5,5.5 0 0,1 5.5,-5.5h15.7a5.5,5.5 0 0,1 5.5,5.5v19.9a1.8,1.8 0 0,1 -3.6,0v-18.1h-1.75v41.4a3,3 0 0,1 -6,0v-24.3h-4v24.3a3,3 0 0,1 -6,0v-41.4h-1.75v18.1a1.8,1.8 0 0,1 -3.6,0zM770.0,718.9m-6.1,0a5.1,5.1 0 1,1 10.2,0a5.1,5.1 0 1,1 -10.2,0zm4.4,4h1.4v5h-1.4zm-13.65,9a5.5,5.5 0 0,1 5.5,-5.5h15.7a5.5,5.5 0 0,1 5.5,5.5v19.9a1.8,1.8 0 0,1 -3.6,0v-18.1h-1.75v41.4a3,3 0 0,1 -6,0v-24.3h-4v24.3a3,3 0 0,1 -6,0v-41.4h-1.75v18.1a1.8,1.8 0 0,1 -3.6,0zM849.1,665.6m-6.1,0a5.1,5.1 0 1,1 10.2,0a5.1,5.1 0 1,1 -10.2,0zm4.4,4h1.4v5h-1.4zm-13.65,9a5.5,5.5 0 0,1 5.5,-5.5h15.7a5.5,5.5 0 0,1 5.5,5.5v19.9a1.8,1.8 0 0,1 -3.6,0v-18.1h-1.75v41.4a3,3 0 0,1 -6,0v-24.3h-4v24.3a3,3 0 0,1 -6,0v-41.4h-1.75v18.1a1.8,1.8 0 0,1 -3.6,0zM905.8,659.6m-6.1,0a5.1,5.1 0 1,1 10.2,0a5.1,5.1 0 1,1 -10.2,0zm4.4,4h1.4v5h-1.4zm-13.65,9a5.5,5.5 0 0,1 5.5,-5.5h15.7a5.5,5.5 0 0,1 5.5,5.5v19.9a1.8,1.8 0 0,1 -3.6,0v-18.1h-1.75v41.4a3,3 0 0,1 -6,0v-24.3h-4v24.3a3,3 0 0,1 -6,0v-41.4h-1.75v18.1a1.8,1.8 0 0,1 -3.6,0zM826.7,712.9m-6.1,0a5.1,5.1 0 1,1 10.2,0a5.1,5.1 0 1,1 -10.2,0zm4.4,4h1.4v5h-1.4zm-13.65,9a5.5,5.5 0 0,1 5.5,-5.5h15.7a5.5,5.5 0 0,1 5.5,5.5v19.9a1.8,1.8 0 0,1 -3.6,0v-18.1h-1.75v41.4a3,3 0 0,1 -6,0v-24.3h-4v24.3a3,3 0 0,1 -6,0v-41.4h-1.75v18.1a1.8,1.8 0 0,1 -3.6,0zM883.4,706.9m-6.1,0a5.1,5.1 0 1,1 10.2,0a5.1,5.1 0 1,1 -10.2,0zm4.4,4h1.4v5h-1.4zm-13.65,9a5.5,5.5 0 0,1 5.5,-5.5h15.7a5.5,5.5 0 0,1 5.5,5.5v19.9a1.8,1.8 0 0,1 -3.6,0v-18.1h-1.75v41.4a3,3 0 0,1 -6,0v-24.3h-4v24.3a3,3 0 0,1 -6,0v-41.4h-1.75v18.1a1.8,1.8 0 0,1 -3.6,0zM940.1,700.9m-6.1,0a5.1,5.1 0 1,1 10.2,0a5.1,5.1 0 1,1 -10.2,0zm4.4,4h1.4v5h-1.4zm-13.65,9a5.5,5.5 0 0,1 5.5,-5.5h15.7a5.5,5.5 0 0,1 5.5,5.5v19.9a1.8,1.8 0 0,1 -3.6,0v-18.1h-1.75v41.4a3,3 0 0,1 -6,0v-24.3h-4v24.3a3,3 0 0,1 -6,0v-41.4h-1.75v18.1a1.8,1.8 0 0,1 -3.6,0zM996.8,694.9m-6.1,0a5.1,5.1 0 1,1 10.2,0a5.1,5.1 0 1,1 -10.2,0zm4.4,4h1.4v5h-1.4zm-13.65,9a5.5,5.5 0 0,1 5.5,-5.5h15.7a5.5,5.5 0 0,1 5.5,5.5v19.9a1.8,1.8 0 0,1 -3.6,0v-18.1h-1.75v41.4a3,3 0 0,1 -6,0v-24.3h-4v24.3a3,3 0 0,1 -6,0v-41.4h-1.75v18.1a1.8,1.8 0 0,1 -3.6,0zM1053.5,688.9m-6.1,0a5.1,5.1 0 1,1 10.2,0a5.1,5.1 0 1,1 -10.2,0zm4.4,4h1.4v5h-1.4zm-13.65,9a5.5,5.5 0 0,1 5.5,-5.5h15.7a5.5,5.5 0 0,1 5.5,5.5v19.9a1.8,1.8 0 0,1 -3.6,0v-18.1h-1.75v41.4a3,3 0 0,1 -6,0v-24.3h-4v24.3a3,3 0 0,1 -6,0v-41.4h-1.75v18.1a1.8,1.8 0 0,1 -3.6,0zM1110.2,683.0m-6.1,0a5.1,5.1 0 1,1 10.2,0a5.1,5.1 0 1,1 -10.2,0zm4.4,4h1.4v5h-1.4zm-13.65,9a5.5,5.5 0 0,1 5.5,-5.5h15.7a5.5,5.5 0 0,1 5.5,5.5v19.9a1.8,1.8 0 0,1 -3.6,0v-18.1h-1.75v41.4a3,3 0 0,1 -6,0v-24.3h-4v24.3a3,3 0 0,1 -6,0v-41.4h-1.75v18.1a1.8,1.8 0 0,1 -3.6,0zM1166.9,677.0m-6.1,0a5.1,5.1 0 1,1 10.2,0a5.1,5.1 0 1,1 -10.2,0zm4.4,4h1.4v5h-1.4zm-13.65,9a5.5,5.5 0 0,1 5.5,-5.5h15.7a5.5,5.5 0 0,1 5.5,5.5v19.9a1.8,1.8 0 0,1 -3.6,0v-18.1h-1.75v41.4a3,3 0 0,1 -6,0v-24.3h-4v24.3a3,3 0 0,1 -6,0v-41.4h-1.75v18.1a1.8,1.8 0 0,1 -3.6,0zM1223.6,671.0m-6.1,0a5.1,5.1 0 1,1 10.2,0a5.1,5.1 0 1,1 -10.2,0zm4.4,4h1.4v5h-1.4zm-13.65,9a5.5,5.5 0 0,1 5.5,-5.5h15.7a5.5,5.5 0 0,1 5.5,5.5v19.9a1.8,1.8 0 0,1 -3.6,0v-18.1h-1.75v41.4a3,3 0 0,1 -6,0v-24.3h-4v24.3a3,3 0 0,1 -6,0v-41.4h-1.75v18.1a1.8,1.8 0 0,1 -3.6,0zM1287.7,668.4m-6.1,0a5.1,5.1 0 1,1 10.2,0a5.1,5.1 0 1,1 -10.2,0zm4.4,4h1.4v5h-1.4zm-13.65,9a5.5,5.5 0 0,1 5.5,-5.5h15.7a5.5,5.5 0 0,1 5.5,5.5v19.9a1.8,1.8 0 0,1 -3.6,0v-18.1h-1.75v41.4a3,3 0 0,1 -6,0v-24.3h-4v24.3a3,3 0 0,1 -6,0v-41.4h-1.75v18.1a1.8,1.8 0 0,1 -3.6,0zM1344.2,668.4m-6.1,0a5.1,5.1 0 1,1 10.2,0a5.1,5.1 0 1,1 -10.2,0zm4.4,4h1.4v5h-1.4zm-13.65,9a5.5,5.5 0 0,1 5.5,-5.5h15.7a5.5,5.5 0 0,1 5.5,5.5v19.9a1.8,1.8 0 0,1 -3.6,0v-18.1h-1.75v41.4a3,3 0 0,1 -6,0v-24.3h-4v24.3a3,3 0 0,1 -6,0v-41.4h-1.75v18.1a1.8,1.8 0 0,1 -3.6,0zM1398.0,684.6m-6.1,0a5.1,5.1 0 1,1 10.2,0a5.1,5.1 0 1,1 -10.2,0zm4.4,4h1.4v5h-1.4zm-13.65,9a5.5,5.5 0 0,1 5.5,-5.5h15.7a5.5,5.5 0 0,1 5.5,5.5v19.9a1.8,1.8 0 0,1 -3.6,0v-18.1h-1.75v41.4a3,3 0 0,1 -6,0v-24.3h-4v24.3a3,3 0 0,1 -6,0v-41.4h-1.75v18.1a1.8,1.8 0 0,1 -3.6,0zM804.3,760.3m-6.1,0a5.1,5.1 0 1,1 10.2,0a5.1,5.1 0 1,1 -10.2,0zm4.4,4h1.4v5h-1.4zm-13.65,9a5.5,5.5 0 0,1 5.5,-5.5h15.7a5.5,5.5 0 0,1 5.5,5.5v19.9a1.8,1.8 0 0,1 -3.6,0v-18.1h-1.75v41.4a3,3 0 0,1 -6,0v-24.3h-4v24.3a3,3 0 0,1 -6,0v-41.4h-1.75v18.1a1.8,1.8 0 0,1 -3.6,0zM861.0,754.3m-6.1,0a5.1,5.1 0 1,1 10.2,0a5.1,5.1 0 1,1 -10.2,0zm4.4,4h1.4v5h-1.4zm-13.65,9a5.5,5.5 0 0,1 5.5,-5.5h15.7a5.5,5.5 0 0,1 5.5,5.5v19.9a1.8,1.8 0 0,1 -3.6,0v-18.1h-1.75v41.4a3,3 0 0,1 -6,0v-24.3h-4v24.3a3,3 0 0,1 -6,0v-41.4h-1.75v18.1a1.8,1.8 0 0,1 -3.6,0zM917.7,748.3m-6.1,0a5.1,5.1 0 1,1 10.2,0a5.1,5.1 0 1,1 -10.2,0zm4.4,4h1.4v5h-1.4zm-13.65,9a5.5,5.5 0 0,1 5.5,-5.5h15.7a5.5,5.5 0 0,1 5.5,5.5v19.9a1.8,1.8 0 0,1 -3.6,0v-18.1h-1.75v41.4a3,3 0 0,1 -6,0v-24.3h-4v24.3a3,3 0 0,1 -6,0v-41.4h-1.75v18.1a1.8,1.8 0 0,1 -3.6,0zM974.4,742.3m-6.1,0a5.1,5.1 0 1,1 10.2,0a5.1,5.1 0 1,1 -10.2,0zm4.4,4h1.4v5h-1.4zm-13.65,9a5.5,5.5 0 0,1 5.5,-5.5h15.7a5.5,5.5 0 0,1 5.5,5.5v19.9a1.8,1.8 0 0,1 -3.6,0v-18.1h-1.75v41.4a3,3 0 0,1 -6,0v-24.3h-4v24.3a3,3 0 0,1 -6,0v-41.4h-1.75v18.1a1.8,1.8 0 0,1 -3.6,0zM1031.1,736.3m-6.1,0a5.1,5.1 0 1,1 10.2,0a5.1,5.1 0 1,1 -10.2,0zm4.4,4h1.4v5h-1.4zm-13.65,9a5.5,5.5 0 0,1 5.5,-5.5h15.7a5.5,5.5 0 0,1 5.5,5.5v19.9a1.8,1.8 0 0,1 -3.6,0v-18.1h-1.75v41.4a3,3 0 0,1 -6,0v-24.3h-4v24.3a3,3 0 0,1 -6,0v-41.4h-1.75v18.1a1.8,1.8 0 0,1 -3.6,0zM1087.8,730.3m-6.1,0a5.1,5.1 0 1,1 10.2,0a5.1,5.1 0 1,1 -10.2,0zm4.4,4h1.4v5h-1.4zm-13.65,9a5.5,5.5 0 0,1 5.5,-5.5h15.7a5.5,5.5 0 0,1 5.5,5.5v19.9a1.8,1.8 0 0,1 -3.6,0v-18.1h-1.75v41.4a3,3 0 0,1 -6,0v-24.3h-4v24.3a3,3 0 0,1 -6,0v-41.4h-1.75v18.1a1.8,1.8 0 0,1 -3.6,0zM1144.5,724.3m-6.1,0a5.1,5.1 0 1,1 10.2,0a5.1,5.1 0 1,1 -10.2,0zm4.4,4h1.4v5h-1.4zm-13.65,9a5.5,5.5 0 0,1 5.5,-5.5h15.7a5.5,5.5 0 0,1 5.5,5.5v19.9a1.8,1.8 0 0,1 -3.6,0v-18.1h-1.75v41.4a3,3 0 0,1 -6,0v-24.3h-4v24.3a3,3 0 0,1 -6,0v-41.4h-1.75v18.1a1.8,1.8 0 0,1 -3.6,0zM1201.2,718.3m-6.1,0a5.1,5.1 0 1,1 10.2,0a5.1,5.1 0 1,1 -10.2,0zm4.4,4h1.4v5h-1.4zm-13.65,9a5.5,5.5 0 0,1 5.5,-5.5h15.7a5.5,5.5 0 0,1 5.5,5.5v19.9a1.8,1.8 0 0,1 -3.6,0v-18.1h-1.75v41.4a3,3 0 0,1 -6,0v-24.3h-4v24.3a3,3 0 0,1 -6,0v-41.4h-1.75v18.1a1.8,1.8 0 0,1 -3.6,0zM1257.9,712.3m-6.1,0a5.1,5.1 0 1,1 10.2,0a5.1,5.1 0 1,1 -10.2,0zm4.4,4h1.4v5h-1.4zm-13.65,9a5.5,5.5 0 0,1 5.5,-5.5h15.7a5.5,5.5 0 0,1 5.5,5.5v19.9a1.8,1.8 0 0,1 -3.6,0v-18.1h-1.75v41.4a3,3 0 0,1 -6,0v-24.3h-4v24.3a3,3 0 0,1 -6,0v-41.4h-1.75v18.1a1.8,1.8 0 0,1 -3.6,0zM1334.3,719.1m-6.1,0a5.1,5.1 0 1,1 10.2,0a5.1,5.1 0 1,1 -10.2,0zm4.4,4h1.4v5h-1.4zm-13.65,9a5.5,5.5 0 0,1 5.5,-5.5h15.7a5.5,5.5 0 0,1 5.5,5.5v19.9a1.8,1.8 0 0,1 -3.6,0v-18.1h-1.75v41.4a3,3 0 0,1 -6,0v-24.3h-4v24.3a3,3 0 0,1 -6,0v-41.4h-1.75v18.1a1.8,1.8 0 0,1 -3.6,0zM1418.4,732.1m-6.1,0a5.1,5.1 0 1,1 10.2,0a5.1,5.1 0 1,1 -10.2,0zm4.4,4h1.4v5h-1.4zm-13.65,9a5.5,5.5 0 0,1 5.5,-5.5h15.7a5.5,5.5 0 0,1 5.5,5.5v19.9a1.8,1.8 0 0,1 -3.6,0v-18.1h-1.75v41.4a3,3 0 0,1 -6,0v-24.3h-4v24.3a3,3 0 0,1 -6,0v-41.4h-1.75v18.1a1.8,1.8 0 0,1 -3.6,0zM1235.5,759.7m-6.1,0a5.1,5.1 0 1,1 10.2,0a5.1,5.1 0 1,1 -10.2,0zm4.4,4h1.4v5h-1.4zm-13.65,9a5.5,5.5 0 0,1 5.5,-5.5h15.7a5.5,5.5 0 0,1 5.5,5.5v19.9a1.8,1.8 0 0,1 -3.6,0v-18.1h-1.75v41.4a3,3 0 0,1 -6,0v-24.3h-4v24.3a3,3 0 0,1 -6,0v-41.4h-1.75v18.1a1.8,1.8 0 0,1 -3.6,0zM1292.2,753.7m-6.1,0a5.1,5.1 0 1,1 10.2,0a5.1,5.1 0 1,1 -10.2,0zm4.4,4h1.4v5h-1.4zm-13.65,9a5.5,5.5 0 0,1 5.5,-5.5h15.7a5.5,5.5 0 0,1 5.5,5.5v19.9a1.8,1.8 0 0,1 -3.6,0v-18.1h-1.75v41.4a3,3 0 0,1 -6,0v-24.3h-4v24.3a3,3 0 0,1 -6,0v-41.4h-1.75v18.1a1.8,1.8 0 0,1 -3.6,0zM1367.7,760.4m-6.1,0a5.1,5.1 0 1,1 10.2,0a5.1,5.1 0 1,1 -10.2,0zm4.4,4h1.4v5h-1.4zm-13.65,9a5.5,5.5 0 0,1 5.5,-5.5h15.7a5.5,5.5 0 0,1 5.5,5.5v19.9a1.8,1.8 0 0,1 -3.6,0v-18.1h-1.75v41.4a3,3 0 0,1 -6,0v-24.3h-4v24.3a3,3 0 0,1 -6,0v-41.4h-1.75v18.1a1.8,1.8 0 0,1 -3.6,0z"/>
<path fill="#a0cbfa" d="M196.1,1116.5m-6.1,0a5.1,5.1 0 1,1 10.2,0a5.1,5.1 0 1,1 -10.2,0zm4.4,4h1.4v5h-1.4zm-13.65,9a5.5,5.5 0 0,1 5.5,-5.5h15.7a5.5,5.5 0 0,1 5.5,5.5v19.9a1.8,1.8 0 0,1 -3.6,0v-18.1h-1.75v41.4a3,3 0 0,1 -6,0v-24.3h-4v24.3a3,3 0 0,1 -6,0v-41.4h-1.75v18.1a1.8,1.8 0 0,1 -3.6,0zM228.0,1176.5m-6.1,0a5.1,5.1 0 1,1 10.2,0a5.1,5.1 0 1,1 -10.2,0zm4.4,4h1.4v5h-1.4zm-13.65,9a5.5,5.5 0 0,1 5.5,-5.5h15.7a5.5,5.5 0 0,1 5.5,5.5v19.9a1.8,1.8 0 0,1 -3.6,0v-18.1h-1.75v41.4a3,3 0 0,1 -6,0v-24.3h-4v24.3a3,3 0 0,1 -6,0v-41.4h-1.75v18.1a1.8,1.8 0 0,1 -3.6,0zM250.7,1133.8m-6.1,0a5.1,5.1 0 1,1 10.2,0a5.1,5.1 0 1,1 -10.2,0zm4.4,4h1.4v5h-1.4zm-13.65,9a5.5,5.5 0 0,1 5.5,-5.5h15.7a5.5,5.5 0 0,1 5.5,5.5v19.9a1.8,1.8 0 0,1 -3.6,0v-18.1h-1.75v41.4a3,3 0 0,1 -6,0v-24.3h-4v24.3a3,3 0 0,1 -6,0v-41.4h-1.75v18.1a1.8,1.8 0 0,1 -3.6,0zM285.0,1175.2m-6.1,0a5.1,5.1 0 1,1 10.2,0a5.1,5.1 0 1,1 -10.2,0zm4.4,4h1.4v5h-1.4zm-13.65,9a5.5,5.5 0 0,1 5.5,-5.5h15.7a5.5,5.5 0 0,1 5.5,5.5v19.9a1.8,1.8 0 0,1 -3.6,0v-18.1h-1.75v41.4a3,3 0 0,1 -6,0v-24.3h-4v24.3a3,3 0 0,1 -6,0v-41.4h-1.75v18.1a1.8,1.8 0 0,1 -3.6,0zM329.8,1080.5m-6.1,0a5.1,5.1 0 1,1 10.2,0a5.1,5.1 0 1,1 -10.2,0zm4.4,4h1.4v5h-1.4zm-13.65,9a5.5,5.5 0 0,1 5.5,-5.5h15.7a5.5,5.5 0 0,1 5.5,5.5v19.9a1.8,1.8 0 0,1 -3.6,0v-18.1h-1.75v41.4a3,3 0 0,1 -6,0v-24.3h-4v24.3a3,3 0 0,1 -6,0v-41.4h-1.75v18.1a1.8,1.8 0 0,1 -3.6,0zM307.4,1127.8m-6.1,0a5.1,5.1 0 1,1 10.2,0a5.1,5.1 0 1,1 -10.2,0zm4.4,4h1.4v5h-1.4zm-13.65,9a5.5,5.5 0 0,1 5.5,-5.5h15.7a5.5,5.5 0 0,1 5.5,5.5v19.9a1.8,1.8 0 0,1 -3.6,0v-18.1h-1.75v41.4a3,3 0 0,1 -6,0v-24.3h-4v24.3a3,3 0 0,1 -6,0v-41.4h-1.75v18.1a1.8,1.8 0 0,1 -3.6,0zM364.1,1121.8m-6.1,0a5.1,5.1 0 1,1 10.2,0a5.1,5.1 0 1,1 -10.2,0zm4.4,4h1.4v5h-1.4zm-13.65,9a5.5,5.5 0 0,1 5.5,-5.5h15.7a5.5,5.5 0 0,1 5.5,5.5v19.9a1.8,1.8 0 0,1 -3.6,0v-18.1h-1.75v41.4a3,3 0 0,1 -6,0v-24.3h-4v24.3a3,3 0 0,1 -6,0v-41.4h-1.75v18.1a1.8,1.8 0 0,1 -3.6,0zM420.8,1115.8m-6.1,0a5.1,5.1 0 1,1 10.2,0a5.1,5.1 0 1,1 -10.2,0zm4.4,4h1.4v5h-1.4zm-13.65,9a5.5,5.5 0 0,1 5.5,-5.5h15.7a5.5,5.5 0 0,1 5.5,5.5v19.9a1.8,1.8 0 0,1 -3.6,0v-18.1h-1.75v41.4a3,3 0 0,1 -6,0v-24.3h-4v24.3a3,3 0 0,1 -6,0v-41.4h-1.75v18.1a1.8,1.8 0 0,1 -3.6,0zM477.5,1109.8m-6.1,0a5.1,5.1 0 1,1 10.2,0a5.1,5.1 0 1,1 -10.2,0zm4.4,4h1.4v5h-1.4zm-13.65,9a5.5,5.5 0 0,1 5.5,-5.5h15.7a5.5,5.5 0 0,1 5.5,5.5v19.9a1.8,1.8 0 0,1 -3.6,0v-18.1h-1.75v41.4a3,3 0 0,1 -6,0v-24.3h-4v24.3a3,3 0 0,1 -6,0v-41.4h-1.75v18.1a1.8,1.8 0 0,1 -3.6,0zM534.2,1103.9m-6.1,0a5.1,5.1 0 1,1 10.2,0a5.1,5.1 0 1,1 -10.2,0zm4.4,4h1.4v5h-1.4zm-13.65,9a5.5,5.5 0 0,1 5.5,-5.5h15.7a5.5,5.5 0 0,1 5.5,5.5v19.9a1.8,1.8 0 0,1 -3.6,0v-18.1h-1.75v41.4a3,3 0 0,1 -6,0v-24.3h-4v24.3a3,3 0 0,1 -6,0v-41.4h-1.75v18.1a1.8,1.8 0 0,1 -3.6,0zM590.9,1097.9m-6.1,0a5.1,5.1 0 1,1 10.2,0a5.1,5.1 0 1,1 -10.2,0zm4.4,4h1.4v5h-1.4zm-13.65,9a5.5,5.5 0 0,1 5.5,-5.5h15.7a5.5,5.5 0 0,1 5.5,5.5v19.9a1.8,1.8 0 0,1 -3.6,0v-18.1h-1.75v41.4a3,3 0 0,1 -6,0v-24.3h-4v24.3a3,3 0 0,1 -6,0v-41.4h-1.75v18.1a1.8,1.8 0 0,1 -3.6,0zM647.6,1091.9m-6.1,0a5.1,5.1 0 1,1 10.2,0a5.1,5.1 0 1,1 -10.2,0zm4.4,4h1.4v5h-1.4zm-13.65,9a5.5,5.5 0 0,1 5.5,-5.5h15.7a5.5,5.5 0 0,1 5.5,5.5v19.9a1.8,1.8 0 0,1 -3.6,0v-18.1h-1.75v41.4a3,3 0 0,1 -6,0v-24.3h-4v24.3a3,3 0 0,1 -6,0v-41.4h-1.75v18.1a1.8,1.8 0 0,1 -3.6,0zM704.3,1085.9m-6.1,0a5.1,5.1 0 1,1 10.2,0a5.1,5.1 0 1,1 -10.2,0zm4.4,4h1.4v5h-1.4zm-13.65,9a5.5,5.5 0 0,1 5.5,-5.5h15.7a5.5,5.5 0 0,1 5.5,5.5v19.9a1.8,1.8 0 0,1 -3.6,0v-18.1h-1.75v41.4a3,3 0 0,1 -6,0v-24.3h-4v24.3a3,3 0 0,1 -6,0v-41.4h-1.75v18.1a1.8,1.8 0 0,1 -3.6,0zM341.7,1169.2m-6.1,0a5.1,5.1 0 1,1 10.2,0a5.1,5.1 0 1,1 -10.2,0zm4.4,4h1.4v5h-1.4zm-13.65,9a5.5,5.5 0 0,1 5.5,-5.5h15.7a5.5,5.5 0 0,1 5.5,5.5v19.9a1.8,1.8 0 0,1 -3.6,0v-18.1h-1.75v41.4a3,3 0 0,1 -6,0v-24.3h-4v24.3a3,3 0 0,1 -6,0v-41.4h-1.75v18.1a1.8,1.8 0 0,1 -3.6,0zM398.4,1163.2m-6.1,0a5.1,5.1 0 1,1 10.2,0a5.1,5.1 0 1,1 -10.2,0zm4.4,4h1.4v5h-1.4zm-13.65,9a5.5,5.5 0 0,1 5.5,-5.5h15.7a5.5,5.5 0 0,1 5.5,5.5v19.9a1.8,1.8 0 0,1 -3.6,0v-18.1h-1.75v41.4a3,3 0 0,1 -6,0v-24.3h-4v24.3a3,3 0 0,1 -6,0v-41.4h-1.75v18.1a1.8,1.8 0 0,1 -3.6,0zM455.1,1157.2m-6.1,0a5.1,5.1 0 1,1 10.2,0a5.1,5.1 0 1,1 -10.2,0zm4.4,4h1.4v5h-1.4zm-13.65,9a5.5,5.5 0 0,1 5.5,-5.5h15.7a5.5,5.5 0 0,1 5.5,5.5v19.9a1.8,1.8 0 0,1 -3.6,0v-18.1h-1.75v41.4a3,3 0 0,1 -6,0v-24.3h-4v24.3a3,3 0 0,1 -6,0v-41.4h-1.75v18.1a1.8,1.8 0 0,1 -3.6,0zM511.8,1151.2m-6.1,0a5.1,5.1 0 1,1 10.2,0a5.1,5.1 0 1,1 -10.2,0zm4.4,4h1.4v5h-1.4zm-13.65,9a5.5,5.5 0 0,1 5.5,-5.5h15.7a5.5,5.5 0 0,1 5.5,5.5v19.9a1.8,1.8 0 0,1 -3.6,0v-18.1h-1.75v41.4a3,3 0 0,1 -6,0v-24.3h-4v24.3a3,3 0 0,1 -6,0v-41.4h-1.75v18.1a1.8,1.8 0 0,1 -3.6,0zM568.5,1145.2m-6.1,0a5.1,5.1 0 1,1 10.2,0a5.1,5.1 0 1,1 -10.2,0zm4.4,4h1.4v5h-1.4zm-13.65,9a5.5,5.5 0 0,1 5.5,-5.5h15.7a5.5,5.5 0 0,1 5.5,5.5v19.9a1.8,1.8 0 0,1 -3.6,0v-18.1h-1.75v41.4a3,3 0 0,1 -6,0v-24.3h-4v24.3a3,3 0 0,1 -6,0v-41.4h-1.75v18.1a1.8,1.8 0 0,1 -3.6,0zM625.2,1139.2m-6.1,0a5.1,5.1 0 1,1 10.2,0a5.1,5.1 0 1,1 -10.2,0zm4.4,4h1.4v5h-1.4zm-13.65,9a5.5,5.5 0 0,1 5.5,-5.5h15.7a5.5,5.5 0 0,1 5.5,5.5v19.9a1.8,1.8 0 0,1 -3.6,0v-18.1h-1.75v41.4a3,3 0 0,1 -6,0v-24.3h-4v24.3a3,3 0 0,1 -6,0v-41.4h-1.75v18.1a1.8,1.8 0 0,1 -3.6,0zM681.9,1133.2m-6.1,0a5.1,5.1 0 1,1 10.2,0a5.1,5.1 0 1,1 -10.2,0zm4.4,4h1.4v5h-1.4zm-13.65,9a5.5,5.5 0 0,1 5.5,-5.5h15.7a5.5,5.5 0 0,1 5.5,5.5v19.9a1.8,1.8 0 0,1 -3.6,0v-18.1h-1.75v41.4a3,3 0 0,1 -6,0v-24.3h-4v24.3a3,3 0 0,1 -6,0v-41.4h-1.75v18.1a1.8,1.8 0 0,1 -3.6,0zM738.6,1127.2m-6.1,0a5.1,5.1 0 1,1 10.2,0a5.1,5.1 0 1,1 -10.2,0zm4.4,4h1.4v5h-1.4zm-13.65,9a5.5,5.5 0 0,1 5.5,-5.5h15.7a5.5,5.5 0 0,1 5.5,5.5v19.9a1.8,1.8 0 0,1 -3.6,0v-18.1h-1.75v41.4a3,3 0 0,1 -6,0v-24.3h-4v24.3a3,3 0 0,1 -6,0v-41.4h-1.75v18.1a1.8,1.8 0 0,1 -3.6,0zM795.3,1121.2m-6.1,0a5.1,5.1 0 1,1 10.2,0a5.1,5.1 0 1,1 -10.2,0zm4.4,4h1.4v5h-1.4zm-13.65,9a5.5,5.5 0 0,1 5.5,-5.5h15.7a5.5,5.5 0 0,1 5.5,5.5v19.9a1.8,1.8 0 0,1 -3.6,0v-18.1h-1.75v41.4a3,3 0 0,1 -6,0v-24.3h-4v24.3a3,3 0 0,1 -6,0v-41.4h-1.75v18.1a1.8,1.8 0 0,1 -3.6,0zM489.4,1198.6m-6.1,0a5.1,5.1 0 1,1 10.2,0a5.1,5.1 0 1,1 -10.2,0zm4.4,4h1.4v5h-1.4zm-13.65,9a5.5,5.5 0 0,1 5.5,-5.5h15.7a5.5,5.5 0 0,1 5.5,5.5v19.9a1.8,1.8 0 0,1 -3.6,0v-18.1h-1.75v41.4a3,3 0 0,1 -6,0v-24.3h-4v24.3a3,3 0 0,1 -6,0v-41.4h-1.75v18.1a1.8,1.8 0 0,1 -3.6,0zM546.1,1192.6m-6.1,0a5.1,5.1 0 1,1 10.2,0a5.1,5.1 0 1,1 -10.2,0zm4.4,4h1.4v5h-1.4zm-13.65,9a5.5,5.5 0 0,1 5.5,-5.5h15.7a5.5,5.5 0 0,1 5.5,5.5v19.9a1.8,1.8 0 0,1 -3.6,0v-18.1h-1.75v41.4a3,3 0 0,1 -6,0v-24.3h-4v24.3a3,3 0 0,1 -6,0v-41.4h-1.75v18.1a1.8,1.8 0 0,1 -3.6,0zM602.8,1186.6m-6.1,0a5.1,5.1 0 1,1 10.2,0a5.1,5.1 0 1,1 -10.2,0zm4.4,4h1.4v5h-1.4zm-13.65,9a5.5,5.5 0 0,1 5.5,-5.5h15.7a5.5,5.5 0 0,1 5.5,5.5v19.9a1.8,1.8 0 0,1 -3.6,0v-18.1h-1.75v41.4a3,3 0 0,1 -6,0v-24.3h-4v24.3a3,3 0 0,1 -6,0v-41.4h-1.75v18.1a1.8,1.8 0 0,1 -3.6,0zM659.5,1180.6m-6.1,0a5.1,5.1 0 1,1 10.2,0a5.1,5.1 0 1,1 -10.2,0zm4.4,4h1.4v5h-1.4zm-13.65,9a5.5,5.5 0 0,1 5.5,-5.5h15.7a5.5,5.5 0 0,1 5.5,5.5v19.9a1.8,1.8 0 0,1 -3.6,0v-18.1h-1.75v41.4a3,3 0 0,1 -6,0v-24.3h-4v24.3a3,3 0 0,1 -6,0v-41.4h-1.75v18.1a1.8,1.8 0 0,1 -3.6,0zM716.2,1174.6m-6.1,0a5.1,5.1 0 1,1 10.2,0a5.1,5.1 0 1,1 -10.2,0zm4.4,4h1.4v5h-1.4zm-13.65,9a5.5,5.5 0 0,1 5.5,-5.5h15.7a5.5,5.5 0 0,1 5.5,5.5v19.9a1.8,1.8 0 0,1 -3.6,0v-18.1h-1.75v41.4a3,3 0 0,1 -6,0v-24.3h-4v24.3a3,3 0 0,1 -6,0v-41.4h-1.75v18.1a1.8,1.8 0 0,1 -3.6,0zM772.9,1168.6m-6.1,0a5.1,5.1 0 1,1 10.2,0a5.1,5.1 0 1,1 -10.2,0zm4.4,4h1.4v5h-1.4zm-13.65,9a5.5,5.5 0 0,1 5.5,-5.5h15.7a5.5,5.5 0 0,1 5.5,5.5v19.9a1.8,1.8 0 0,1 -3.6,0v-18.1h-1.75v41.4a3,3 0 0,1 -6,0v-24.3h-4v24.3a3,3 0 0,1 -6,0v-41.4h-1.75v18.1a1.8,1.8 0 0,1 -3.6,0zM852.0,1115.3m-6.1,0a5.1,5.1 0 1,1 10.2,0a5.1,5.1 0 1,1 -10.2,0zm4.4,4h1.4v5h-1.4zm-13.65,9a5.5,5.5 0 0,1 5.5,-5.5h15.7a5.5,5.5 0 0,1 5.5,5.5v19.9a1.8,1.8 0 0,1 -3.6,0v-18.1h-1.75v41.4a3,3 0 0,1 -6,0v-24.3h-4v24.3a3,3 0 0,1 -6,0v-41.4h-1.75v18.1a1.8,1.8 0 0,1 -3.6,0zM908.7,1109.3m-6.1,0a5.1,5.1 0 1,1 10.2,0a5.1,5.1 0 1,1 -10.2,0zm4.4,4h1.4v5h-1.4zm-13.65,9a5.5,5.5 0 0,1 5.5,-5.5h15.7a5.5,5.5 0 0,1 5.5,5.5v19.9a1.8,1.8 0 0,1 -3.6,0v-18.1h-1.75v41.4a3,3 0 0,1 -6,0v-24.3h-4v24.3a3,3 0 0,1 -6,0v-41.4h-1.75v18.1a1.8,1.8 0 0,1 -3.6,0zM965.4,1103.3m-6.1,0a5.1,5.1 0 1,1 10.2,0a5.1,5.1 0 1,1 -10.2,0zm4.4,4h1.4v5h-1.4zm-13.65,9a5.5,5.5 0 0,1 5.5,-5.5h15.7a5.5,5.5 0 0,1 5.5,5.5v19.9a1.8,1.8 0 0,1 -3.6,0v-18.1h-1.75v41.4a3,3 0 0,1 -6,0v-24.3h-4v24.3a3,3 0 0,1 -6,0v-41.4h-1.75v18.1a1.8,1.8 0 0,1 -3.6,0zM1022.1,1097.3m-6.1,0a5.1,5.1 0 1,1 10.2,0a5.1,5.1 0 1,1 -10.2,0zm4.4,4h1.4v5h-1.4zm-13.65,9a5.5,5.5 0 0,1 5.5,-5.5h15.7a5.5,5.5 0 0,1 5.5,5.5v19.9a1.8,1.8 0 0,1 -3.6,0v-18.1h-1.75v41.4a3,3 0 0,1 -6,0v-24.3h-4v24.3a3,3 0 0,1 -6,0v-41.4h-1.75v18.1a1.8,1.8 0 0,1 -3.6,0zM1078.8,1091.3m-6.1,0a5.1,5.1 0 1,1 10.2,0a5.1,5.1 0 1,1 -10.2,0zm4.4,4h1.4v5h-1.4zm-13.65,9a5.5,5.5 0 0,1 5.5,-5.5h15.7a5.5,5.5 0 0,1 5.5,5.5v19.9a1.8,1.8 0 0,1 -3.6,0v-18.1h-1.75v41.4a3,3 0 0,1 -6,0v-24.3h-4v24.3a3,3 0 0,1 -6,0v-41.4h-1.75v18.1a1.8,1.8 0 0,1 -3.6,0zM1135.5,1085.3m-6.1,0a5.1,5.1 0 1,1 10.2,0a5.1,5.1 0 1,1 -10.2,0zm4.4,4h1.4v5h-1.4zm-13.65,9a5.5,5.5 0 0,1 5.5,-5.5h15.7a5.5,5.5 0 0,1 5.5,5.5v19.9a1.8,1.8 0 0,1 -3.6,0v-18.1h-1.75v41.4a3,3 0 0,1 -6,0v-24.3h-4v24.3a3,3 0 0,1 -6,0v-41.4h-1.75v18.1a1.8,1.8 0 0,1 -3.6,0zM1192.2,1079.3m-6.1,0a5.1,5.1 0 1,1 10.2,0a5.1,5.1 0 1,1 -10.2,0zm4.4,4h1.4v5h-1.4zm-13.65,9a5.5,5.5 0 0,1 5.5,-5.5h15.7a5.5,5.5 0 0,1 5.5,5.5v19.9a1.8,1.8 0 0,1 -3.6,0v-18.1h-1.75v41.4a3,3 0 0,1 -6,0v-24.3h-4v24.3a3,3 0 0,1 -6,0v-41.4h-1.75v18.1a1.8,1.8 0 0,1 -3.6,0zM829.6,1162.6m-6.1,0a5.1,5.1 0 1,1 10.2,0a5.1,5.1 0 1,1 -10.2,0zm4.4,4h1.4v5h-1.4zm-13.65,9a5.5,5.5 0 0,1 5.5,-5.5h15.7a5.5,5.5 0 0,1 5.5,5.5v19.9a1.8,1.8 0 0,1 -3.6,0v-18.1h-1.75v41.4a3,3 0 0,1 -6,0v-24.3h-4v24.3a3,3 0 0,1 -6,0v-41.4h-1.75v18.1a1.8,1.8 0 0,1 -3.6,0zM886.3,1156.6m-6.1,0a5.1,5.1 0 1,1 10.2,0a5.1,5.1 0 1,1 -10.2,0zm4.4,4h1.4v5h-1.4zm-13.65,9a5.5,5.5 0 0,1 5.5,-5.5h15.7a5.5,5.5 0 0,1 5.5,5.5v19.9a1.8,1.8 0 0,1 -3.6,0v-18.1h-1.75v41.4a3,3 0 0,1 -6,0v-24.3h-4v24.3a3,3 0 0,1 -6,0v-41.4h-1.75v18.1a1.8,1.8 0 0,1 -3.6,0zM943.0,1150.6m-6.1,0a5.1,5.1 0 1,1 10.2,0a5.1,5.1 0 1,1 -10.2,0zm4.4,4h1.4v5h-1.4zm-13.65,9a5.5,5.5 0 0,1 5.5,-5.5h15.7a5.5,5.5 0 0,1 5.5,5.5v19.9a1.8,1.8 0 0,1 -3.6,0v-18.1h-1.75v41.4a3,3 0 0,1 -6,0v-24.3h-4v24.3a3,3 0 0,1 -6,0v-41.4h-1.75v18.1a1.8,1.8 0 0,1 -3.6,0zM999.7,1144.6m-6.1,0a5.1,5.1 0 1,1 10.2,0a5.1,5.1 0 1,1 -10.2,0zm4.4,4h1.4v5h-1.4zm-13.65,9a5.5,5.5 0 0,1 5.5,-5.5h15.7a5.5,5.5 0 0,1 5.5,5.5v19.9a1.8,1.8 0 0,1 -3.6,0v-18.1h-1.75v41.4a3,3 0 0,1 -6,0v-24.3h-4v24.3a3,3 0 0,1 -6,0v-41.4h-1.75v18.1a1.8,1.8 0 0,1 -3.6,0zM1056.4,1138.6m-6.1,0a5.1,5.1 0 1,1 10.2,0a5.1,5.1 0 1,1 -10.2,0zm4.4,4h1.4v5h-1.4zm-13.65,9a5.5,5.5 0 0,1 5.5,-5.5h15.7a5.5,5.5 0 0,1 5.5,5.5v19.9a1.8,1.8 0 0,1 -3.6,0v-18.1h-1.75v41.4a3,3 0 0,1 -6,0v-24.3h-4v24.3a3,3 0 0,1 -6,0v-41.4h-1.75v18.1a1.8,1.8 0 0,1 -3.6,0zM1113.1,1132.6m-6.1,0a5.1,5.1 0 1,1 10.2,0a5.1,5.1 0 1,1 -10.2,0zm4.4,4h1.4v5h-1.4zm-13.65,9a5.5,5.5 0 0,1 5.5,-5.5h15.7a5.5,5.5 0 0,1 5.5,5.5v19.9a1.8,1.8 0 0,1 -3.6,0v-18.1h-1.75v41.4a3,3 0 0,1 -6,0v-24.3h-4v24.3a3,3 0 0,1 -6,0v-41.4h-1.75v18.1a1.8,1.8 0 0,1 -3.6,0zM1169.8,1126.7m-6.1,0a5.1,5.1 0 1,1 10.2,0a5.1,5.1 0 1,1 -10.2,0zm4.4,4h1.4v5h-1.4zm-13.65,9a5.5,5.5 0 0,1 5.5,-5.5h15.7a5.5,5.5 0 0,1 5.5,5.5v19.9a1.8,1.8 0 0,1 -3.6,0v-18.1h-1.75v41.4a3,3 0 0,1 -6,0v-24.3h-4v24.3a3,3 0 0,1 -6,0v-41.4h-1.75v18.1a1.8,1.8 0 0,1 -3.6,0zM1226.5,1120.7m-6.1,0a5.1,5.1 0 1,1 10.2,0a5.1,5.1 0 1,1 -10.2,0zm4.4,4h1.4v5h-1.4zm-13.65,9a5.5,5.5 0 0,1 5.5,-5.5h15.7a5.5,5.5 0 0,1 5.5,5.5v19.9a1.8,1.8 0 0,1 -3.6,0v-18.1h-1.75v41.4a3,3 0 0,1 -6,0v-24.3h-4v24.3a3,3 0 0,1 -6,0v-41.4h-1.75v18.1a1.8,1.8 0 0,1 -3.6,0zM1283.2,1114.7m-6.1,0a5.1,5.1 0 1,1 10.2,0a5.1,5.1 0 1,1 -10.2,0zm4.4,4h1.4v5h-1.4zm-13.65,9a5.5,5.5 0 0,1 5.5,-5.5h15.7a5.5,5.5 0 0,1 5.5,5.5v19.9a1.8,1.8 0 0,1 -3.6,0v-18.1h-1.75v41.4a3,3 0 0,1 -6,0v-24.3h-4v24.3a3,3 0 0,1 -6,0v-41.4h-1.75v18.1a1.8,1.8 0 0,1 -3.6,0zM1343.7,1108.6m-6.1,0a5.1,5.1 0 1,1 10.2,0a5.1,5.1 0 1,1 -10.2,0zm4.4,4h1.4v5h-1.4zm-13.65,9a5.5,5.5 0 0,1 5.5,-5.5h15.7a5.5,5.5 0 0,1 5.5,5.5v19.9a1.8,1.8 0 0,1 -3.6,0v-18.1h-1.75v41.4a3,3 0 0,1 -6,0v-24.3h-4v24.3a3,3 0 0,1 -6,0v-41.4h-1.75v18.1a1.8,1.8 0 0,1 -3.6,0zM1396.6,1102.7m-6.1,0a5.1,5.1 0 1,1 10.2,0a5.1,5.1 0 1,1 -10.2,0zm4.4,4h1.4v5h-1.4zm-13.65,9a5.5,5.5 0 0,1 5.5,-5.5h15.7a5.5,5.5 0 0,1 5.5,5.5v19.9a1.8,1.8 0 0,1 -3.6,0v-18.1h-1.75v41.4a3,3 0 0,1 -6,0v-24.3h-4v24.3a3,3 0 0,1 -6,0v-41.4h-1.75v18.1a1.8,1.8 0 0,1 -3.6,0zM977.4,1192.0m-6.1,0a5.1,5.1 0 1,1 10.2,0a5.1,5.1 0 1,1 -10.2,0zm4.4,4h1.4v5h-1.4zm-13.65,9a5.5,5.5 0 0,1 5.5,-5.5h15.7a5.5,5.5 0 0,1 5.5,5.5v19.9a1.8,1.8 0 0,1 -3.6,0v-18.1h-1.75v41.4a3,3 0 0,1 -6,0v-24.3h-4v24.3a3,3 0 0,1 -6,0v-41.4h-1.75v18.1a1.8,1.8 0 0,1 -3.6,0zM1034.1,1186.0m-6.1,0a5.1,5.1 0 1,1 10.2,0a5.1,5.1 0 1,1 -10.2,0zm4.4,4h1.4v5h-1.4zm-13.65,9a5.5,5.5 0 0,1 5.5,-5.5h15.7a5.5,5.5 0 0,1 5.5,5.5v19.9a1.8,1.8 0 0,1 -3.6,0v-18.1h-1.75v41.4a3,3 0 0,1 -6,0v-24.3h-4v24.3a3,3 0 0,1 -6,0v-41.4h-1.75v18.1a1.8,1.8 0 0,1 -3.6,0zM1090.8,1180.0m-6.1,0a5.1,5.1 0 1,1 10.2,0a5.1,5.1 0 1,1 -10.2,0zm4.4,4h1.4v5h-1.4zm-13.65,9a5.5,5.5 0 0,1 5.5,-5.5h15.7a5.5,5.5 0 0,1 5.5,5.5v19.9a1.8,1.8 0 0,1 -3.6,0v-18.1h-1.75v41.4a3,3 0 0,1 -6,0v-24.3h-4v24.3a3,3 0 0,1 -6,0v-41.4h-1.75v18.1a1.8,1.8 0 0,1 -3.6,0zM1147.5,1174.0m-6.1,0a5.1,5.1 0 1,1 10.2,0a5.1,5.1 0 1,1 -10.2,0zm4.4,4h1.4v5h-1.4zm-13.65,9a5.5,5.5 0 0,1 5.5,-5.5h15.7a5.5,5.5 0 0,1 5.5,5.5v19.9a1.8,1.8 0 0,1 -3.6,0v-18.1h-1.75v41.4a3,3 0 0,1 -6,0v-24.3h-4v24.3a3,3 0 0,1 -6,0v-41.4h-1.75v18.1a1.8,1.8 0 0,1 -3.6,0zM1204.2,1168.0m-6.1,0a5.1,5.1 0 1,1 10.2,0a5.1,5.1 0 1,1 -10.2,0zm4.4,4h1.4v5h-1.4zm-13.65,9a5.5,5.5 0 0,1 5.5,-5.5h15.7a5.5,5.5 0 0,1 5.5,5.5v19.9a1.8,1.8 0 0,1 -3.6,0v-18.1h-1.75v41.4a3,3 0 0,1 -6,0v-24.3h-4v24.3a3,3 0 0,1 -6,0v-41.4h-1.75v18.1a1.8,1.8 0 0,1 -3.6,0zM1260.9,1162.0m-6.1,0a5.1,5.1 0 1,1 10.2,0a5.1,5.1 0 1,1 -10.2,0zm4.4,4h1.4v5h-1.4zm-13.65,9a5.5,5.5 0 0,1 5.5,-5.5h15.7a5.5,5.5 0 0,1 5.5,5.5v19.9a1.8,1.8 0 0,1 -3.6,0v-18.1h-1.75v41.4a3,3 0 0,1 -6,0v-24.3h-4v24.3a3,3 0 0,1 -6,0v-41.4h-1.75v18.1a1.8,1.8 0 0,1 -3.6,0zM1317.6,1156.0m-6.1,0a5.1,5.1 0 1,1 10.2,0a5.1,5.1 0 1,1 -10.2,0zm4.4,4h1.4v5h-1.4zm-13.65,9a5.5,5.5 0 0,1 5.5,-5.5h15.7a5.5,5.5 0 0,1 5.5,5.5v19.9a1.8,1.8 0 0,1 -3.6,0v-18.1h-1.75v41.4a3,3 0 0,1 -6,0v-24.3h-4v24.3a3,3 0 0,1 -6,0v-41.4h-1.75v18.1a1.8,1.8 0 0,1 -3.6,0zM1374.3,1150.0m-6.1,0a5.1,5.1 0 1,1 10.2,0a5.1,5.1 0 1,1 -10.2,0zm4.4,4h1.4v5h-1.4zm-13.65,9a5.5,5.5 0 0,1 5.5,-5.5h15.7a5.5,5.5 0 0,1 5.5,5.5v19.9a1.8,1.8 0 0,1 -3.6,0v-18.1h-1.75v41.4a3,3 0 0,1 -6,0v-24.3h-4v24.3a3,3 0 0,1 -6,0v-41.4h-1.75v18.1a1.8,1.8 0 0,1 -3.6,0zM1351.9,1197.4m-6.1,0a5.1,5.1 0 1,1 10.2,0a5.1,5.1 0 1,1 -10.2,0zm4.4,4h1.4v5h-1.4zm-13.65,9a5.5,5.5 0 0,1 5.5,-5.5h15.7a5.5,5.5 0 0,1 5.5,5.5v19.9a1.8,1.8 0 0,1 -3.6,0v-18.1h-1.75v41.4a3,3 0 0,1 -6,0v-24.3h-4v24.3a3,3 0 0,1 -6,0v-41.4h-1.75v18.1a1.8,1.8 0 0,1 -3.6,0z"/>
<path fill="#759ee0" d="M155.9,808.5m-6.1,0a5.1,5.1 0 1,1 10.2,0a5.1,5.1 0 1,1 -10.2,0zm4.4,4h1.4v5h-1.4zm-13.65,9a5.5,5.5 0 0,1 5.5,-5.5h15.7a5.5,5.5 0 0,1 5.5,5.5v19.9a1.8,1.8 0 0,1 -3.6,0v-18.1h-1.75v41.4a3,3 0 0,1 -6,0v-24.3h-4v24.3a3,3 0 0,1 -6,0v-41.4h-1.75v18.1a1.8,1.8 0 0,1 -3.6,0zM206.0,785.0m-6.1,0a5.1,5.1 0 1,1 10.2,0a5.1,5.1 0 1,1 -10.2,0zm4.4,4h1.4v5h-1.4zm-13.65,9a5.5,5.5 0 0,1 5.5,-5.5h15.7a5.5,5.5 0 0,1 5.5,5.5v19.9a1.8,1.8 0 0,1 -3.6,0v-18.1h-1.75v41.4a3,3 0 0,1 -6,0v-24.3h-4v24.3a3,3 0 0,1 -6,0v-41.4h-1.75v18.1a1.8,1.8 0 0,1 -3.6,0zM259.7,772.9m-6.1,0a5.1,5.1 0 1,1 10.2,0a5.1,5.1 0 1,1 -10.2,0zm4.4,4h1.4v5h-1.4zm-13.65,9a5.5,5.5 0 0,1 5.5,-5.5h15.7a5.5,5.5 0 0,1 5.5,5.5v19.9a1.8,1.8 0 0,1 -3.6,0v-18.1h-1.75v41.4a3,3 0 0,1 -6,0v-24.3h-4v24.3a3,3 0 0,1 -6,0v-41.4h-1.75v18.1a1.8,1.8 0 0,1 -3.6,0zM316.4,766.9m-6.1,0a5.1,5.1 0 1,1 10.2,0a5.1,5.1 0 1,1 -10.2,0zm4.4,4h1.4v5h-1.4zm-13.65,9a5.5,5.5 0 0,1 5.5,-5.5h15.7a5.5,5.5 0 0,1 5.5,5.5v19.9a1.8,1.8 0 0,1 -3.6,0v-18.1h-1.75v41.4a3,3 0 0,1 -6,0v-24.3h-4v24.3a3,3 0 0,1 -6,0v-41.4h-1.75v18.1a1.8,1.8 0 0,1 -3.6,0zM220.1,834.5m-6.1,0a5.1,5.1 0 1,1 10.2,0a5.1,5.1 0 1,1 -10.2,0zm4.4,4h1.4v5h-1.4zm-13.65,9a5.5,5.5 0 0,1 5.5,-5.5h15.7a5.5,5.5 0 0,1 5.5,5.5v19.9a1.8,1.8 0 0,1 -3.6,0v-18.1h-1.75v41.4a3,3 0 0,1 -6,0v-24.3h-4v24.3a3,3 0 0,1 -6,0v-41.4h-1.75v18.1a1.8,1.8 0 0,1 -3.6,0zM294.0,814.2m-6.1,0a5.1,5.1 0 1,1 10.2,0a5.1,5.1 0 1,1 -10.2,0zm4.4,4h1.4v5h-1.4zm-13.65,9a5.5,5.5 0 0,1 5.5,-5.5h15.7a5.5,5.5 0 0,1 5.5,5.5v19.9a1.8,1.8 0 0,1 -3.6,0v-18.1h-1.75v41.4a3,3 0 0,1 -6,0v-24.3h-4v24.3a3,3 0 0,1 -6,0v-41.4h-1.75v18.1a1.8,1.8 0 0,1 -3.6,0zM350.7,808.2m-6.1,0a5.1,5.1 0 1,1 10.2,0a5.1,5.1 0 1,1 -10.2,0zm4.4,4h1.4v5h-1.4zm-13.65,9a5.5,5.5 0 0,1 5.5,-5.5h15.7a5.5,5.5 0 0,1 5.5,5.5v19.9a1.8,1.8 0 0,1 -3.6,0v-18.1h-1.75v41.4a3,3 0 0,1 -6,0v-24.3h-4v24.3a3,3 0 0,1 -6,0v-41.4h-1.75v18.1a1.8,1.8 0 0,1 -3.6,0zM407.4,802.3m-6.1,0a5.1,5.1 0 1,1 10.2,0a5.1,5.1 0 1,1 -10.2,0zm4.4,4h1.4v5h-1.4zm-13.65,9a5.5,5.5 0 0,1 5.5,-5.5h15.7a5.5,5.5 0 0,1 5.5,5.5v19.9a1.8,1.8 0 0,1 -3.6,0v-18.1h-1.75v41.4a3,3 0 0,1 -6,0v-24.3h-4v24.3a3,3 0 0,1 -6,0v-41.4h-1.75v18.1a1.8,1.8 0 0,1 -3.6,0zM464.1,796.3m-6.1,0a5.1,5.1 0 1,1 10.2,0a5.1,5.1 0 1,1 -10.2,0zm4.4,4h1.4v5h-1.4zm-13.65,9a5.5,5.5 0 0,1 5.5,-5.5h15.7a5.5,5.5 0 0,1 5.5,5.5v19.9a1.8,1.8 0 0,1 -3.6,0v-18.1h-1.75v41.4a3,3 0 0,1 -6,0v-24.3h-4v24.3a3,3 0 0,1 -6,0v-41.4h-1.75v18.1a1.8,1.8 0 0,1 -3.6,0zM520.8,790.3m-6.1,0a5.1,5.1 0 1,1 10.2,0a5.1,5.1 0 1,1 -10.2,0zm4.4,4h1.4v5h-1.4zm-13.65,9a5.5,5.5 0 0,1 5.5,-5.5h15.7a5.5,5.5 0 0,1 5.5,5.5v19.9a1.8,1.8 0 0,1 -3.6,0v-18.1h-1.75v41.4a3,3 0 0,1 -6,0v-24.3h-4v24.3a3,3 0 0,1 -6,0v-41.4h-1.75v18.1a1.8,1.8 0 0,1 -3.6,0zM577.5,784.3m-6.1,0a5.1,5.1 0 1,1 10.2,0a5.1,5.1 0 1,1 -10.2,0zm4.4,4h1.4v5h-1.4zm-13.65,9a5.5,5.5 0 0,1 5.5,-5.5h15.7a5.5,5.5 0 0,1 5.5,5.5v19.9a1.8,1.8 0 0,1 -3.6,0v-18.1h-1.75v41.4a3,3 0 0,1 -6,0v-24.3h-4v24.3a3,3 0 0,1 -6,0v-41.4h-1.75v18.1a1.8,1.8 0 0,1 -3.6,0zM634.2,778.3m-6.1,0a5.1,5.1 0 1,1 10.2,0a5.1,5.1 0 1,1 -10.2,0zm4.4,4h1.4v5h-1.4zm-13.65,9a5.5,5.5 0 0,1 5.5,-5.5h15.7a5.5,5.5 0 0,1 5.5,5.5v19.9a1.8,1.8 0 0,1 -3.6,0v-18.1h-1.75v41.4a3,3 0 0,1 -6,0v-24.3h-4v24.3a3,3 0 0,1 -6,0v-41.4h-1.75v18.1a1.8,1.8 0 0,1 -3.6,0zM690.9,772.3m-6.1,0a5.1,5.1 0 1,1 10.2,0a5.1,5.1 0 1,1 -10.2,0zm4.4,4h1.4v5h-1.4zm-13.65,9a5.5,5.5 0 0,1 5.5,-5.5h15.7a5.5,5.5 0 0,1 5.5,5.5v19.9a1.8,1.8 0 0,1 -3.6,0v-18.1h-1.75v41.4a3,3 0 0,1 -6,0v-24.3h-4v24.3a3,3 0 0,1 -6,0v-41.4h-1.75v18.1a1.8,1.8 0 0,1 -3.6,0zM747.6,766.3m-6.1,0a5.1,5.1 0 1,1 10.2,0a5.1,5.1 0 1,1 -10.2,0zm4.4,4h1.4v5h-1.4zm-13.65,9a5.5,5.5 0 0,1 5.5,-5.5h15.7a5.5,5.5 0 0,1 5.5,5.5v19.9a1.8,1.8 0 0,1 -3.6,0v-18.1h-1.75v41.4a3,3 0 0,1 -6,0v-24.3h-4v24.3a3,3 0 0,1 -6,0v-41.4h-1.75v18.1a1.8,1.8 0 0,1 -3.6,0zM150.2,860.5m-6.1,0a5.1,5.1 0 1,1 10.2,0a5.1,5.1 0 1,1 -10.2,0zm4.4,4h1.4v5h-1.4zm-13.65,9a5.5,5.5 0 0,1 5.5,-5.5h15.7a5.5,5.5 0 0,1 5.5,5.5v19.9a1.8,1.8 0 0,1 -3.6,0v-18.1h-1.75v41.4a3,3 0 0,1 -6,0v-24.3h-4v24.3a3,3 0 0,1 -6,0v-41.4h-1.75v18.1a1.8,1.8 0 0,1 -3.6,0zM201.7,882.0m-6.1,0a5.1,5.1 0 1,1 10.2,0a5.1,5.1 0 1,1 -10.2,0zm4.4,4h1.4v5h-1.4zm-13.65,9a5.5,5.5 0 0,1 5.5,-5.5h15.7a5.5,5.5 0 0,1 5.5,5.5v19.9a1.8,1.8 0 0,1 -3.6,0v-18.1h-1.75v41.4a3,3 0 0,1 -6,0v-24.3h-4v24.3a3,3 0 0,1 -6,0v-41.4h-1.75v18.1a1.8,1.8 0 0,1 -3.6,0zM267.7,860.5m-6.1,0a5.1,5.1 0 1,1 10.2,0a5.1,5.1 0 1,1 -10.2,0zm4.4,4h1.4v5h-1.4zm-13.65,9a5.5,5.5 0 0,1 5.5,-5.5h15.7a5.5,5.5 0 0,1 5.5,5.5v19.9a1.8,1.8 0 0,1 -3.6,0v-18.1h-1.75v41.4a3,3 0 0,1 -6,0v-24.3h-4v24.3a3,3 0 0,1 -6,0v-41.4h-1.75v18.1a1.8,1.8 0 0,1 -3.6,0zM328.3,855.6m-6.1,0a5.1,5.1 0 1,1 10.2,0a5.1,5.1 0 1,1 -10.2,0zm4.4,4h1.4v5h-1.4zm-13.65,9a5.5,5.5 0 0,1 5.5,-5.5h15.7a5.5,5.5 0 0,1 5.5,5.5v19.9a1.8,1.8 0 0,1 -3.6,0v-18.1h-1.75v41.4a3,3 0 0,1 -6,0v-24.3h-4v24.3a3,3 0 0,1 -6,0v-41.4h-1.75v18.1a1.8,1.8 0 0,1 -3.6,0zM385.0,849.6m-6.1,0a5.1,5.1 0 1,1 10.2,0a5.1,5.1 0 1,1 -10.2,0zm4.4,4h1.4v5h-1.4zm-13.65,9a5.5,5.5 0 0,1 5.5,-5.5h15.7a5.5,5.5 0 0,1 5.5,5.5v19.9a1.8,1.8 0 0,1 -3.6,0v-18.1h-1.75v41.4a3,3 0 0,1 -6,0v-24.3h-4v24.3a3,3 0 0,1 -6,0v-41.4h-1.75v18.1a1.8,1.8 0 0,1 -3.6,0zM441.7,843.6m-6.1,0a5.1,5.1 0 1,1 10.2,0a5.1,5.1 0 1,1 -10.2,0zm4.4,4h1.4v5h-1.4zm-13.65,9a5.5,5.5 0 0,1 5.5,-5.5h15.7a5.5,5.5 0 0,1 5.5,5.5v19.9a1.8,1.8 0 0,1 -3.6,0v-18.1h-1.75v41.4a3,3 0 0,1 -6,0v-24.3h-4v24.3a3,3 0 0,1 -6,0v-41.4h-1.75v18.1a1.8,1.8 0 0,1 -3.6,0zM498.4,837.6m-6.1,0a5.1,5.1 0 1,1 10.2,0a5.1,5.1 0 1,1 -10.2,0zm4.4,4h1.4v5h-1.4zm-13.65,9a5.5,5.5 0 0,1 5.5,-5.5h15.7a5.5,5.5 0 0,1 5.5,5.5v19.9a1.8,1.8 0 0,1 -3.6,0v-18.1h-1.75v41.4a3,3 0 0,1 -6,0v-24.3h-4v24.3a3,3 0 0,1 -6,0v-41.4h-1.75v18.1a1.8,1.8 0 0,1 -3.6,0zM555.1,831.6m-6.1,0a5.1,5.1 0 1,1 10.2,0a5.1,5.1 0 1,1 -10.2,0zm4.4,4h1.4v5h-1.4zm-13.65,9a5.5,5.5 0 0,1 5.5,-5.5h15.7a5.5,5.5 0 0,1 5.5,5.5v19.9a1.8,1.8 0 0,1 -3.6,0v-18.1h-1.75v41.4a3,3 0 0,1 -6,0v-24.3h-4v24.3a3,3 0 0,1 -6,0v-41.4h-1.75v18.1a1.8,1.8 0 0,1 -3.6,0zM611.8,825.6m-6.1,0a5.1,5.1 0 1,1 10.2,0a5.1,5.1 0 1,1 -10.2,0zm4.4,4h1.4v5h-1.4zm-13.65,9a5.5,5.5 0 0,1 5.5,-5.5h15.7a5.5,5.5 0 0,1 5.5,5.5v19.9a1.8,1.8 0 0,1 -3.6,0v-18.1h-1.75v41.4a3,3 0 0,1 -6,0v-24.3h-4v24.3a3,3 0 0,1 -6,0v-41.4h-1.75v18.1a1.8,1.8 0 0,1 -3.6,0zM668.5,819.6m-6.1,0a5.1,5.1 0 1,1 10.2,0a5.1,5.1 0 1,1 -10.2,0zm4.4,4h1.4v5h-1.4zm-13.65,9a5.5,5.5 0 0,1 5.5,-5.5h15.7a5.5,5.5 0 0,1 5.5,5.5v19.9a1.8,1.8 0 0,1 -3.6,0v-18.1h-1.75v41.4a3,3 0 0,1 -6,0v-24.3h-4v24.3a3,3 0 0,1 -6,0v-41.4h-1.75v18.1a1.8,1.8 0 0,1 -3.6,0zM725.2,813.7m-6.1,0a5.1,5.1 0 1,1 10.2,0a5.1,5.1 0 1,1 -10.2,0zm4.4,4h1.4v5h-1.4zm-13.65,9a5.5,5.5 0 0,1 5.5,-5.5h15.7a5.5,5.5 0 0,1 5.5,5.5v19.9a1.8,1.8 0 0,1 -3.6,0v-18.1h-1.75v41.4a3,3 0 0,1 -6,0v-24.3h-4v24.3a3,3 0 0,1 -6,0v-41.4h-1.75v18.1a1.8,1.8 0 0,1 -3.6,0zM781.9,807.7m-6.1,0a5.1,5.1 0 1,1 10.2,0a5.1,5.1 0 1,1 -10.2,0zm4.4,4h1.4v5h-1.4zm-13.65,9a5.5,5.5 0 0,1 5.5,-5.5h15.7a5.5,5.5 0 0,1 5.5,5.5v19.9a1.8,1.8 0 0,1 -3.6,0v-18.1h-1.75v41.4a3,3 0 0,1 -6,0v-24.3h-4v24.3a3,3 0 0,1 -6,0v-41.4h-1.75v18.1a1.8,1.8 0 0,1 -3.6,0zM147.4,913.7m-6.1,0a5.1,5.1 0 1,1 10.2,0a5.1,5.1 0 1,1 -10.2,0zm4.4,4h1.4v5h-1.4zm-13.65,9a5.5,5.5 0 0,1 5.5,-5.5h15.7a5.5,5.5 0 0,1 5.5,5.5v19.9a1.8,1.8 0 0,1 -3.6,0v-18.1h-1.75v41.4a3,3 0 0,1 -6,0v-24.3h-4v24.3a3,3 0 0,1 -6,0v-41.4h-1.75v18.1a1.8,1.8 0 0,1 -3.6,0zM198.9,935.0m-6.1,0a5.1,5.1 0 1,1 10.2,0a5.1,5.1 0 1,1 -10.2,0zm4.4,4h1.4v5h-1.4zm-13.65,9a5.5,5.5 0 0,1 5.5,-5.5h15.7a5.5,5.5 0 0,1 5.5,5.5v19.9a1.8,1.8 0 0,1 -3.6,0v-18.1h-1.75v41.4a3,3 0 0,1 -6,0v-24.3h-4v24.3a3,3 0 0,1 -6,0v-41.4h-1.75v18.1a1.8,1.8 0 0,1 -3.6,0zM249.2,909.0m-6.1,0a5.1,5.1 0 1,1 10.2,0a5.1,5.1 0 1,1 -10.2,0zm4.4,4h1.4v5h-1.4zm-13.65,9a5.5,5.5 0 0,1 5.5,-5.5h15.7a5.5,5.5 0 0,1 5.5,5.5v19.9a1.8,1.8 0 0,1 -3.6,0v-18.1h-1.75v41.4a3,3 0 0,1 -6,0v-24.3h-4v24.3a3,3 0 0,1 -6,0v-41.4h-1.75v18.1a1.8,1.8 0 0,1 -3.6,0zM305.9,903.0m-6.1,0a5.1,5.1 0 1,1 10.2,0a5.1,5.1 0 1,1 -10.2,0zm4.4,4h1.4v5h-1.4zm-13.65,9a5.5,5.5 0 0,1 5.5,-5.5h15.7a5.5,5.5 0 0,1 5.5,5.5v19.9a1.8,1.8 0 0,1 -3.6,0v-18.1h-1.75v41.4a3,3 0 0,1 -6,0v-24.3h-4v24.3a3,3 0 0,1 -6,0v-41.4h-1.75v18.1a1.8,1.8 0 0,1 -3.6,0zM362.6,897.0m-6.1,0a5.1,5.1 0 1,1 10.2,0a5.1,5.1 0 1,1 -10.2,0zm4.4,4h1.4v5h-1.4zm-13.65,9a5.5,5.5 0 0,1 5.5,-5.5h15.7a5.5,5.5 0 0,1 5.5,5.5v19.9a1.8,1.8 0 0,1 -3.6,0v-18.1h-1.75v41.4a3,3 0 0,1 -6,0v-24.3h-4v24.3a3,3 0 0,1 -6,0v-41.4h-1.75v18.1a1.8,1.8 0 0,1 -3.6,0zM419.3,891.0m-6.1,0a5.1,5.1 0 1,1 10.2,0a5.1,5.1 0 1,1 -10.2,0zm4.4,4h1.4v5h-1.4zm-13.65,9a5.5,5.5 0 0,1 5.5,-5.5h15.7a5.5,5.5 0 0,1 5.5,5.5v19.9a1.8,1.8 0 0,1 -3.6,0v-18.1h-1.75v41.4a3,3 0 0,1 -6,0v-24.3h-4v24.3a3,3 0 0,1 -6,0v-41.4h-1.75v18.1a1.8,1.8 0 0,1 -3.6,0zM476.0,885.0m-6.1,0a5.1,5.1 0 1,1 10.2,0a5.1,5.1 0 1,1 -10.2,0zm4.4,4h1.4v5h-1.4zm-13.65,9a5.5,5.5 0 0,1 5.5,-5.5h15.7a5.5,5.5 0 0,1 5.5,5.5v19.9a1.8,1.8 0 0,1 -3.6,0v-18.1h-1.75v41.4a3,3 0 0,1 -6,0v-24.3h-4v24.3a3,3 0 0,1 -6,0v-41.4h-1.75v18.1a1.8,1.8 0 0,1 -3.6,0zM532.7,879.0m-6.1,0a5.1,5.1 0 1,1 10.2,0a5.1,5.1 0 1,1 -10.2,0zm4.4,4h1.4v5h-1.4zm-13.65,9a5.5,5.5 0 0,1 5.5,-5.5h15.7a5.5,5.5 0 0,1 5.5,5.5v19.9a1.8,1.8 0 0,1 -3.6,0v-18.1h-1.75v41.4a3,3 0 0,1 -6,0v-24.3h-4v24.3a3,3 0 0,1 -6,0v-41.4h-1.75v18.1a1.8,1.8 0 0,1 -3.6,0zM589.4,873.0m-6.1,0a5.1,5.1 0 1,1 10.2,0a5.1,5.1 0 1,1 -10.2,0zm4.4,4h1.4v5h-1.4zm-13.65,9a5.5,5.5 0 0,1 5.5,-5.5h15.7a5.5,5.5 0 0,1 5.5,5.5v19.9a1.8,1.8 0 0,1 -3.6,0v-18.1h-1.75v41.4a3,3 0 0,1 -6,0v-24.3h-4v24.3a3,3 0 0,1 -6,0v-41.4h-1.75v18.1a1.8,1.8 0 0,1 -3.6,0zM646.1,867.0m-6.1,0a5.1,5.1 0 1,1 10.2,0a5.1,5.1 0 1,1 -10.2,0zm4.4,4h1.4v5h-1.4zm-13.65,9a5.5,5.5 0 0,1 5.5,-5.5h15.7a5.5,5.5 0 0,1 5.5,5.5v19.9a1.8,1.8 0 0,1 -3.6,0v-18.1h-1.75v41.4a3,3 0 0,1 -6,0v-24.3h-4v24.3a3,3 0 0,1 -6,0v-41.4h-1.75v18.1a1.8,1.8 0 0,1 -3.6,0zM702.8,861.0m-6.1,0a5.1,5.1 0 1,1 10.2,0a5.1,5.1 0 1,1 -10.2,0zm4.4,4h1.4v5h-1.4zm-13.65,9a5.5,5.5 0 0,1 5.5,-5.5h15.7a5.5,5.5 0 0,1 5.5,5.5v19.9a1.8,1.8 0 0,1 -3.6,0v-18.1h-1.75v41.4a3,3 0 0,1 -6,0v-24.3h-4v24.3a3,3 0 0,1 -6,0v-41.4h-1.75v18.1a1.8,1.8 0 0,1 -3.6,0zM759.5,855.0m-6.1,0a5.1,5.1 0 1,1 10.2,0a5.1,5.1 0 1,1 -10.2,0zm4.4,4h1.4v5h-1.4zm-13.65,9a5.5,5.5 0 0,1 5.5,-5.5h15.7a5.5,5.5 0 0,1 5.5,5.5v19.9a1.8,1.8 0 0,1 -3.6,0v-18.1h-1.75v41.4a3,3 0 0,1 -6,0v-24.3h-4v24.3a3,3 0 0,1 -6,0v-41.4h-1.75v18.1a1.8,1.8 0 0,1 -3.6,0zM153.6,965.2m-6.1,0a5.1,5.1 0 1,1 10.2,0a5.1,5.1 0 1,1 -10.2,0zm4.4,4h1.4v5h-1.4zm-13.65,9a5.5,5.5 0 0,1 5.5,-5.5h15.7a5.5,5.5 0 0,1 5.5,5.5v19.9a1.8,1.8 0 0,1 -3.6,0v-18.1h-1.75v41.4a3,3 0 0,1 -6,0v-24.3h-4v24.3a3,3 0 0,1 -6,0v-41.4h-1.75v18.1a1.8,1.8 0 0,1 -3.6,0zM207.4,984.7m-6.1,0a5.1,5.1 0 1,1 10.2,0a5.1,5.1 0 1,1 -10.2,0zm4.4,4h1.4v5h-1.4zm-13.65,9a5.5,5.5 0 0,1 5.5,-5.5h15.7a5.5,5.5 0 0,1 5.5,5.5v19.9a1.8,1.8 0 0,1 -3.6,0v-18.1h-1.75v41.4a3,3 0 0,1 -6,0v-24.3h-4v24.3a3,3 0 0,1 -6,0v-41.4h-1.75v18.1a1.8,1.8 0 0,1 -3.6,0zM283.6,950.3m-6.1,0a5.1,5.1 0 1,1 10.2,0a5.1,5.1 0 1,1 -10.2,0zm4.4,4h1.4v5h-1.4zm-13.65,9a5.5,5.5 0 0,1 5.5,-5.5h15.7a5.5,5.5 0 0,1 5.5,5.5v19.9a1.8,1.8 0 0,1 -3.6,0v-18.1h-1.75v41.4a3,3 0 0,1 -6,0v-24.3h-4v24.3a3,3 0 0,1 -6,0v-41.4h-1.75v18.1a1.8,1.8 0 0,1 -3.6,0zM340.3,944.4m-6.1,0a5.1,5.1 0 1,1 10.2,0a5.1,5.1 0 1,1 -10.2,0zm4.4,4h1.4v5h-1.4zm-13.65,9a5.5,5.5 0 0,1 5.5,-5.5h15.7a5.5,5.5 0 0,1 5.5,5.5v19.9a1.8,1.8 0 0,1 -3.6,0v-18.1h-1.75v41.4a3,3 0 0,1 -6,0v-24.3h-4v24.3a3,3 0 0,1 -6,0v-41.4h-1.75v18.1a1.8,1.8 0 0,1 -3.6,0zM397.0,938.4m-6.1,0a5.1,5.1 0 1,1 10.2,0a5.1,5.1 0 1,1 -10.2,0zm4.4,4h1.4v5h-1.4zm-13.65,9a5.5,5.5 0 0,1 5.5,-5.5h15.7a5.5,5.5 0 0,1 5.5,5.5v19.9a1.8,1.8 0 0,1 -3.6,0v-18.1h-1.75v41.4a3,3 0 0,1 -6,0v-24.3h-4v24.3a3,3 0 0,1 -6,0v-41.4h-1.75v18.1a1.8,1.8 0 0,1 -3.6,0zM453.7,932.4m-6.1,0a5.1,5.1 0 1,1 10.2,0a5.1,5.1 0 1,1 -10.2,0zm4.4,4h1.4v5h-1.4zm-13.65,9a5.5,5.5 0 0,1 5.5,-5.5h15.7a5.5,5.5 0 0,1 5.5,5.5v19.9a1.8,1.8 0 0,1 -3.6,0v-18.1h-1.75v41.4a3,3 0 0,1 -6,0v-24.3h-4v24.3a3,3 0 0,1 -6,0v-41.4h-1.75v18.1a1.8,1.8 0 0,1 -3.6,0zM510.4,926.4m-6.1,0a5.1,5.1 0 1,1 10.2,0a5.1,5.1 0 1,1 -10.2,0zm4.4,4h1.4v5h-1.4zm-13.65,9a5.5,5.5 0 0,1 5.5,-5.5h15.7a5.5,5.5 0 0,1 5.5,5.5v19.9a1.8,1.8 0 0,1 -3.6,0v-18.1h-1.75v41.4a3,3 0 0,1 -6,0v-24.3h-4v24.3a3,3 0 0,1 -6,0v-41.4h-1.75v18.1a1.8,1.8 0 0,1 -3.6,0zM567.1,920.4m-6.1,0a5.1,5.1 0 1,1 10.2,0a5.1,5.1 0 1,1 -10.2,0zm4.4,4h1.4v5h-1.4zm-13.65,9a5.5,5.5 0 0,1 5.5,-5.5h15.7a5.5,5.5 0 0,1 5.5,5.5v19.9a1.8,1.8 0 0,1 -3.6,0v-18.1h-1.75v41.4a3,3 0 0,1 -6,0v-24.3h-4v24.3a3,3 0 0,1 -6,0v-41.4h-1.75v18.1a1.8,1.8 0 0,1 -3.6,0zM623.8,914.4m-6.1,0a5.1,5.1 0 1,1 10.2,0a5.1,5.1 0 1,1 -10.2,0zm4.4,4h1.4v5h-1.4zm-13.65,9a5.5,5.5 0 0,1 5.5,-5.5h15.7a5.5,5.5 0 0,1 5.5,5.5v19.9a1.8,1.8 0 0,1 -3.6,0v-18.1h-1.75v41.4a3,3 0 0,1 -6,0v-24.3h-4v24.3a3,3 0 0,1 -6,0v-41.4h-1.75v18.1a1.8,1.8 0 0,1 -3.6,0zM680.5,908.4m-6.1,0a5.1,5.1 0 1,1 10.2,0a5.1,5.1 0 1,1 -10.2,0zm4.4,4h1.4v5h-1.4zm-13.65,9a5.5,5.5 0 0,1 5.5,-5.5h15.7a5.5,5.5 0 0,1 5.5,5.5v19.9a1.8,1.8 0 0,1 -3.6,0v-18.1h-1.75v41.4a3,3 0 0,1 -6,0v-24.3h-4v24.3a3,3 0 0,1 -6,0v-41.4h-1.75v18.1a1.8,1.8 0 0,1 -3.6,0zM737.2,902.4m-6.1,0a5.1,5.1 0 1,1 10.2,0a5.1,5.1 0 1,1 -10.2,0zm4.4,4h1.4v5h-1.4zm-13.65,9a5.5,5.5 0 0,1 5.5,-5.5h15.7a5.5,5.5 0 0,1 5.5,5.5v19.9a1.8,1.8 0 0,1 -3.6,0v-18.1h-1.75v41.4a3,3 0 0,1 -6,0v-24.3h-4v24.3a3,3 0 0,1 -6,0v-41.4h-1.75v18.1a1.8,1.8 0 0,1 -3.6,0zM793.9,896.4m-6.1,0a5.1,5.1 0 1,1 10.2,0a5.1,5.1 0 1,1 -10.2,0zm4.4,4h1.4v5h-1.4zm-13.65,9a5.5,5.5 0 0,1 5.5,-5.5h15.7a5.5,5.5 0 0,1 5.5,5.5v19.9a1.8,1.8 0 0,1 -3.6,0v-18.1h-1.75v41.4a3,3 0 0,1 -6,0v-24.3h-4v24.3a3,3 0 0,1 -6,0v-41.4h-1.75v18.1a1.8,1.8 0 0,1 -3.6,0zM374.6,985.7m-6.1,0a5.1,5.1 0 1,1 10.2,0a5.1,5.1 0 1,1 -10.2,0zm4.4,4h1.4v5h-1.4zm-13.65,9a5.5,5.5 0 0,1 5.5,-5.5h15.7a5.5,5.5 0 0,1 5.5,5.5v19.9a1.8,1.8 0 0,1 -3.6,0v-18.1h-1.75v41.4a3,3 0 0,1 -6,0v-24.3h-4v24.3a3,3 0 0,1 -6,0v-41.4h-1.75v18.1a1.8,1.8 0 0,1 -3.6,0zM431.3,979.7m-6.1,0a5.1,5.1 0 1,1 10.2,0a5.1,5.1 0 1,1 -10.2,0zm4.4,4h1.4v5h-1.4zm-13.65,9a5.5,5.5 0 0,1 5.5,-5.5h15.7a5.5,5.5 0 0,1 5.5,5.5v19.9a1.8,1.8 0 0,1 -3.6,0v-18.1h-1.75v41.4a3,3 0 0,1 -6,0v-24.3h-4v24.3a3,3 0 0,1 -6,0v-41.4h-1.75v18.1a1.8,1.8 0 0,1 -3.6,0zM488.0,973.7m-6.1,0a5.1,5.1 0 1,1 10.2,0a5.1,5.1 0 1,1 -10.2,0zm4.4,4h1.4v5h-1.4zm-13.65,9a5.5,5.5 0 0,1 5.5,-5.5h15.7a5.5,5.5 0 0,1 5.5,5.5v19.9a1.8,1.8 0 0,1 -3.6,0v-18.1h-1.75v41.4a3,3 0 0,1 -6,0v-24.3h-4v24.3a3,3 0 0,1 -6,0v-41.4h-1.75v18.1a1.8,1.8 0 0,1 -3.6,0zM544.7,967.7m-6.1,0a5.1,5.1 0 1,1 10.2,0a5.1,5.1 0 1,1 -10.2,0zm4.4,4h1.4v5h-1.4zm-13.65,9a5.5,5.5 0 0,1 5.5,-5.5h15.7a5.5,5.5 0 0,1 5.5,5.5v19.9a1.8,1.8 0 0,1 -3.6,0v-18.1h-1.75v41.4a3,3 0 0,1 -6,0v-24.3h-4v24.3a3,3 0 0,1 -6,0v-41.4h-1.75v18.1a1.8,1.8 0 0,1 -3.6,0zM601.4,961.7m-6.1,0a5.1,5.1 0 1,1 10.2,0a5.1,5.1 0 1,1 -10.2,0zm4.4,4h1.4v5h-1.4zm-13.65,9a5.5,5.5 0 0,1 5.5,-5.5h15.7a5.5,5.5 0 0,1 5.5,5.5v19.9a1.8,1.8 0 0,1 -3.6,0v-18.1h-1.75v41.4a3,3 0 0,1 -6,0v-24.3h-4v24.3a3,3 0 0,1 -6,0v-41.4h-1.75v18.1a1.8,1.8 0 0,1 -3.6,0zM658.1,955.8m-6.1,0a5.1,5.1 0 1,1 10.2,0a5.1,5.1 0 1,1 -10.2,0zm4.4,4h1.4v5h-1.4zm-13.65,9a5.5,5.5 0 0,1 5.5,-5.5h15.7a5.5,5.5 0 0,1 5.5,5.5v19.9a1.8,1.8 0 0,1 -3.6,0v-18.1h-1.75v41.4a3,3 0 0,1 -6,0v-24.3h-4v24.3a3,3 0 0,1 -6,0v-41.4h-1.75v18.1a1.8,1.8 0 0,1 -3.6,0zM714.8,949.8m-6.1,0a5.1,5.1 0 1,1 10.2,0a5.1,5.1 0 1,1 -10.2,0zm4.4,4h1.4v5h-1.4zm-13.65,9a5.5,5.5 0 0,1 5.5,-5.5h15.7a5.5,5.5 0 0,1 5.5,5.5v19.9a1.8,1.8 0 0,1 -3.6,0v-18.1h-1.75v41.4a3,3 0 0,1 -6,0v-24.3h-4v24.3a3,3 0 0,1 -6,0v-41.4h-1.75v18.1a1.8,1.8 0 0,1 -3.6,0zM771.5,943.8m-6.1,0a5.1,5.1 0 1,1 10.2,0a5.1,5.1 0 1,1 -10.2,0zm4.4,4h1.4v5h-1.4zm-13.65,9a5.5,5.5 0 0,1 5.5,-5.5h15.7a5.5,5.5 0 0,1 5.5,5.5v19.9a1.8,1.8 0 0,1 -3.6,0v-18.1h-1.75v41.4a3,3 0 0,1 -6,0v-24.3h-4v24.3a3,3 0 0,1 -6,0v-41.4h-1.75v18.1a1.8,1.8 0 0,1 -3.6,0zM749.1,991.1m-6.1,0a5.1,5.1 0 1,1 10.2,0a5.1,5.1 0 1,1 -10.2,0zm4.4,4h1.4v5h-1.4zm-13.65,9a5.5,5.5 0 0,1 5.5,-5.5h15.7a5.5,5.5 0 0,1 5.5,5.5v19.9a1.8,1.8 0 0,1 -3.6,0v-18.1h-1.75v41.4a3,3 0 0,1 -6,0v-24.3h-4v24.3a3,3 0 0,1 -6,0v-41.4h-1.75v18.1a1.8,1.8 0 0,1 -3.6,0zM838.6,801.7m-6.1,0a5.1,5.1 0 1,1 10.2,0a5.1,5.1 0 1,1 -10.2,0zm4.4,4h1.4v5h-1.4zm-13.65,9a5.5,5.5 0 0,1 5.5,-5.5h15.7a5.5,5.5 0 0,1 5.5,5.5v19.9a1.8,1.8 0 0,1 -3.6,0v-18.1h-1.75v41.4a3,3 0 0,1 -6,0v-24.3h-4v24.3a3,3 0 0,1 -6,0v-41.4h-1.75v18.1a1.8,1.8 0 0,1 -3.6,0zM895.3,795.7m-6.1,0a5.1,5.1 0 1,1 10.2,0a5.1,5.1 0 1,1 -10.2,0zm4.4,4h1.4v5h-1.4zm-13.65,9a5.5,5.5 0 0,1 5.5,-5.5h15.7a5.5,5.5 0 0,1 5.5,5.5v19.9a1.8,1.8 0 0,1 -3.6,0v-18.1h-1.75v41.4a3,3 0 0,1 -6,0v-24.3h-4v24.3a3,3 0 0,1 -6,0v-41.4h-1.75v18.1a1.8,1.8 0 0,1 -3.6,0zM952.0,789.7m-6.1,0a5.1,5.1 0 1,1 10.2,0a5.1,5.1 0 1,1 -10.2,0zm4.4,4h1.4v5h-1.4zm-13.65,9a5.5,5.5 0 0,1 5.5,-5.5h15.7a5.5,5.5 0 0,1 5.5,5.5v19.9a1.8,1.8 0 0,1 -3.6,0v-18.1h-1.75v41.4a3,3 0 0,1 -6,0v-24.3h-4v24.3a3,3 0 0,1 -6,0v-41.4h-1.75v18.1a1.8,1.8 0 0,1 -3.6,0zM1008.7,783.7m-6.1,0a5.1,5.1 0 1,1 10.2,0a5.1,5.1 0 1,1 -10.2,0zm4.4,4h1.4v5h-1.4zm-13.65,9a5.5,5.5 0 0,1 5.5,-5.5h15.7a5.5,5.5 0 0,1 5.5,5.5v19.9a1.8,1.8 0 0,1 -3.6,0v-18.1h-1.75v41.4a3,3 0 0,1 -6,0v-24.3h-4v24.3a3,3 0 0,1 -6,0v-41.4h-1.75v18.1a1.8,1.8 0 0,1 -3.6,0zM1065.4,777.7m-6.1,0a5.1,5.1 0 1,1 10.2,0a5.1,5.1 0 1,1 -10.2,0zm4.4,4h1.4v5h-1.4zm-13.65,9a5.5,5.5 0 0,1 5.5,-5.5h15.7a5.5,5.5 0 0,1 5.5,5.5v19.9a1.8,1.8 0 0,1 -3.6,0v-18.1h-1.75v41.4a3,3 0 0,1 -6,0v-24.3h-4v24.3a3,3 0 0,1 -6,0v-41.4h-1.75v18.1a1.8,1.8 0 0,1 -3.6,0zM1122.1,771.7m-6.1,0a5.1,5.1 0 1,1 10.2,0a5.1,5.1 0 1,1 -10.2,0zm4.4,4h1.4v5h-1.4zm-13.65,9a5.5,5.5 0 0,1 5.5,-5.5h15.7a5.5,5.5 0 0,1 5.5,5.5v19.9a1.8,1.8 0 0,1 -3.6,0v-18.1h-1.75v41.4a3,3 0 0,1 -6,0v-24.3h-4v24.3a3,3 0 0,1 -6,0v-41.4h-1.75v18.1a1.8,1.8 0 0,1 -3.6,0zM1178.8,765.7m-6.1,0a5.1,5.1 0 1,1 10.2,0a5.1,5.1 0 1,1 -10.2,0zm4.4,4h1.4v5h-1.4zm-13.65,9a5.5,5.5 0 0,1 5.5,-5.5h15.7a5.5,5.5 0 0,1 5.5,5.5v19.9a1.8,1.8 0 0,1 -3.6,0v-18.1h-1.75v41.4a3,3 0 0,1 -6,0v-24.3h-4v24.3a3,3 0 0,1 -6,0v-41.4h-1.75v18.1a1.8,1.8 0 0,1 -3.6,0zM1429.7,783.6m-6.1,0a5.1,5.1 0 1,1 10.2,0a5.1,5.1 0 1,1 -10.2,0zm4.4,4h1.4v5h-1.4zm-13.65,9a5.5,5.5 0 0,1 5.5,-5.5h15.7a5.5,5.5 0 0,1 5.5,5.5v19.9a1.8,1.8 0 0,1 -3.6,0v-18.1h-1.75v41.4a3,3 0 0,1 -6,0v-24.3h-4v24.3a3,3 0 0,1 -6,0v-41.4h-1.75v18.1a1.8,1.8 0 0,1 -3.6,0zM816.2,849.0m-6.1,0a5.1,5.1 0 1,1 10.2,0a5.1,5.1 0 1,1 -10.2,0zm4.4,4h1.4v5h-1.4zm-13.65,9a5.5,5.5 0 0,1 5.5,-5.5h15.7a5.5,5.5 0 0,1 5.5,5.5v19.9a1.8,1.8 0 0,1 -3.6,0v-18.1h-1.75v41.4a3,3 0 0,1 -6,0v-24.3h-4v24.3a3,3 0 0,1 -6,0v-41.4h-1.75v18.1a1.8,1.8 0 0,1 -3.6,0zM872.9,843.0m-6.1,0a5.1,5.1 0 1,1 10.2,0a5.1,5.1 0 1,1 -10.2,0zm4.4,4h1.4v5h-1.4zm-13.65,9a5.5,5.5 0 0,1 5.5,-5.5h15.7a5.5,5.5 0 0,1 5.5,5.5v19.9a1.8,1.8 0 0,1 -3.6,0v-18.1h-1.75v41.4a3,3 0 0,1 -6,0v-24.3h-4v24.3a3,3 0 0,1 -6,0v-41.4h-1.75v18.1a1.8,1.8 0 0,1 -3.6,0zM929.6,837.0m-6.1,0a5.1,5.1 0 1,1 10.2,0a5.1,5.1 0 1,1 -10.2,0zm4.4,4h1.4v5h-1.4zm-13.65,9a5.5,5.5 0 0,1 5.5,-5.5h15.7a5.5,5.5 0 0,1 5.5,5.5v19.9a1.8,1.8 0 0,1 -3.6,0v-18.1h-1.75v41.4a3,3 0 0,1 -6,0v-24.3h-4v24.3a3,3 0 0,1 -6,0v-41.4h-1.75v18.1a1.8,1.8 0 0,1 -3.6,0zM986.3,831.0m-6.1,0a5.1,5.1 0 1,1 10.2,0a5.1,5.1 0 1,1 -10.2,0zm4.4,4h1.4v5h-1.4zm-13.65,9a5.5,5.5 0 0,1 5.5,-5.5h15.7a5.5,5.5 0 0,1 5.5,5.5v19.9a1.8,1.8 0 0,1 -3.6,0v-18.1h-1.75v41.4a3,3 0 0,1 -6,0v-24.3h-4v24.3a3,3 0 0,1 -6,0v-41.4h-1.75v18.1a1.8,1.8 0 0,1 -3.6,0zM1043.0,825.1m-6.1,0a5.1,5.1 0 1,1 10.2,0a5.1,5.1 0 1,1 -10.2,0zm4.4,4h1.4v5h-1.4zm-13.65,9a5.5,5.5 0 0,1 5.5,-5.5h15.7a5.5,5.5 0 0,1 5.5,5.5v19.9a1.8,1.8 0 0,1 -3.6,0v-18.1h-1.75v41.4a3,3 0 0,1 -6,0v-24.3h-4v24.3a3,3 0 0,1 -6,0v-41.4h-1.75v18.1a1.8,1.8 0 0,1 -3.6,0zM1099.7,819.1m-6.1,0a5.1,5.1 0 1,1 10.2,0a5.1,5.1 0 1,1 -10.2,0zm4.4,4h1.4v5h-1.4zm-13.65,9a5.5,5.5 0 0,1 5.5,-5.5h15.7a5.5,5.5 0 0,1 5.5,5.5v19.9a1.8,1.8 0 0,1 -3.6,0v-18.1h-1.75v41.4a3,3 0 0,1 -6,0v-24.3h-4v24.3a3,3 0 0,1 -6,0v-41.4h-1.75v18.1a1.8,1.8 0 0,1 -3.6,0zM1156.4,813.1m-6.1,0a5.1,5.1 0 1,1 10.2,0a5.1,5.1 0 1,1 -10.2,0zm4.4,4h1.4v5h-1.4zm-13.65,9a5.5,5.5 0 0,1 5.5,-5.5h15.7a5.5,5.5 0 0,1 5.5,5.5v19.9a1.8,1.8 0 0,1 -3.6,0v-18.1h-1.75v41.4a3,3 0 0,1 -6,0v-24.3h-4v24.3a3,3 0 0,1 -6,0v-41.4h-1.75v18.1a1.8,1.8 0 0,1 -3.6,0zM1213.1,807.1m-6.1,0a5.1,5.1 0 1,1 10.2,0a5.1,5.1 0 1,1 -10.2,0zm4.4,4h1.4v5h-1.4zm-13.65,9a5.5,5.5 0 0,1 5.5,-5.5h15.7a5.5,5.5 0 0,1 5.5,5.5v19.9a1.8,1.8 0 0,1 -3.6,0v-18.1h-1.75v41.4a3,3 0 0,1 -6,0v-24.3h-4v24.3a3,3 0 0,1 -6,0v-41.4h-1.75v18.1a1.8,1.8 0 0,1 -3.6,0zM1269.8,801.1m-6.1,0a5.1,5.1 0 1,1 10.2,0a5.1,5.1 0 1,1 -10.2,0zm4.4,4h1.4v5h-1.4zm-13.65,9a5.5,5.5 0 0,1 5.5,-5.5h15.7a5.5,5.5 0 0,1 5.5,5.5v19.9a1.8,1.8 0 0,1 -3.6,0v-18.1h-1.75v41.4a3,3 0 0,1 -6,0v-24.3h-4v24.3a3,3 0 0,1 -6,0v-41.4h-1.75v18.1a1.8,1.8 0 0,1 -3.6,0zM1326.5,795.1m-6.1,0a5.1,5.1 0 1,1 10.2,0a5.1,5.1 0 1,1 -10.2,0zm4.4,4h1.4v5h-1.4zm-13.65,9a5.5,5.5 0 0,1 5.5,-5.5h15.7a5.5,5.5 0 0,1 5.5,5.5v19.9a1.8,1.8 0 0,1 -3.6,0v-18.1h-1.75v41.4a3,3 0 0,1 -6,0v-24.3h-4v24.3a3,3 0 0,1 -6,0v-41.4h-1.75v18.1a1.8,1.8 0 0,1 -3.6,0zM1381.6,810.5m-6.1,0a5.1,5.1 0 1,1 10.2,0a5.1,5.1 0 1,1 -10.2,0zm4.4,4h1.4v5h-1.4zm-13.65,9a5.5,5.5 0 0,1 5.5,-5.5h15.7a5.5,5.5 0 0,1 5.5,5.5v19.9a1.8,1.8 0 0,1 -3.6,0v-18.1h-1.75v41.4a3,3 0 0,1 -6,0v-24.3h-4v24.3a3,3 0 0,1 -6,0v-41.4h-1.75v18.1a1.8,1.8 0 0,1 -3.6,0zM1439.9,834.5m-6.1,0a5.1,5.1 0 1,1 10.2,0a5.1,5.1 0 1,1 -10.2,0zm4.4,4h1.4v5h-1.4zm-13.65,9a5.5,5.5 0 0,1 5.5,-5.5h15.7a5.5,5.5 0 0,1 5.5,5.5v19.9a1.8,1.8 0 0,1 -3.6,0v-18.1h-1.75v41.4a3,3 0 0,1 -6,0v-24.3h-4v24.3a3,3 0 0,1 -6,0v-41.4h-1.75v18.1a1.8,1.8 0 0,1 -3.6,0zM850.6,890.4m-6.1,0a5.1,5.1 0 1,1 10.2,0a5.1,5.1 0 1,1 -10.2,0zm4.4,4h1.4v5h-1.4zm-13.65,9a5.5,5.5 0 0,1 5.5,-5.5h15.7a5.5,5.5 0 0,1 5.5,5.5v19.9a1.8,1.8 0 0,1 -3.6,0v-18.1h-1.75v41.4a3,3 0 0,1 -6,0v-24.3h-4v24.3a3,3 0 0,1 -6,0v-41.4h-1.75v18.1a1.8,1.8 0 0,1 -3.6,0zM907.3,884.4m-6.1,0a5.1,5.1 0 1,1 10.2,0a5.1,5.1 0 1,1 -10.2,0zm4.4,4h1.4v5h-1.4zm-13.65,9a5.5,5.5 0 0,1 5.5,-5.5h15.7a5.5,5.5 0 0,1 5.5,5.5v19.9a1.8,1.8 0 0,1 -3.6,0v-18.1h-1.75v41.4a3,3 0 0,1 -6,0v-24.3h-4v24.3a3,3 0 0,1 -6,0v-41.4h-1.75v18.1a1.8,1.8 0 0,1 -3.6,0zM964.0,878.4m-6.1,0a5.1,5.1 0 1,1 10.2,0a5.1,5.1 0 1,1 -10.2,0zm4.4,4h1.4v5h-1.4zm-13.65,9a5.5,5.5 0 0,1 5.5,-5.5h15.7a5.5,5.5 0 0,1 5.5,5.5v19.9a1.8,1.8 0 0,1 -3.6,0v-18.1h-1.75v41.4a3,3 0 0,1 -6,0v-24.3h-4v24.3a3,3 0 0,1 -6,0v-41.4h-1.75v18.1a1.8,1.8 0 0,1 -3.6,0zM1020.7,872.4m-6.1,0a5.1,5.1 0 1,1 10.2,0a5.1,5.1 0 1,1 -10.2,0zm4.4,4h1.4v5h-1.4zm-13.65,9a5.5,5.5 0 0,1 5.5,-5.5h15.7a5.5,5.5 0 0,1 5.5,5.5v19.9a1.8,1.8 0 0,1 -3.6,0v-18.1h-1.75v41.4a3,3 0 0,1 -6,0v-24.3h-4v24.3a3,3 0 0,1 -6,0v-41.4h-1.75v18.1a1.8,1.8 0 0,1 -3.6,0zM1077.4,866.4m-6.1,0a5.1,5.1 0 1,1 10.2,0a5.1,5.1 0 1,1 -10.2,0zm4.4,4h1.4v5h-1.4zm-13.65,9a5.5,5.5 0 0,1 5.5,-5.5h15.7a5.5,5.5 0 0,1 5.5,5.5v19.9a1.8,1.8 0 0,1 -3.6,0v-18.1h-1.75v41.4a3,3 0 0,1 -6,0v-24.3h-4v24.3a3,3 0 0,1 -6,0v-41.4h-1.75v18.1a1.8,1.8 0 0,1 -3.6,0zM1134.1,860.4m-6.1,0a5.1,5.1 0 1,1 10.2,0a5.1,5.1 0 1,1 -10.2,0zm4.4,4h1.4v5h-1.4zm-13.65,9a5.5,5.5 0 0,1 5.5,-5.5h15.7a5.5,5.5 0 0,1 5.5,5.5v19.9a1.8,1.8 0 0,1 -3.6,0v-18.1h-1.75v41.4a3,3 0 0,1 -6,0v-24.3h-4v24.3a3,3 0 0,1 -6,0v-41.4h-1.75v18.1a1.8,1.8 0 0,1 -3.6,0zM1190.8,854.4m-6.1,0a5.1,5.1 0 1,1 10.2,0a5.1,5.1 0 1,1 -10.2,0zm4.4,4h1.4v5h-1.4zm-13.65,9a5.5,5.5 0 0,1 5.5,-5.5h15.7a5.5,5.5 0 0,1 5.5,5.5v19.9a1.8,1.8 0 0,1 -3.6,0v-18.1h-1.75v41.4a3,3 0 0,1 -6,0v-24.3h-4v24.3a3,3 0 0,1 -6,0v-41.4h-1.75v18.1a1.8,1.8 0 0,1 -3.6,0zM1247.5,848.4m-6.1,0a5.1,5.1 0 1,1 10.2,0a5.1,5.1 0 1,1 -10.2,0zm4.4,4h1.4v5h-1.4zm-13.65,9a5.5,5.5 0 0,1 5.5,-5.5h15.7a5.5,5.5 0 0,1 5.5,5.5v19.9a1.8,1.8 0 0,1 -3.6,0v-18.1h-1.75v41.4a3,3 0 0,1 -6,0v-24.3h-4v24.3a3,3 0 0,1 -6,0v-41.4h-1.75v18.1a1.8,1.8 0 0,1 -3.6,0zM1307.5,844.4m-6.1,0a5.1,5.1 0 1,1 10.2,0a5.1,5.1 0 1,1 -10.2,0zm4.4,4h1.4v5h-1.4zm-13.65,9a5.5,5.5 0 0,1 5.5,-5.5h15.7a5.5,5.5 0 0,1 5.5,5.5v19.9a1.8,1.8 0 0,1 -3.6,0v-18.1h-1.75v41.4a3,3 0 0,1 -6,0v-24.3h-4v24.3a3,3 0 0,1 -6,0v-41.4h-1.75v18.1a1.8,1.8 0 0,1 -3.6,0zM1389.5,860.5m-6.1,0a5.1,5.1 0 1,1 10.2,0a5.1,5.1 0 1,1 -10.2,0zm4.4,4h1.4v5h-1.4zm-13.65,9a5.5,5.5 0 0,1 5.5,-5.5h15.7a5.5,5.5 0 0,1 5.5,5.5v19.9a1.8,1.8 0 0,1 -3.6,0v-18.1h-1.75v41.4a3,3 0 0,1 -6,0v-24.3h-4v24.3a3,3 0 0,1 -6,0v-41.4h-1.75v18.1a1.8,1.8 0 0,1 -3.6,0zM1441.9,885.4m-6.1,0a5.1,5.1 0 1,1 10.2,0a5.1,5.1 0 1,1 -10.2,0zm4.4,4h1.4v5h-1.4zm-13.65,9a5.5,5.5 0 0,1 5.5,-5.5h15.7a5.5,5.5 0 0,1 5.5,5.5v19.9a1.8,1.8 0 0,1 -3.6,0v-18.1h-1.75v41.4a3,3 0 0,1 -6,0v-24.3h-4v24.3a3,3 0 0,1 -6,0v-41.4h-1.75v18.1a1.8,1.8 0 0,1 -3.6,0zM828.2,937.8m-6.1,0a5.1,5.1 0 1,1 10.2,0a5.1,5.1 0 1,1 -10.2,0zm4.4,4h1.4v5h-1.4zm-13.65,9a5.5,5.5 0 0,1 5.5,-5.5h15.7a5.5,5.5 0 0,1 5.5,5.5v19.9a1.8,1.8 0 0,1 -3.6,0v-18.1h-1.75v41.4a3,3 0 0,1 -6,0v-24.3h-4v24.3a3,3 0 0,1 -6,0v-41.4h-1.75v18.1a1.8,1.8 0 0,1 -3.6,0zM884.9,931.8m-6.1,0a5.1,5.1 0 1,1 10.2,0a5.1,5.1 0 1,1 -10.2,0zm4.4,4h1.4v5h-1.4zm-13.65,9a5.5,5.5 0 0,1 5.5,-5.5h15.7a5.5,5.5 0 0,1 5.5,5.5v19.9a1.8,1.8 0 0,1 -3.6,0v-18.1h-1.75v41.4a3,3 0 0,1 -6,0v-24.3h-4v24.3a3,3 0 0,1 -6,0v-41.4h-1.75v18.1a1.8,1.8 0 0,1 -3.6,0zM941.6,925.8m-6.1,0a5.1,5.1 0 1,1 10.2,0a5.1,5.1 0 1,1 -10.2,0zm4.4,4h1.4v5h-1.4zm-13.65,9a5.5,5.5 0 0,1 5.5,-5.5h15.7a5.5,5.5 0 0,1 5.5,5.5v19.9a1.8,1.8 0 0,1 -3.6,0v-18.1h-1.75v41.4a3,3 0 0,1 -6,0v-24.3h-4v24.3a3,3 0 0,1 -6,0v-41.4h-1.75v18.1a1.8,1.8 0 0,1 -3.6,0zM998.3,919.8m-6.1,0a5.1,5.1 0 1,1 10.2,0a5.1,5.1 0 1,1 -10.2,0zm4.4,4h1.4v5h-1.4zm-13.65,9a5.5,5.5 0 0,1 5.5,-5.5h15.7a5.5,5.5 0 0,1 5.5,5.5v19.9a1.8,1.8 0 0,1 -3.6,0v-18.1h-1.75v41.4a3,3 0 0,1 -6,0v-24.3h-4v24.3a3,3 0 0,1 -6,0v-41.4h-1.75v18.1a1.8,1.8 0 0,1 -3.6,0zM1055.0,913.8m-6.1,0a5.1,5.1 0 1,1 10.2,0a5.1,5.1 0 1,1 -10.2,0zm4.4,4h1.4v5h-1.4zm-13.65,9a5.5,5.5 0 0,1 5.5,-5.5h15.7a5.5,5.5 0 0,1 5.5,5.5v19.9a1.8,1.8 0 0,1 -3.6,0v-18.1h-1.75v41.4a3,3 0 0,1 -6,0v-24.3h-4v24.3a3,3 0 0,1 -6,0v-41.4h-1.75v18.1a1.8,1.8 0 0,1 -3.6,0zM1111.7,907.8m-6.1,0a5.1,5.1 0 1,1 10.2,0a5.1,5.1 0 1,1 -10.2,0zm4.4,4h1.4v5h-1.4zm-13.65,9a5.5,5.5 0 0,1 5.5,-5.5h15.7a5.5,5.5 0 0,1 5.5,5.5v19.9a1.8,1.8 0 0,1 -3.6,0v-18.1h-1.75v41.4a3,3 0 0,1 -6,0v-24.3h-4v24.3a3,3 0 0,1 -6,0v-41.4h-1.75v18.1a1.8,1.8 0 0,1 -3.6,0zM1168.4,901.8m-6.1,0a5.1,5.1 0 1,1 10.2,0a5.1,5.1 0 1,1 -10.2,0zm4.4,4h1.4v5h-1.4zm-13.65,9a5.5,5.5 0 0,1 5.5,-5.5h15.7a5.5,5.5 0 0,1 5.5,5.5v19.9a1.8,1.8 0 0,1 -3.6,0v-18.1h-1.75v41.4a3,3 0 0,1 -6,0v-24.3h-4v24.3a3,3 0 0,1 -6,0v-41.4h-1.75v18.1a1.8,1.8 0 0,1 -3.6,0zM1225.1,895.8m-6.1,0a5.1,5.1 0 1,1 10.2,0a5.1,5.1 0 1,1 -10.2,0zm4.4,4h1.4v5h-1.4zm-13.65,9a5.5,5.5 0 0,1 5.5,-5.5h15.7a5.5,5.5 0 0,1 5.5,5.5v19.9a1.8,1.8 0 0,1 -3.6,0v-18.1h-1.75v41.4a3,3 0 0,1 -6,0v-24.3h-4v24.3a3,3 0 0,1 -6,0v-41.4h-1.75v18.1a1.8,1.8 0 0,1 -3.6,0zM1281.8,889.8m-6.1,0a5.1,5.1 0 1,1 10.2,0a5.1,5.1 0 1,1 -10.2,0zm4.4,4h1.4v5h-1.4zm-13.65,9a5.5,5.5 0 0,1 5.5,-5.5h15.7a5.5,5.5 0 0,1 5.5,5.5v19.9a1.8,1.8 0 0,1 -3.6,0v-18.1h-1.75v41.4a3,3 0 0,1 -6,0v-24.3h-4v24.3a3,3 0 0,1 -6,0v-41.4h-1.75v18.1a1.8,1.8 0 0,1 -3.6,0zM1338.5,883.8m-6.1,0a5.1,5.1 0 1,1 10.2,0a5.1,5.1 0 1,1 -10.2,0zm4.4,4h1.4v5h-1.4zm-13.65,9a5.5,5.5 0 0,1 5.5,-5.5h15.7a5.5,5.5 0 0,1 5.5,5.5v19.9a1.8,1.8 0 0,1 -3.6,0v-18.1h-1.75v41.4a3,3 0 0,1 -6,0v-24.3h-4v24.3a3,3 0 0,1 -6,0v-41.4h-1.75v18.1a1.8,1.8 0 0,1 -3.6,0zM1390.9,912.3m-6.1,0a5.1,5.1 0 1,1 10.2,0a5.1,5.1 0 1,1 -10.2,0zm4.4,4h1.4v5h-1.4zm-13.65,9a5.5,5.5 0 0,1 5.5,-5.5h15.7a5.5,5.5 0 0,1 5.5,5.5v19.9a1.8,1.8 0 0,1 -3.6,0v-18.1h-1.75v41.4a3,3 0 0,1 -6,0v-24.3h-4v24.3a3,3 0 0,1 -6,0v-41.4h-1.75v18.1a1.8,1.8 0 0,1 -3.6,0zM1441.9,937.9m-6.1,0a5.1,5.1 0 1,1 10.2,0a5.1,5.1 0 1,1 -10.2,0zm4.4,4h1.4v5h-1.4zm-13.65,9a5.5,5.5 0 0,1 5.5,-5.5h15.7a5.5,5.5 0 0,1 5.5,5.5v19.9a1.8,1.8 0 0,1 -3.6,0v-18.1h-1.75v41.4a3,3 0 0,1 -6,0v-24.3h-4v24.3a3,3 0 0,1 -6,0v-41.4h-1.75v18.1a1.8,1.8 0 0,1 -3.6,0zM805.8,985.1m-6.1,0a5.1,5.1 0 1,1 10.2,0a5.1,5.1 0 1,1 -10.2,0zm4.4,4h1.4v5h-1.4zm-13.65,9a5.5,5.5 0 0,1 5.5,-5.5h15.7a5.5,5.5 0 0,1 5.5,5.5v19.9a1.8,1.8 0 0,1 -3.6,0v-18.1h-1.75v41.4a3,3 0 0,1 -6,0v-24.3h-4v24.3a3,3 0 0,1 -6,0v-41.4h-1.75v18.1a1.8,1.8 0 0,1 -3.6,0zM862.5,979.1m-6.1,0a5.1,5.1 0 1,1 10.2,0a5.1,5.1 0 1,1 -10.2,0zm4.4,4h1.4v5h-1.4zm-13.65,9a5.5,5.5 0 0,1 5.5,-5.5h15.7a5.5,5.5 0 0,1 5.5,5.5v19.9a1.8,1.8 0 0,1 -3.6,0v-18.1h-1.75v41.4a3,3 0 0,1 -6,0v-24.3h-4v24.3a3,3 0 0,1 -6,0v-41.4h-1.75v18.1a1.8,1.8 0 0,1 -3.6,0zM919.2,973.2m-6.1,0a5.1,5.1 0 1,1 10.2,0a5.1,5.1 0 1,1 -10.2,0zm4.4,4h1.4v5h-1.4zm-13.65,9a5.5,5.5 0 0,1 5.5,-5.5h15.7a5.5,5.5 0 0,1 5.5,5.5v19.9a1.8,1.8 0 0,1 -3.6,0v-18.1h-1.75v41.4a3,3 0 0,1 -6,0v-24.3h-4v24.3a3,3 0 0,1 -6,0v-41.4h-1.75v18.1a1.8,1.8 0 0,1 -3.6,0zM975.9,967.2m-6.1,0a5.1,5.1 0 1,1 10.2,0a5.1,5.1 0 1,1 -10.2,0zm4.4,4h1.4v5h-1.4zm-13.65,9a5.5,5.5 0 0,1 5.5,-5.5h15.7a5.5,5.5 0 0,1 5.5,5.5v19.9a1.8,1.8 0 0,1 -3.6,0v-18.1h-1.75v41.4a3,3 0 0,1 -6,0v-24.3h-4v24.3a3,3 0 0,1 -6,0v-41.4h-1.75v18.1a1.8,1.8 0 0,1 -3.6,0zM1032.6,961.2m-6.1,0a5.1,5.1 0 1,1 10.2,0a5.1,5.1 0 1,1 -10.2,0zm4.4,4h1.4v5h-1.4zm-13.65,9a5.5,5.5 0 0,1 5.5,-5.5h15.7a5.5,5.5 0 0,1 5.5,5.5v19.9a1.8,1.8 0 0,1 -3.6,0v-18.1h-1.75v41.4a3,3 0 0,1 -6,0v-24.3h-4v24.3a3,3 0 0,1 -6,0v-41.4h-1.75v18.1a1.8,1.8 0 0,1 -3.6,0zM1089.3,955.2m-6.1,0a5.1,5.1 0 1,1 10.2,0a5.1,5.1 0 1,1 -10.2,0zm4.4,4h1.4v5h-1.4zm-13.65,9a5.5,5.5 0 0,1 5.5,-5.5h15.7a5.5,5.5 0 0,1 5.5,5.5v19.9a1.8,1.8 0 0,1 -3.6,0v-18.1h-1.75v41.4a3,3 0 0,1 -6,0v-24.3h-4v24.3a3,3 0 0,1 -6,0v-41.4h-1.75v18.1a1.8,1.8 0 0,1 -3.6,0zM1146.0,949.2m-6.1,0a5.1,5.1 0 1,1 10.2,0a5.1,5.1 0 1,1 -10.2,0zm4.4,4h1.4v5h-1.4zm-13.65,9a5.5,5.5 0 0,1 5.5,-5.5h15.7a5.5,5.5 0 0,1 5.5,5.5v19.9a1.8,1.8 0 0,1 -3.6,0v-18.1h-1.75v41.4a3,3 0 0,1 -6,0v-24.3h-4v24.3a3,3 0 0,1 -6,0v-41.4h-1.75v18.1a1.8,1.8 0 0,1 -3.6,0zM1202.7,943.2m-6.1,0a5.1,5.1 0 1,1 10.2,0a5.1,5.1 0 1,1 -10.2,0zm4.4,4h1.4v5h-1.4zm-13.65,9a5.5,5.5 0 0,1 5.5,-5.5h15.7a5.5,5.5 0 0,1 5.5,5.5v19.9a1.8,1.8 0 0,1 -3.6,0v-18.1h-1.75v41.4a3,3 0 0,1 -6,0v-24.3h-4v24.3a3,3 0 0,1 -6,0v-41.4h-1.75v18.1a1.8,1.8 0 0,1 -3.6,0zM1259.4,937.2m-6.1,0a5.1,5.1 0 1,1 10.2,0a5.1,5.1 0 1,1 -10.2,0zm4.4,4h1.4v5h-1.4zm-13.65,9a5.5,5.5 0 0,1 5.5,-5.5h15.7a5.5,5.5 0 0,1 5.5,5.5v19.9a1.8,1.8 0 0,1 -3.6,0v-18.1h-1.75v41.4a3,3 0 0,1 -6,0v-24.3h-4v24.3a3,3 0 0,1 -6,0v-41.4h-1.75v18.1a1.8,1.8 0 0,1 -3.6,0zM1323.9,934.8m-6.1,0a5.1,5.1 0 1,1 10.2,0a5.1,5.1 0 1,1 -10.2,0zm4.4,4h1.4v5h-1.4zm-13.65,9a5.5,5.5 0 0,1 5.5,-5.5h15.7a5.5,5.5 0 0,1 5.5,5.5v19.9a1.8,1.8 0 0,1 -3.6,0v-18.1h-1.75v41.4a3,3 0 0,1 -6,0v-24.3h-4v24.3a3,3 0 0,1 -6,0v-41.4h-1.75v18.1a1.8,1.8 0 0,1 -3.6,0zM1374.0,962.4m-6.1,0a5.1,5.1 0 1,1 10.2,0a5.1,5.1 0 1,1 -10.2,0zm4.4,4h1.4v5h-1.4zm-13.65,9a5.5,5.5 0 0,1 5.5,-5.5h15.7a5.5,5.5 0 0,1 5.5,5.5v19.9a1.8,1.8 0 0,1 -3.6,0v-18.1h-1.75v41.4a3,3 0 0,1 -6,0v-24.3h-4v24.3a3,3 0 0,1 -6,0v-41.4h-1.75v18.1a1.8,1.8 0 0,1 -3.6,0zM1434.8,988.8m-6.1,0a5.1,5.1 0 1,1 10.2,0a5.1,5.1 0 1,1 -10.2,0zm4.4,4h1.4v5h-1.4zm-13.65,9a5.5,5.5 0 0,1 5.5,-5.5h15.7a5.5,5.5 0 0,1 5.5,5.5v19.9a1.8,1.8 0 0,1 -3.6,0v-18.1h-1.75v41.4a3,3 0 0,1 -6,0v-24.3h-4v24.3a3,3 0 0,1 -6,0v-41.4h-1.75v18.1a1.8,1.8 0 0,1 -3.6,0zM1237.0,984.6m-6.1,0a5.1,5.1 0 1,1 10.2,0a5.1,5.1 0 1,1 -10.2,0zm4.4,4h1.4v5h-1.4zm-13.65,9a5.5,5.5 0 0,1 5.5,-5.5h15.7a5.5,5.5 0 0,1 5.5,5.5v19.9a1.8,1.8 0 0,1 -3.6,0v-18.1h-1.75v41.4a3,3 0 0,1 -6,0v-24.3h-4v24.3a3,3 0 0,1 -6,0v-41.4h-1.75v18.1a1.8,1.8 0 0,1 -3.6,0zM1293.7,978.6m-6.1,0a5.1,5.1 0 1,1 10.2,0a5.1,5.1 0 1,1 -10.2,0zm4.4,4h1.4v5h-1.4zm-13.65,9a5.5,5.5 0 0,1 5.5,-5.5h15.7a5.5,5.5 0 0,1 5.5,5.5v19.9a1.8,1.8 0 0,1 -3.6,0v-18.1h-1.75v41.4a3,3 0 0,1 -6,0v-24.3h-4v24.3a3,3 0 0,1 -6,0v-41.4h-1.75v18.1a1.8,1.8 0 0,1 -3.6,0zM261.2,997.7m-6.1,0a5.1,5.1 0 1,1 10.2,0a5.1,5.1 0 1,1 -10.2,0zm4.4,4h1.4v5h-1.4zm-13.65,9a5.5,5.5 0 0,1 5.5,-5.5h15.7a5.5,5.5 0 0,1 5.5,5.5v19.9a1.8,1.8 0 0,1 -3.6,0v-18.1h-1.75v41.4a3,3 0 0,1 -6,0v-24.3h-4v24.3a3,3 0 0,1 -6,0v-41.4h-1.75v18.1a1.8,1.8 0 0,1 -3.6,0zM317.9,991.7m-6.1,0a5.1,5.1 0 1,1 10.2,0a5.1,5.1 0 1,1 -10.2,0zm4.4,4h1.4v5h-1.4zm-13.65,9a5.5,5.5 0 0,1 5.5,-5.5h15.7a5.5,5.5 0 0,1 5.5,5.5v19.9a1.8,1.8 0 0,1 -3.6,0v-18.1h-1.75v41.4a3,3 0 0,1 -6,0v-24.3h-4v24.3a3,3 0 0,1 -6,0v-41.4h-1.75v18.1a1.8,1.8 0 0,1 -3.6,0zM161.6,1016.7m-6.1,0a5.1,5.1 0 1,1 10.2,0a5.1,5.1 0 1,1 -10.2,0zm4.4,4h1.4v5h-1.4zm-13.65,9a5.5,5.5 0 0,1 5.5,-5.5h15.7a5.5,5.5 0 0,1 5.5,5.5v19.9a1.8,1.8 0 0,1 -3.6,0v-18.1h-1.75v41.4a3,3 0 0,1 -6,0v-24.3h-4v24.3a3,3 0 0,1 -6,0v-41.4h-1.75v18.1a1.8,1.8 0 0,1 -3.6,0zM177.7,1066.7m-6.1,0a5.1,5.1 0 1,1 10.2,0a5.1,5.1 0 1,1 -10.2,0zm4.4,4h1.4v5h-1.4zm-13.65,9a5.5,5.5 0 0,1 5.5,-5.5h15.7a5.5,5.5 0 0,1 5.5,5.5v19.9a1.8,1.8 0 0,1 -3.6,0v-18.1h-1.75v41.4a3,3 0 0,1 -6,0v-24.3h-4v24.3a3,3 0 0,1 -6,0v-41.4h-1.75v18.1a1.8,1.8 0 0,1 -3.6,0zM222.1,1035.0m-6.1,0a5.1,5.1 0 1,1 10.2,0a5.1,5.1 0 1,1 -10.2,0zm4.4,4h1.4v5h-1.4zm-13.65,9a5.5,5.5 0 0,1 5.5,-5.5h15.7a5.5,5.5 0 0,1 5.5,5.5v19.9a1.8,1.8 0 0,1 -3.6,0v-18.1h-1.75v41.4a3,3 0 0,1 -6,0v-24.3h-4v24.3a3,3 0 0,1 -6,0v-41.4h-1.75v18.1a1.8,1.8 0 0,1 -3.6,0zM252.1,1078.3m-6.1,0a5.1,5.1 0 1,1 10.2,0a5.1,5.1 0 1,1 -10.2,0zm4.4,4h1.4v5h-1.4zm-13.65,9a5.5,5.5 0 0,1 5.5,-5.5h15.7a5.5,5.5 0 0,1 5.5,5.5v19.9a1.8,1.8 0 0,1 -3.6,0v-18.1h-1.75v41.4a3,3 0 0,1 -6,0v-24.3h-4v24.3a3,3 0 0,1 -6,0v-41.4h-1.75v18.1a1.8,1.8 0 0,1 -3.6,0zM292.3,1042.7m-6.1,0a5.1,5.1 0 1,1 10.2,0a5.1,5.1 0 1,1 -10.2,0zm4.4,4h1.4v5h-1.4zm-13.65,9a5.5,5.5 0 0,1 5.5,-5.5h15.7a5.5,5.5 0 0,1 5.5,5.5v19.9a1.8,1.8 0 0,1 -3.6,0v-18.1h-1.75v41.4a3,3 0 0,1 -6,0v-24.3h-4v24.3a3,3 0 0,1 -6,0v-41.4h-1.75v18.1a1.8,1.8 0 0,1 -3.6,0zM352.2,1033.1m-6.1,0a5.1,5.1 0 1,1 10.2,0a5.1,5.1 0 1,1 -10.2,0zm4.4,4h1.4v5h-1.4zm-13.65,9a5.5,5.5 0 0,1 5.5,-5.5h15.7a5.5,5.5 0 0,1 5.5,5.5v19.9a1.8,1.8 0 0,1 -3.6,0v-18.1h-1.75v41.4a3,3 0 0,1 -6,0v-24.3h-4v24.3a3,3 0 0,1 -6,0v-41.4h-1.75v18.1a1.8,1.8 0 0,1 -3.6,0zM408.9,1027.1m-6.1,0a5.1,5.1 0 1,1 10.2,0a5.1,5.1 0 1,1 -10.2,0zm4.4,4h1.4v5h-1.4zm-13.65,9a5.5,5.5 0 0,1 5.5,-5.5h15.7a5.5,5.5 0 0,1 5.5,5.5v19.9a1.8,1.8 0 0,1 -3.6,0v-18.1h-1.75v41.4a3,3 0 0,1 -6,0v-24.3h-4v24.3a3,3 0 0,1 -6,0v-41.4h-1.75v18.1a1.8,1.8 0 0,1 -3.6,0zM465.6,1021.1m-6.1,0a5.1,5.1 0 1,1 10.2,0a5.1,5.1 0 1,1 -10.2,0zm4.4,4h1.4v5h-1.4zm-13.65,9a5.5,5.5 0 0,1 5.5,-5.5h15.7a5.5,5.5 0 0,1 5.5,5.5v19.9a1.8,1.8 0 0,1 -3.6,0v-18.1h-1.75v41.4a3,3 0 0,1 -6,0v-24.3h-4v24.3a3,3 0 0,1 -6,0v-41.4h-1.75v18.1a1.8,1.8 0 0,1 -3.6,0zM522.3,1015.1m-6.1,0a5.1,5.1 0 1,1 10.2,0a5.1,5.1 0 1,1 -10.2,0zm4.4,4h1.4v5h-1.4zm-13.65,9a5.5,5.5 0 0,1 5.5,-5.5h15.7a5.5,5.5 0 0,1 5.5,5.5v19.9a1.8,1.8 0 0,1 -3.6,0v-18.1h-1.75v41.4a3,3 0 0,1 -6,0v-24.3h-4v24.3a3,3 0 0,1 -6,0v-41.4h-1.75v18.1a1.8,1.8 0 0,1 -3.6,0zM579.0,1009.1m-6.1,0a5.1,5.1 0 1,1 10.2,0a5.1,5.1 0 1,1 -10.2,0zm4.4,4h1.4v5h-1.4zm-13.65,9a5.5,5.5 0 0,1 5.5,-5.5h15.7a5.5,5.5 0 0,1 5.5,5.5v19.9a1.8,1.8 0 0,1 -3.6,0v-18.1h-1.75v41.4a3,3 0 0,1 -6,0v-24.3h-4v24.3a3,3 0 0,1 -6,0v-41.4h-1.75v18.1a1.8,1.8 0 0,1 -3.6,0zM635.7,1003.1m-6.1,0a5.1,5.1 0 1,1 10.2,0a5.1,5.1 0 1,1 -10.2,0zm4.4,4h1.4v5h-1.4zm-13.65,9a5.5,5.5 0 0,1 5.5,-5.5h15.7a5.5,5.5 0 0,1 5.5,5.5v19.9a1.8,1.8 0 0,1 -3.6,0v-18.1h-1.75v41.4a3,3 0 0,1 -6,0v-24.3h-4v24.3a3,3 0 0,1 -6,0v-41.4h-1.75v18.1a1.8,1.8 0 0,1 -3.6,0zM692.4,997.1m-6.1,0a5.1,5.1 0 1,1 10.2,0a5.1,5.1 0 1,1 -10.2,0zm4.4,4h1.4v5h-1.4zm-13.65,9a5.5,5.5 0 0,1 5.5,-5.5h15.7a5.5,5.5 0 0,1 5.5,5.5v19.9a1.8,1.8 0 0,1 -3.6,0v-18.1h-1.75v41.4a3,3 0 0,1 -6,0v-24.3h-4v24.3a3,3 0 0,1 -6,0v-41.4h-1.75v18.1a1.8,1.8 0 0,1 -3.6,0zM386.5,1074.5m-6.1,0a5.1,5.1 0 1,1 10.2,0a5.1,5.1 0 1,1 -10.2,0zm4.4,4h1.4v5h-1.4zm-13.65,9a5.5,5.5 0 0,1 5.5,-5.5h15.7a5.5,5.5 0 0,1 5.5,5.5v19.9a1.8,1.8 0 0,1 -3.6,0v-18.1h-1.75v41.4a3,3 0 0,1 -6,0v-24.3h-4v24.3a3,3 0 0,1 -6,0v-41.4h-1.75v18.1a1.8,1.8 0 0,1 -3.6,0zM443.2,1068.5m-6.1,0a5.1,5.1 0 1,1 10.2,0a5.1,5.1 0 1,1 -10.2,0zm4.4,4h1.4v5h-1.4zm-13.65,9a5.5,5.5 0 0,1 5.5,-5.5h15.7a5.5,5.5 0 0,1 5.5,5.5v19.9a1.8,1.8 0 0,1 -3.6,0v-18.1h-1.75v41.4a3,3 0 0,1 -6,0v-24.3h-4v24.3a3,3 0 0,1 -6,0v-41.4h-1.75v18.1a1.8,1.8 0 0,1 -3.6,0zM499.9,1062.5m-6.1,0a5.1,5.1 0 1,1 10.2,0a5.1,5.1 0 1,1 -10.2,0zm4.4,4h1.4v5h-1.4zm-13.65,9a5.5,5.5 0 0,1 5.5,-5.5h15.7a5.5,5.5 0 0,1 5.5,5.5v19.9a1.8,1.8 0 0,1 -3.6,0v-18.1h-1.75v41.4a3,3 0 0,1 -6,0v-24.3h-4v24.3a3,3 0 0,1 -6,0v-41.4h-1.75v18.1a1.8,1.8 0 0,1 -3.6,0zM556.6,1056.5m-6.1,0a5.1,5.1 0 1,1 10.2,0a5.1,5.1 0 1,1 -10.2,0zm4.4,4h1.4v5h-1.4zm-13.65,9a5.5,5.5 0 0,1 5.5,-5.5h15.7a5.5,5.5 0 0,1 5.5,5.5v19.9a1.8,1.8 0 0,1 -3.6,0v-18.1h-1.75v41.4a3,3 0 0,1 -6,0v-24.3h-4v24.3a3,3 0 0,1 -6,0v-41.4h-1.75v18.1a1.8,1.8 0 0,1 -3.6,0zM613.3,1050.5m-6.1,0a5.1,5.1 0 1,1 10.2,0a5.1,5.1 0 1,1 -10.2,0zm4.4,4h1.4v5h-1.4zm-13.65,9a5.5,5.5 0 0,1 5.5,-5.5h15.7a5.5,5.5 0 0,1 5.5,5.5v19.9a1.8,1.8 0 0,1 -3.6,0v-18.1h-1.75v41.4a3,3 0 0,1 -6,0v-24.3h-4v24.3a3,3 0 0,1 -6,0v-41.4h-1.75v18.1a1.8,1.8 0 0,1 -3.6,0zM670.0,1044.5m-6.1,0a5.1,5.1 0 1,1 10.2,0a5.1,5.1 0 1,1 -10.2,0zm4.4,4h1.4v5h-1.4zm-13.65,9a5.5,5.5 0 0,1 5.5,-5.5h15.7a5.5,5.5 0 0,1 5.5,5.5v19.9a1.8,1.8 0 0,1 -3.6,0v-18.1h-1.75v41.4a3,3 0 0,1 -6,0v-24.3h-4v24.3a3,3 0 0,1 -6,0v-41.4h-1.75v18.1a1.8,1.8 0 0,1 -3.6,0zM726.7,1038.5m-6.1,0a5.1,5.1 0 1,1 10.2,0a5.1,5.1 0 1,1 -10.2,0zm4.4,4h1.4v5h-1.4zm-13.65,9a5.5,5.5 0 0,1 5.5,-5.5h15.7a5.5,5.5 0 0,1 5.5,5.5v19.9a1.8,1.8 0 0,1 -3.6,0v-18.1h-1.75v41.4a3,3 0 0,1 -6,0v-24.3h-4v24.3a3,3 0 0,1 -6,0v-41.4h-1.75v18.1a1.8,1.8 0 0,1 -3.6,0zM783.4,1032.5m-6.1,0a5.1,5.1 0 1,1 10.2,0a5.1,5.1 0 1,1 -10.2,0zm4.4,4h1.4v5h-1.4zm-13.65,9a5.5,5.5 0 0,1 5.5,-5.5h15.7a5.5,5.5 0 0,1 5.5,5.5v19.9a1.8,1.8 0 0,1 -3.6,0v-18.1h-1.75v41.4a3,3 0 0,1 -6,0v-24.3h-4v24.3a3,3 0 0,1 -6,0v-41.4h-1.75v18.1a1.8,1.8 0 0,1 -3.6,0zM761.0,1079.9m-6.1,0a5.1,5.1 0 1,1 10.2,0a5.1,5.1 0 1,1 -10.2,0zm4.4,4h1.4v5h-1.4zm-13.65,9a5.5,5.5 0 0,1 5.5,-5.5h15.7a5.5,5.5 0 0,1 5.5,5.5v19.9a1.8,1.8 0 0,1 -3.6,0v-18.1h-1.75v41.4a3,3 0 0,1 -6,0v-24.3h-4v24.3a3,3 0 0,1 -6,0v-41.4h-1.75v18.1a1.8,1.8 0 0,1 -3.6,0zM840.1,1026.5m-6.1,0a5.1,5.1 0 1,1 10.2,0a5.1,5.1 0 1,1 -10.2,0zm4.4,4h1.4v5h-1.4zm-13.65,9a5.5,5.5 0 0,1 5.5,-5.5h15.7a5.5,5.5 0 0,1 5.5,5.5v19.9a1.8,1.8 0 0,1 -3.6,0v-18.1h-1.75v41.4a3,3 0 0,1 -6,0v-24.3h-4v24.3a3,3 0 0,1 -6,0v-41.4h-1.75v18.1a1.8,1.8 0 0,1 -3.6,0zM896.8,1020.5m-6.1,0a5.1,5.1 0 1,1 10.2,0a5.1,5.1 0 1,1 -10.2,0zm4.4,4h1.4v5h-1.4zm-13.65,9a5.5,5.5 0 0,1 5.5,-5.5h15.7a5.5,5.5 0 0,1 5.5,5.5v19.9a1.8,1.8 0 0,1 -3.6,0v-18.1h-1.75v41.4a3,3 0 0,1 -6,0v-24.3h-4v24.3a3,3 0 0,1 -6,0v-41.4h-1.75v18.1a1.8,1.8 0 0,1 -3.6,0zM953.5,1014.5m-6.1,0a5.1,5.1 0 1,1 10.2,0a5.1,5.1 0 1,1 -10.2,0zm4.4,4h1.4v5h-1.4zm-13.65,9a5.5,5.5 0 0,1 5.5,-5.5h15.7a5.5,5.5 0 0,1 5.5,5.5v19.9a1.8,1.8 0 0,1 -3.6,0v-18.1h-1.75v41.4a3,3 0 0,1 -6,0v-24.3h-4v24.3a3,3 0 0,1 -6,0v-41.4h-1.75v18.1a1.8,1.8 0 0,1 -3.6,0zM1010.2,1008.5m-6.1,0a5.1,5.1 0 1,1 10.2,0a5.1,5.1 0 1,1 -10.2,0zm4.4,4h1.4v5h-1.4zm-13.65,9a5.5,5.5 0 0,1 5.5,-5.5h15.7a5.5,5.5 0 0,1 5.5,5.5v19.9a1.8,1.8 0 0,1 -3.6,0v-18.1h-1.75v41.4a3,3 0 0,1 -6,0v-24.3h-4v24.3a3,3 0 0,1 -6,0v-41.4h-1.75v18.1a1.8,1.8 0 0,1 -3.6,0zM1066.9,1002.5m-6.1,0a5.1,5.1 0 1,1 10.2,0a5.1,5.1 0 1,1 -10.2,0zm4.4,4h1.4v5h-1.4zm-13.65,9a5.5,5.5 0 0,1 5.5,-5.5h15.7a5.5,5.5 0 0,1 5.5,5.5v19.9a1.8,1.8 0 0,1 -3.6,0v-18.1h-1.75v41.4a3,3 0 0,1 -6,0v-24.3h-4v24.3a3,3 0 0,1 -6,0v-41.4h-1.75v18.1a1.8,1.8 0 0,1 -3.6,0zM1123.6,996.5m-6.1,0a5.1,5.1 0 1,1 10.2,0a5.1,5.1 0 1,1 -10.2,0zm4.4,4h1.4v5h-1.4zm-13.65,9a5.5,5.5 0 0,1 5.5,-5.5h15.7a5.5,5.5 0 0,1 5.5,5.5v19.9a1.8,1.8 0 0,1 -3.6,0v-18.1h-1.75v41.4a3,3 0 0,1 -6,0v-24.3h-4v24.3a3,3 0 0,1 -6,0v-41.4h-1.75v18.1a1.8,1.8 0 0,1 -3.6,0zM1180.3,990.5m-6.1,0a5.1,5.1 0 1,1 10.2,0a5.1,5.1 0 1,1 -10.2,0zm4.4,4h1.4v5h-1.4zm-13.65,9a5.5,5.5 0 0,1 5.5,-5.5h15.7a5.5,5.5 0 0,1 5.5,5.5v19.9a1.8,1.8 0 0,1 -3.6,0v-18.1h-1.75v41.4a3,3 0 0,1 -6,0v-24.3h-4v24.3a3,3 0 0,1 -6,0v-41.4h-1.75v18.1a1.8,1.8 0 0,1 -3.6,0zM817.7,1073.9m-6.1,0a5.1,5.1 0 1,1 10.2,0a5.1,5.1 0 1,1 -10.2,0zm4.4,4h1.4v5h-1.4zm-13.65,9a5.5,5.5 0 0,1 5.5,-5.5h15.7a5.5,5.5 0 0,1 5.5,5.5v19.9a1.8,1.8 0 0,1 -3.6,0v-18.1h-1.75v41.4a3,3 0 0,1 -6,0v-24.3h-4v24.3a3,3 0 0,1 -6,0v-41.4h-1.75v18.1a1.8,1.8 0 0,1 -3.6,0zM874.4,1067.9m-6.1,0a5.1,5.1 0 1,1 10.2,0a5.1,5.1 0 1,1 -10.2,0zm4.4,4h1.4v5h-1.4zm-13.65,9a5.5,5.5 0 0,1 5.5,-5.5h15.7a5.5,5.5 0 0,1 5.5,5.5v19.9a1.8,1.8 0 0,1 -3.6,0v-18.1h-1.75v41.4a3,3 0 0,1 -6,0v-24.3h-4v24.3a3,3 0 0,1 -6,0v-41.4h-1.75v18.1a1.8,1.8 0 0,1 -3.6,0zM931.1,1061.9m-6.1,0a5.1,5.1 0 1,1 10.2,0a5.1,5.1 0 1,1 -10.2,0zm4.4,4h1.4v5h-1.4zm-13.65,9a5.5,5.5 0 0,1 5.5,-5.5h15.7a5.5,5.5 0 0,1 5.5,5.5v19.9a1.8,1.8 0 0,1 -3.6,0v-18.1h-1.75v41.4a3,3 0 0,1 -6,0v-24.3h-4v24.3a3,3 0 0,1 -6,0v-41.4h-1.75v18.1a1.8,1.8 0 0,1 -3.6,0zM987.8,1055.9m-6.1,0a5.1,5.1 0 1,1 10.2,0a5.1,5.1 0 1,1 -10.2,0zm4.4,4h1.4v5h-1.4zm-13.65,9a5.5,5.5 0 0,1 5.5,-5.5h15.7a5.5,5.5 0 0,1 5.5,5.5v19.9a1.8,1.8 0 0,1 -3.6,0v-18.1h-1.75v41.4a3,3 0 0,1 -6,0v-24.3h-4v24.3a3,3 0 0,1 -6,0v-41.4h-1.75v18.1a1.8,1.8 0 0,1 -3.6,0zM1044.5,1049.9m-6.1,0a5.1,5.1 0 1,1 10.2,0a5.1,5.1 0 1,1 -10.2,0zm4.4,4h1.4v5h-1.4zm-13.65,9a5.5,5.5 0 0,1 5.5,-5.5h15.7a5.5,5.5 0 0,1 5.5,5.5v19.9a1.8,1.8 0 0,1 -3.6,0v-18.1h-1.75v41.4a3,3 0 0,1 -6,0v-24.3h-4v24.3a3,3 0 0,1 -6,0v-41.4h-1.75v18.1a1.8,1.8 0 0,1 -3.6,0zM1101.2,1043.9m-6.1,0a5.1,5.1 0 1,1 10.2,0a5.1,5.1 0 1,1 -10.2,0zm4.4,4h1.4v5h-1.4zm-13.65,9a5.5,5.5 0 0,1 5.5,-5.5h15.7a5.5,5.5 0 0,1 5.5,5.5v19.9a1.8,1.8 0 0,1 -3.6,0v-18.1h-1.75v41.4a3,3 0 0,1 -6,0v-24.3h-4v24.3a3,3 0 0,1 -6,0v-41.4h-1.75v18.1a1.8,1.8 0 0,1 -3.6,0zM1157.9,1037.9m-6.1,0a5.1,5.1 0 1,1 10.2,0a5.1,5.1 0 1,1 -10.2,0zm4.4,4h1.4v5h-1.4zm-13.65,9a5.5,5.5 0 0,1 5.5,-5.5h15.7a5.5,5.5 0 0,1 5.5,5.5v19.9a1.8,1.8 0 0,1 -3.6,0v-18.1h-1.75v41.4a3,3 0 0,1 -6,0v-24.3h-4v24.3a3,3 0 0,1 -6,0v-41.4h-1.75v18.1a1.8,1.8 0 0,1 -3.6,0zM1214.6,1031.9m-6.1,0a5.1,5.1 0 1,1 10.2,0a5.1,5.1 0 1,1 -10.2,0zm4.4,4h1.4v5h-1.4zm-13.65,9a5.5,5.5 0 0,1 5.5,-5.5h15.7a5.5,5.5 0 0,1 5.5,5.5v19.9a1.8,1.8 0 0,1 -3.6,0v-18.1h-1.75v41.4a3,3 0 0,1 -6,0v-24.3h-4v24.3a3,3 0 0,1 -6,0v-41.4h-1.75v18.1a1.8,1.8 0 0,1 -3.6,0zM1271.3,1025.9m-6.1,0a5.1,5.1 0 1,1 10.2,0a5.1,5.1 0 1,1 -10.2,0zm4.4,4h1.4v5h-1.4zm-13.65,9a5.5,5.5 0 0,1 5.5,-5.5h15.7a5.5,5.5 0 0,1 5.5,5.5v19.9a1.8,1.8 0 0,1 -3.6,0v-18.1h-1.75v41.4a3,3 0 0,1 -6,0v-24.3h-4v24.3a3,3 0 0,1 -6,0v-41.4h-1.75v18.1a1.8,1.8 0 0,1 -3.6,0zM1328.0,1019.9m-6.1,0a5.1,5.1 0 1,1 10.2,0a5.1,5.1 0 1,1 -10.2,0zm4.4,4h1.4v5h-1.4zm-13.65,9a5.5,5.5 0 0,1 5.5,-5.5h15.7a5.5,5.5 0 0,1 5.5,5.5v19.9a1.8,1.8 0 0,1 -3.6,0v-18.1h-1.75v41.4a3,3 0 0,1 -6,0v-24.3h-4v24.3a3,3 0 0,1 -6,0v-41.4h-1.75v18.1a1.8,1.8 0 0,1 -3.6,0zM1384.7,1013.9m-6.1,0a5.1,5.1 0 1,1 10.2,0a5.1,5.1 0 1,1 -10.2,0zm4.4,4h1.4v5h-1.4zm-13.65,9a5.5,5.5 0 0,1 5.5,-5.5h15.7a5.5,5.5 0 0,1 5.5,5.5v19.9a1.8,1.8 0 0,1 -3.6,0v-18.1h-1.75v41.4a3,3 0 0,1 -6,0v-24.3h-4v24.3a3,3 0 0,1 -6,0v-41.4h-1.75v18.1a1.8,1.8 0 0,1 -3.6,0zM1248.9,1073.3m-6.1,0a5.1,5.1 0 1,1 10.2,0a5.1,5.1 0 1,1 -10.2,0zm4.4,4h1.4v5h-1.4zm-13.65,9a5.5,5.5 0 0,1 5.5,-5.5h15.7a5.5,5.5 0 0,1 5.5,5.5v19.9a1.8,1.8 0 0,1 -3.6,0v-18.1h-1.75v41.4a3,3 0 0,1 -6,0v-24.3h-4v24.3a3,3 0 0,1 -6,0v-41.4h-1.75v18.1a1.8,1.8 0 0,1 -3.6,0zM1305.6,1067.3m-6.1,0a5.1,5.1 0 1,1 10.2,0a5.1,5.1 0 1,1 -10.2,0zm4.4,4h1.4v5h-1.4zm-13.65,9a5.5,5.5 0 0,1 5.5,-5.5h15.7a5.5,5.5 0 0,1 5.5,5.5v19.9a1.8,1.8 0 0,1 -3.6,0v-18.1h-1.75v41.4a3,3 0 0,1 -6,0v-24.3h-4v24.3a3,3 0 0,1 -6,0v-41.4h-1.75v18.1a1.8,1.8 0 0,1 -3.6,0zM1362.3,1061.3m-6.1,0a5.1,5.1 0 1,1 10.2,0a5.1,5.1 0 1,1 -10.2,0zm4.4,4h1.4v5h-1.4zm-13.65,9a5.5,5.5 0 0,1 5.5,-5.5h15.7a5.5,5.5 0 0,1 5.5,5.5v19.9a1.8,1.8 0 0,1 -3.6,0v-18.1h-1.75v41.4a3,3 0 0,1 -6,0v-24.3h-4v24.3a3,3 0 0,1 -6,0v-41.4h-1.75v18.1a1.8,1.8 0 0,1 -3.6,0zM1419.0,1055.3m-6.1,0a5.1,5.1 0 1,1 10.2,0a5.1,5.1 0 1,1 -10.2,0zm4.4,4h1.4v5h-1.4zm-13.65,9a5.5,5.5 0 0,1 5.5,-5.5h15.7a5.5,5.5 0 0,1 5.5,5.5v19.9a1.8,1.8 0 0,1 -3.6,0v-18.1h-1.75v41.4a3,3 0 0,1 -6,0v-24.3h-4v24.3a3,3 0 0,1 -6,0v-41.4h-1.75v18.1a1.8,1.8 0 0,1 -3.6,0z"/>
</svg>
<div class="lt">Type of Organization</div>
<div class="li" style="top:325px"><i style="background:#2b4fb3"></i><span style="letter-spacing:1.00px">Corporate</span></div><div class="li" style="top:369px"><i style="background:#739ade"></i><span style="letter-spacing:0.95px">Corporate trade association</span></div><div class="li" style="top:413px"><i style="background:#9ecbfb"></i><span style="letter-spacing:0.70px">Small and medium-sized enterprise</span></div><div class="li" style="top:457px"><i style="background:radial-gradient(circle,#000 0.40px,transparent 0.75px) 0 0/5.0px 5.0px,radial-gradient(circle,#000 0.40px,transparent 0.75px) 2.50px 2.50px/5.0px 5.0px,#0e1d46"></i><span style="letter-spacing:0.40px">Labor</span></div><div class="li" style="top:501px"><i style="background:#e2b562"></i><span style="letter-spacing:1.12px">Standards organization</span></div><div class="li" style="top:545px"><i style="background:#6e1229"></i><span style="letter-spacing:0.87px">Sub-federal government</span></div><div class="li" style="top:589px"><i style="background:radial-gradient(circle,#4a5fa8 0.40px,transparent 0.75px) 0 0/5.0px 5.0px,radial-gradient(circle,#4a5fa8 0.40px,transparent 0.75px) 2.50px 2.50px/5.0px 5.0px,#565c71"></i><span style="letter-spacing:0.91px">Professional trade association</span></div><div class="li" style="top:633px"><i style="background:#989fa6"></i><span style="letter-spacing:1.21px">Intergovernmental association</span></div><div class="li" style="top:677px"><i style="background:radial-gradient(circle,#eab04a 0.50px,transparent 0.85px) 0 0/2.4px 2.4px,radial-gradient(circle,#eab04a 0.50px,transparent 0.85px) 1.20px 1.20px/2.4px 2.4px,#dad6d0"></i><span style="letter-spacing:0.88px">Think tank</span></div><div class="li" style="top:721px"><i style="background:radial-gradient(circle,#8a8a8a 0.40px,transparent 0.75px) 0 0/2.4px 2.4px,radial-gradient(circle,#8a8a8a 0.40px,transparent 0.75px) 1.20px 1.20px/2.4px 2.4px,#4f556a"></i><span style="letter-spacing:0.41px">Academic</span></div><div class="li" style="top:765px"><i style="background:radial-gradient(circle,#8796a8 0.42px,transparent 0.77px) 0 0/3.6px 3.6px,radial-gradient(circle,#8796a8 0.42px,transparent 0.77px) 1.80px 1.80px/3.6px 3.6px,#e5b660"></i><span style="letter-spacing:1.01px">Agribusiness promotion board</span></div><div class="li" style="top:809px"><i style="background:radial-gradient(circle,#14030a 0.50px,transparent 0.85px) 0 0/2.8px 2.8px,radial-gradient(circle,#14030a 0.50px,transparent 0.85px) 1.40px 1.40px/2.8px 2.8px,#78152f"></i><span style="letter-spacing:0.85px">Cooperative</span></div><div class="li" style="top:853px"><i style="background:#6adfc8"></i><span style="letter-spacing:1.66px">Non-profit</span></div>
<div class="corner"></div>
</body></html>
